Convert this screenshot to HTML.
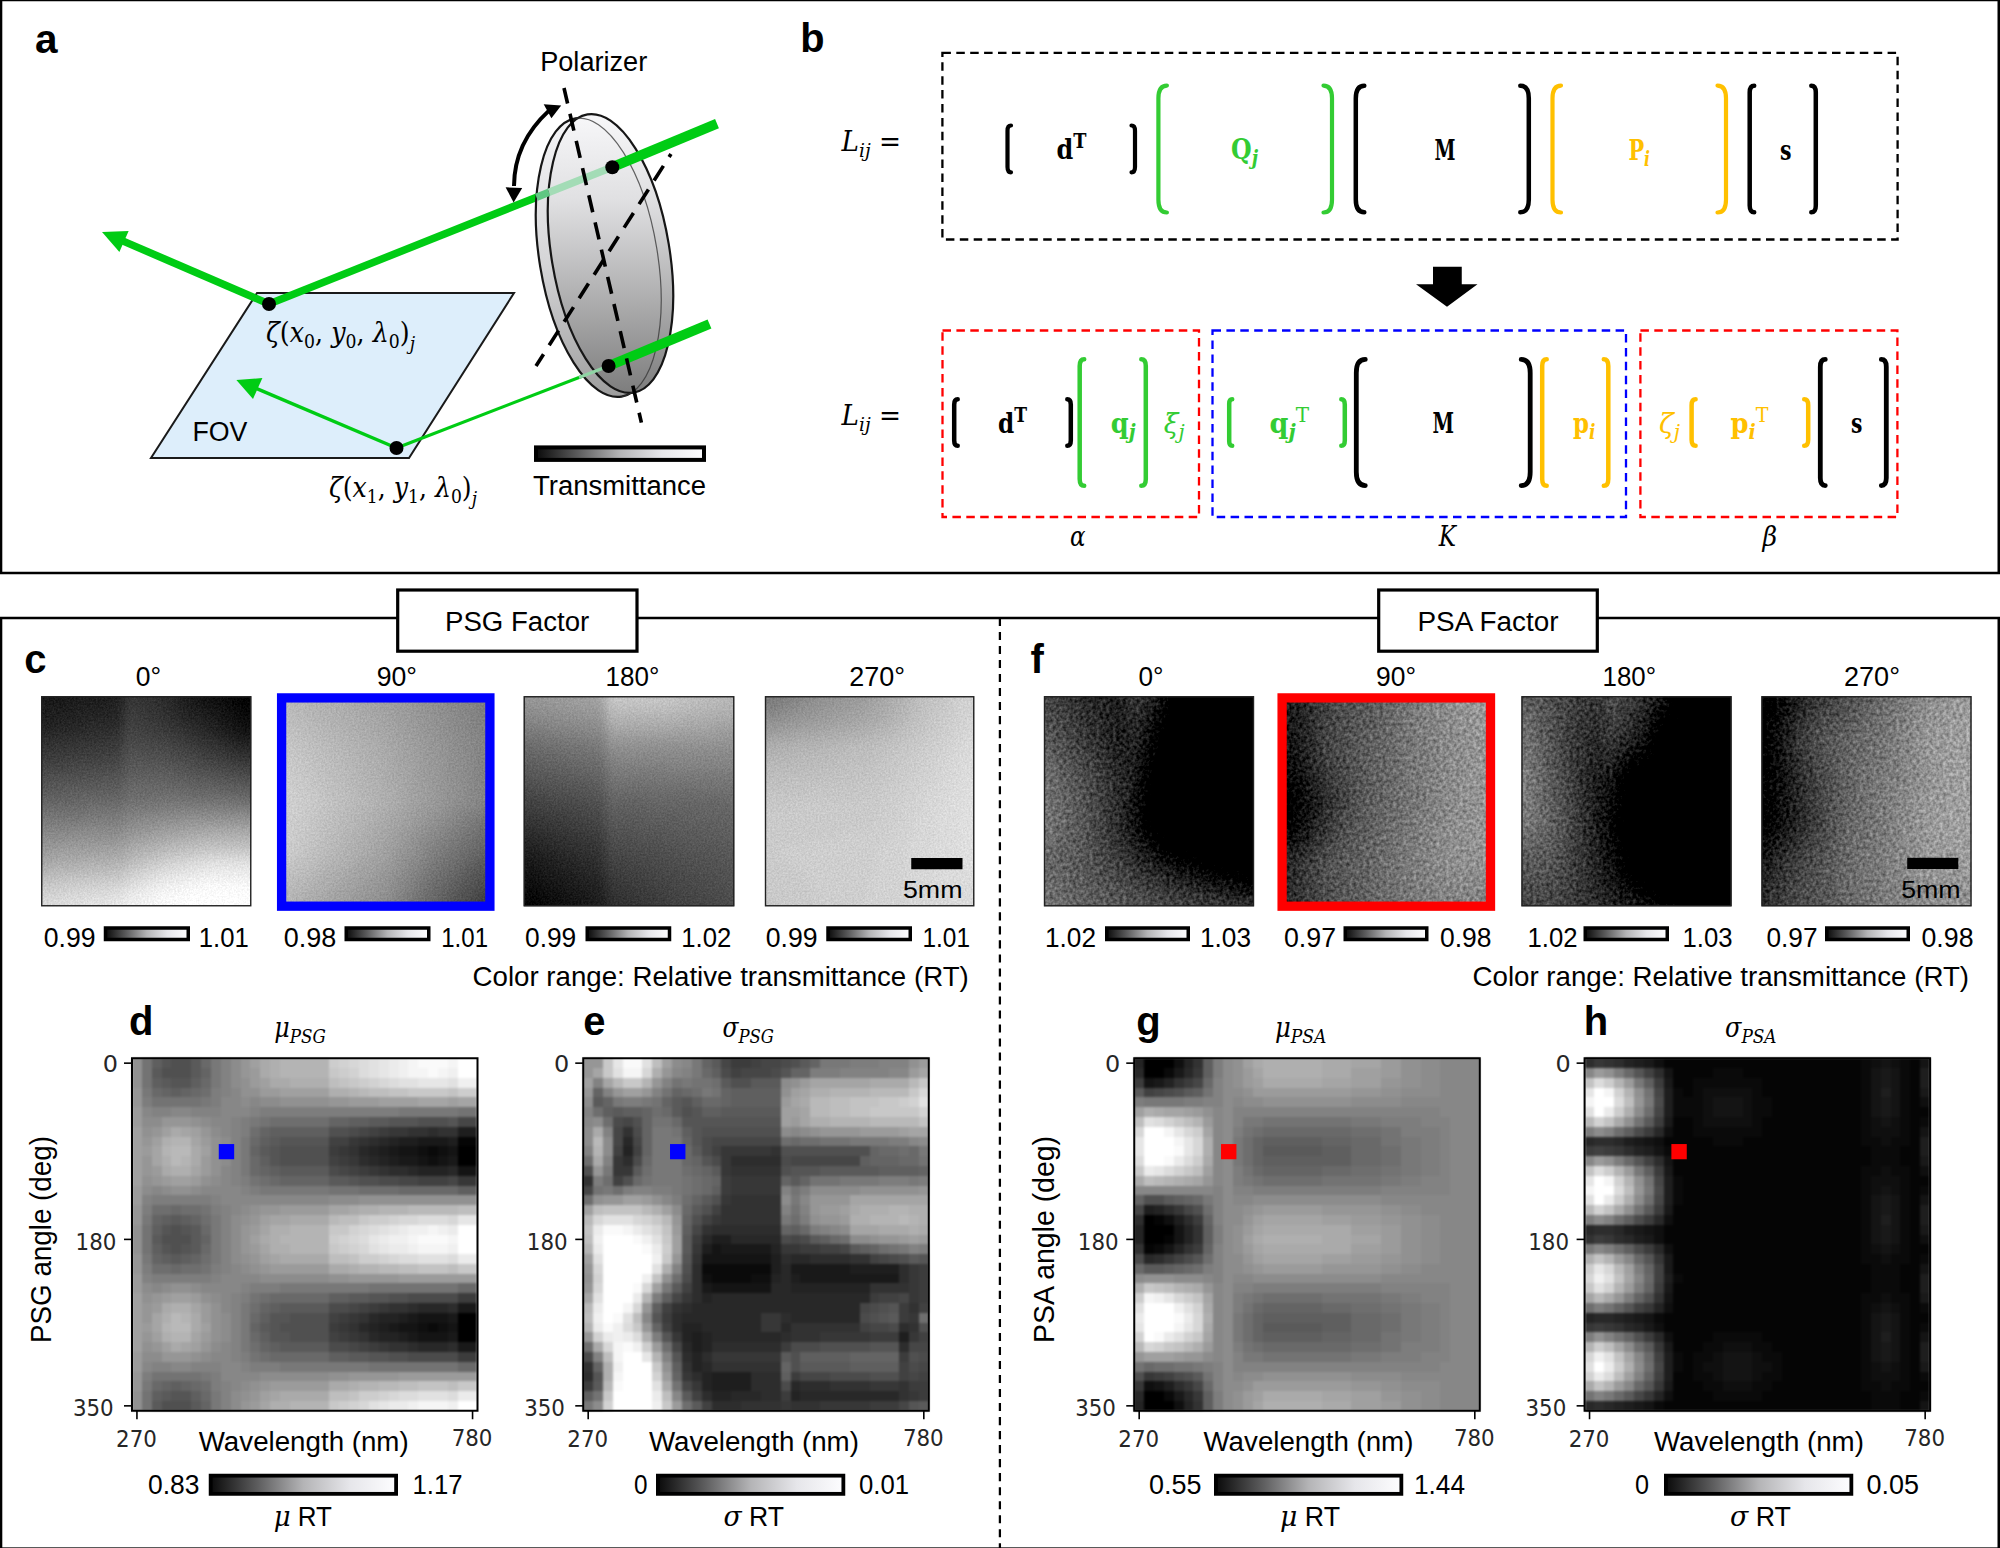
<!DOCTYPE html>
<html lang="en"><head><meta charset="utf-8"><title>Figure</title>
<style>html,body{margin:0;padding:0;background:#fff}svg{display:block}text{white-space:pre}</style>
</head><body>
<svg width="2000" height="1548" viewBox="0 0 2000 1548">
<defs>
<linearGradient id="gb" x1="0" x2="1" y1="0" y2="0"><stop offset="0" stop-color="#0a0a0a"/><stop offset="0.25" stop-color="#5c5c5d"/><stop offset="0.5" stop-color="#b4b4b6"/><stop offset="0.75" stop-color="#e6e6ea"/><stop offset="1" stop-color="#fdfdff"/></linearGradient>
<linearGradient id="disc" gradientUnits="userSpaceOnUse" x1="28" y1="-135" x2="-14" y2="142"><stop offset="0" stop-color="#f7f7f9"/><stop offset="0.3" stop-color="#e0e0e2"/><stop offset="0.6" stop-color="#b6b6b7"/><stop offset="1" stop-color="#7c7c7c"/></linearGradient>
<linearGradient id="discb" gradientUnits="userSpaceOnUse" x1="10" y1="-135" x2="-5" y2="142"><stop offset="0" stop-color="#f4f4f6"/><stop offset="0.5" stop-color="#d4d4d6"/><stop offset="1" stop-color="#9c9c9c"/></linearGradient>
<filter id="nzc" x="0" y="0" width="1" height="1" color-interpolation-filters="sRGB"><feGaussianBlur in="SourceGraphic" stdDeviation="5" result="b"/><feTurbulence type="fractalNoise" baseFrequency="0.55" numOctaves="2" seed="4" result="t"/><feColorMatrix in="t" type="matrix" values="1 0 0 0 0 1 0 0 0 0 1 0 0 0 0 0 0 0 0 1" result="g"/><feComposite in="b" in2="g" operator="arithmetic" k1="0" k2="1" k3="0.16" k4="-0.08"/></filter>
<filter id="nzf" x="0" y="0" width="1" height="1" color-interpolation-filters="sRGB"><feGaussianBlur in="SourceGraphic" stdDeviation="4.5" result="b"/><feTurbulence type="fractalNoise" baseFrequency="0.3" numOctaves="2" seed="9" result="t"/><feColorMatrix in="t" type="matrix" values="1 0 0 0 0 1 0 0 0 0 1 0 0 0 0 0 0 0 0 1" result="g"/><feComposite in="b" in2="g" operator="arithmetic" k1="0" k2="1.2" k3="0.46" k4="-0.43"/></filter>
<filter id="soft" x="-0.02" y="-0.02" width="1.04" height="1.04" color-interpolation-filters="sRGB"><feGaussianBlur stdDeviation="0.9"/></filter>
</defs>
<rect width="2000" height="1548" fill="#fff"/>
<rect x="1.05" y="0" width="1997.7" height="573" fill="none" stroke="#000" stroke-width="2.5"/>
<rect x="1.05" y="618" width="1997.7" height="930.6" fill="none" stroke="#000" stroke-width="2.5"/>
<line x1="999.9" y1="617.9" x2="999.9" y2="1548" stroke="#000" stroke-width="2.25" stroke-dasharray="8.1 5.92"/>
<text x="35" y="52.6" font-size="40.5" font-family="'Liberation Sans',sans-serif" font-weight="bold">a</text>
<polygon points="257,293 514,293 409,458 151,458" fill="#ddeefb" stroke="#1a1a1a" stroke-width="2" stroke-linejoin="miter"/>
<text x="192.4" y="441" font-size="27" font-family="'Liberation Sans',sans-serif" textLength="55" lengthAdjust="spacingAndGlyphs">FOV</text>
<line x1="269" y1="304" x2="560" y2="187.9" stroke="#00cc14" stroke-width="7.5"/>
<line x1="269" y1="304" x2="122" y2="240.6" stroke="#00cc14" stroke-width="7.5"/>
<polygon points="102,232 128.6,230.9 119.4,252.1" fill="#00cc14"/>
<line x1="396.5" y1="448" x2="590" y2="373.2" stroke="#00cc14" stroke-width="3.2"/>
<line x1="396.5" y1="448" x2="255" y2="387.9" stroke="#00cc14" stroke-width="3.4"/>
<polygon points="236.4,380 262.4,378 253,399" fill="#00cc14"/>
<g transform="translate(598.5 257.5) rotate(-9.4)"><ellipse rx="59" ry="141" fill="url(#discb)" stroke="#161616" stroke-width="2.2"/></g>
<g transform="translate(610.5 253.5) rotate(-9.4)"><ellipse rx="59" ry="141" fill="url(#disc)" stroke="#161616" stroke-width="2.2"/></g>
<line x1="536.5" y1="197.2" x2="549" y2="192.2" stroke="#5fc782" stroke-width="7.5"/>
<line x1="549" y1="192.2" x2="612" y2="167.2" stroke="#a3dcb6" stroke-width="7.5"/>
<line x1="579" y1="377.4" x2="608.6" y2="366" stroke="#8fd4a4" stroke-width="3.2"/>
<g transform="translate(598.5 257.5) rotate(-9.4)"><path d="M0,-141 A59,141 0 0 1 0,141" fill="none" stroke="#333" stroke-width="1.2" opacity="0.75"/></g>
<line x1="612.3" y1="167.2" x2="717" y2="123.6" stroke="#00cc14" stroke-width="10"/>
<line x1="608.6" y1="366" x2="709.5" y2="324" stroke="#00cc14" stroke-width="10"/>
<line x1="564" y1="88" x2="641.4" y2="422.6" stroke="#000" stroke-width="3.6" stroke-dasharray="17.4 10.5" stroke-dashoffset="1.5"/>
<line x1="671" y1="154" x2="536" y2="366" stroke="#000" stroke-width="3.6" stroke-dasharray="17.4 10.5" stroke-dashoffset="13.8"/>
<circle cx="269" cy="304" r="7"/>
<circle cx="396.5" cy="448" r="7"/>
<circle cx="612.3" cy="167.2" r="7"/>
<circle cx="608.6" cy="366" r="7"/>
<path d="M549,110.6 Q514.25,142.5 514,186" fill="none" stroke="#000" stroke-width="4"/>
<polygon points="561.2,105.6 543.7,104.2 551.4,118.2"/>
<polygon points="513.6,202.4 505.6,187.3 522.2,188"/>
<text x="540.2" y="71" font-size="27" font-family="'Liberation Sans',sans-serif" textLength="107.04" lengthAdjust="spacingAndGlyphs">Polarizer</text>
<rect x="536" y="447.4" width="168" height="12.5" fill="url(#gb)" stroke="#000" stroke-width="4"/>
<text x="533" y="494.8" font-size="27" font-family="'Liberation Sans',sans-serif" textLength="173.06" lengthAdjust="spacingAndGlyphs">Transmittance</text>
<text x="266" y="342" font-size="28" font-family="'DejaVu Serif','Liberation Serif',serif" textLength="149" lengthAdjust="spacingAndGlyphs"><tspan font-style="italic">ζ</tspan>(<tspan font-style="italic">x</tspan><tspan font-size="19" dy="6">0</tspan><tspan dy="-6">, </tspan><tspan font-style="italic">y</tspan><tspan font-size="19" dy="6">0</tspan><tspan dy="-6">, </tspan><tspan font-style="italic">λ</tspan><tspan font-size="19" dy="6">0</tspan><tspan dy="-6">)</tspan><tspan font-size="19" font-style="italic" dy="8">j</tspan></text>
<text x="329" y="497" font-size="28" font-family="'DejaVu Serif','Liberation Serif',serif" textLength="148" lengthAdjust="spacingAndGlyphs"><tspan font-style="italic">ζ</tspan>(<tspan font-style="italic">x</tspan><tspan font-size="19" dy="6">1</tspan><tspan dy="-6">, </tspan><tspan font-style="italic">y</tspan><tspan font-size="19" dy="6">1</tspan><tspan dy="-6">, </tspan><tspan font-style="italic">λ</tspan><tspan font-size="19" dy="6">0</tspan><tspan dy="-6">)</tspan><tspan font-size="19" font-style="italic" dy="8">j</tspan></text>
<text x="800.3" y="52.2" font-size="39.8" font-family="'Liberation Sans',sans-serif" font-weight="bold">b</text>
<rect x="942.4" y="52.9" width="955.2" height="186.6" fill="none" stroke="#000" stroke-width="2.3" stroke-dasharray="8.5 5.4"/>
<rect x="942.5" y="330.5" width="256.5" height="186.5" fill="none" stroke="#ff0000" stroke-width="2.3" stroke-dasharray="8.5 5.4"/>
<rect x="1212.5" y="330.5" width="413.5" height="186.5" fill="none" stroke="#0000ff" stroke-width="2.3" stroke-dasharray="8.5 5.4"/>
<rect x="1640.4" y="330.5" width="257" height="186.5" fill="none" stroke="#ff0000" stroke-width="2.3" stroke-dasharray="8.5 5.4"/>
<polygon points="1433,266.75 1461.75,266.75 1461.75,284.25 1477.5,284.25 1447,306.75 1416,284.25 1433,284.25"/>
<path d="M1011,125.5 Q1007.5,125.5 1007.5,130.75 L1007.5,167.05 Q1007.5,172.3 1011,172.3" fill="none" stroke="#000" stroke-width="4.2" stroke-linecap="round"/>
<path d="M1131.5,125.5 Q1135,125.5 1135,130.75 L1135,167.05 Q1135,172.3 1131.5,172.3" fill="none" stroke="#000" stroke-width="4.2" stroke-linecap="round"/>
<path d="M1166.9,85.6 Q1158.4,85.6 1158.4,98.35 L1158.4,199.75 Q1158.4,212.5 1166.9,212.5" fill="none" stroke="#33cc33" stroke-width="4.2" stroke-linecap="round"/>
<path d="M1323.5,85.6 Q1332,85.6 1332,98.35 L1332,199.75 Q1332,212.5 1323.5,212.5" fill="none" stroke="#33cc33" stroke-width="4.2" stroke-linecap="round"/>
<path d="M1364.3,85.75 Q1355.8,85.75 1355.8,98.5 L1355.8,199.6 Q1355.8,212.35 1364.3,212.35" fill="none" stroke="#000" stroke-width="4.5" stroke-linecap="round"/>
<path d="M1520.3,85.75 Q1528.8,85.75 1528.8,98.5 L1528.8,199.6 Q1528.8,212.35 1520.3,212.35" fill="none" stroke="#000" stroke-width="4.5" stroke-linecap="round"/>
<path d="M1561,85.6 Q1552.5,85.6 1552.5,98.35 L1552.5,199.75 Q1552.5,212.5 1561,212.5" fill="none" stroke="#ffc000" stroke-width="4.2" stroke-linecap="round"/>
<path d="M1717.5,85.6 Q1726,85.6 1726,98.35 L1726,199.75 Q1726,212.5 1717.5,212.5" fill="none" stroke="#ffc000" stroke-width="4.2" stroke-linecap="round"/>
<path d="M1754.2,85.75 Q1749.7,85.75 1749.7,92.5 L1749.7,205.6 Q1749.7,212.35 1754.2,212.35" fill="none" stroke="#000" stroke-width="4.5" stroke-linecap="round"/>
<path d="M1811.3,85.75 Q1815.8,85.75 1815.8,92.5 L1815.8,205.6 Q1815.8,212.35 1811.3,212.35" fill="none" stroke="#000" stroke-width="4.5" stroke-linecap="round"/>
<path d="M957.7,399.25 Q954.2,399.25 954.2,404.5 L954.2,440.5 Q954.2,445.75 957.7,445.75" fill="none" stroke="#000" stroke-width="4.5" stroke-linecap="round"/>
<path d="M1067.3,399.25 Q1070.8,399.25 1070.8,404.5 L1070.8,440.5 Q1070.8,445.75 1067.3,445.75" fill="none" stroke="#000" stroke-width="4.5" stroke-linecap="round"/>
<path d="M1084.2,359.25 Q1079.7,359.25 1079.7,366 L1079.7,479 Q1079.7,485.75 1084.2,485.75" fill="none" stroke="#33cc33" stroke-width="4.5" stroke-linecap="round"/>
<path d="M1141.3,359.25 Q1145.8,359.25 1145.8,366 L1145.8,479 Q1145.8,485.75 1141.3,485.75" fill="none" stroke="#33cc33" stroke-width="4.5" stroke-linecap="round"/>
<path d="M1232.2,399.25 Q1229.2,399.25 1229.2,403.75 L1229.2,441.25 Q1229.2,445.75 1232.2,445.75" fill="none" stroke="#33cc33" stroke-width="4.5" stroke-linecap="round"/>
<path d="M1341.3,399.25 Q1344.8,399.25 1344.8,404.5 L1344.8,440.5 Q1344.8,445.75 1341.3,445.75" fill="none" stroke="#33cc33" stroke-width="4.5" stroke-linecap="round"/>
<path d="M1365.3,359.4 Q1356.3,359.4 1356.3,372.9 L1356.3,472.1 Q1356.3,485.6 1365.3,485.6" fill="none" stroke="#000" stroke-width="4.8" stroke-linecap="round"/>
<path d="M1521.2,359.4 Q1530.2,359.4 1530.2,372.9 L1530.2,472.1 Q1530.2,485.6 1521.2,485.6" fill="none" stroke="#000" stroke-width="4.8" stroke-linecap="round"/>
<path d="M1546.7,359.25 Q1542.2,359.25 1542.2,366 L1542.2,479 Q1542.2,485.75 1546.7,485.75" fill="none" stroke="#ffc000" stroke-width="4.5" stroke-linecap="round"/>
<path d="M1603.8,359.25 Q1608.3,359.25 1608.3,366 L1608.3,479 Q1608.3,485.75 1603.8,485.75" fill="none" stroke="#ffc000" stroke-width="4.5" stroke-linecap="round"/>
<path d="M1695.6,399.25 Q1691.6,399.25 1691.6,405.25 L1691.6,439.75 Q1691.6,445.75 1695.6,445.75" fill="none" stroke="#ffc000" stroke-width="4.5" stroke-linecap="round"/>
<path d="M1804.2,399.25 Q1808.2,399.25 1808.2,405.25 L1808.2,439.75 Q1808.2,445.75 1804.2,445.75" fill="none" stroke="#ffc000" stroke-width="4.5" stroke-linecap="round"/>
<path d="M1825.3,359.4 Q1820.3,359.4 1820.3,366.9 L1820.3,478.1 Q1820.3,485.6 1825.3,485.6" fill="none" stroke="#000" stroke-width="4.8" stroke-linecap="round"/>
<path d="M1881.3,359.4 Q1886.3,359.4 1886.3,366.9 L1886.3,478.1 Q1886.3,485.6 1881.3,485.6" fill="none" stroke="#000" stroke-width="4.8" stroke-linecap="round"/>
<text x="841.6" y="151" font-size="27" font-family="'DejaVu Serif','Liberation Serif',serif" textLength="59.5" lengthAdjust="spacingAndGlyphs"><tspan font-style="italic">L</tspan><tspan font-style="italic" font-size="19" dy="6">ij</tspan><tspan dy="-6"> =</tspan></text>
<text x="841.6" y="425" font-size="27" font-family="'DejaVu Serif','Liberation Serif',serif" textLength="59.5" lengthAdjust="spacingAndGlyphs"><tspan font-style="italic">L</tspan><tspan font-style="italic" font-size="19" dy="6">ij</tspan><tspan dy="-6"> =</tspan></text>
<text x="1056.4" y="159.4" font-size="27" font-family="'DejaVu Serif','Liberation Serif',serif" textLength="30" lengthAdjust="spacingAndGlyphs"><tspan font-weight="bold">d</tspan><tspan font-size="20" font-weight="bold" dy="-11">T</tspan></text>
<text x="1231" y="159.4" font-size="27" font-family="'DejaVu Serif','Liberation Serif',serif" fill="#33cc33" textLength="27" lengthAdjust="spacingAndGlyphs"><tspan font-weight="bold">Q</tspan><tspan font-size="20" font-style="italic" font-weight="bold" dy="6">j</tspan></text>
<text x="1434.6" y="160" font-size="27" font-family="'DejaVu Serif','Liberation Serif',serif" textLength="21" lengthAdjust="spacingAndGlyphs"><tspan font-weight="bold">M</tspan></text>
<text x="1628.4" y="160" font-size="27" font-family="'DejaVu Serif','Liberation Serif',serif" fill="#ffc000" textLength="21.6" lengthAdjust="spacingAndGlyphs"><tspan font-weight="bold">P</tspan><tspan font-size="20" font-style="italic" font-weight="bold" dy="6">i</tspan></text>
<text x="1780" y="160" font-size="27" font-family="'DejaVu Serif','Liberation Serif',serif" textLength="11.5" lengthAdjust="spacingAndGlyphs"><tspan font-weight="bold">s</tspan></text>
<text x="998" y="432.5" font-size="27" font-family="'DejaVu Serif','Liberation Serif',serif" textLength="29" lengthAdjust="spacingAndGlyphs"><tspan font-weight="bold">d</tspan><tspan font-size="20" font-weight="bold" dy="-11">T</tspan></text>
<text x="1110.75" y="432.5" font-size="27" font-family="'DejaVu Serif','Liberation Serif',serif" fill="#33cc33" textLength="24.75" lengthAdjust="spacingAndGlyphs"><tspan font-weight="bold">q</tspan><tspan font-size="20" font-style="italic" font-weight="bold" dy="6">j</tspan></text>
<text x="1163.75" y="432.5" font-size="27" font-family="'DejaVu Serif','Liberation Serif',serif" fill="#33cc33" textLength="20.75" lengthAdjust="spacingAndGlyphs"><tspan font-weight="normal" font-style="italic">ξ</tspan><tspan font-size="20" font-style="italic" font-weight="normal" dy="6">j</tspan></text>
<text x="1269.5" y="432.5" font-size="27" font-family="'DejaVu Serif','Liberation Serif',serif" fill="#33cc33" textLength="39.5" lengthAdjust="spacingAndGlyphs"><tspan font-weight="bold">q</tspan><tspan font-size="20" font-style="italic" font-weight="bold" dy="6">j</tspan><tspan font-size="20" font-weight="normal" dy="-17">T</tspan></text>
<text x="1432.5" y="433" font-size="27" font-family="'DejaVu Serif','Liberation Serif',serif" textLength="21.5" lengthAdjust="spacingAndGlyphs"><tspan font-weight="bold">M</tspan></text>
<text x="1573" y="433" font-size="27" font-family="'DejaVu Serif','Liberation Serif',serif" fill="#ffc000" textLength="22.5" lengthAdjust="spacingAndGlyphs"><tspan font-weight="bold">p</tspan><tspan font-size="20" font-style="italic" font-weight="bold" dy="6">i</tspan></text>
<text x="1659" y="432.5" font-size="27" font-family="'DejaVu Serif','Liberation Serif',serif" fill="#ffc000" textLength="21" lengthAdjust="spacingAndGlyphs"><tspan font-weight="normal" font-style="italic">ζ</tspan><tspan font-size="20" font-style="italic" font-weight="normal" dy="6">j</tspan></text>
<text x="1730.4" y="432.5" font-size="27" font-family="'DejaVu Serif','Liberation Serif',serif" fill="#ffc000" textLength="38" lengthAdjust="spacingAndGlyphs"><tspan font-weight="bold">p</tspan><tspan font-size="20" font-style="italic" font-weight="bold" dy="6">i</tspan><tspan font-size="20" font-weight="normal" dy="-17">T</tspan></text>
<text x="1851" y="432.5" font-size="27" font-family="'DejaVu Serif','Liberation Serif',serif" textLength="11.4" lengthAdjust="spacingAndGlyphs"><tspan font-weight="bold">s</tspan></text>
<text x="1070" y="546" font-size="27" font-family="'DejaVu Serif','Liberation Serif',serif" font-style="italic" textLength="15.5" lengthAdjust="spacingAndGlyphs">α</text>
<text x="1438.75" y="546" font-size="27" font-family="'DejaVu Serif','Liberation Serif',serif" font-style="italic" textLength="17.25" lengthAdjust="spacingAndGlyphs">K</text>
<text x="1762.4" y="546" font-size="27" font-family="'DejaVu Serif','Liberation Serif',serif" font-style="italic" textLength="14.6" lengthAdjust="spacingAndGlyphs">β</text>
<rect x="397.7" y="590" width="239.3" height="61.2" fill="#fff" stroke="#000" stroke-width="3.2"/>
<rect x="1378.7" y="590" width="218.6" height="61.2" fill="#fff" stroke="#000" stroke-width="3.2"/>
<text x="445" y="630.8" font-size="27" font-family="'Liberation Sans',sans-serif" textLength="144.24" lengthAdjust="spacingAndGlyphs">PSG Factor</text>
<text x="1417.5" y="630.8" font-size="27" font-family="'Liberation Sans',sans-serif" textLength="141.06" lengthAdjust="spacingAndGlyphs">PSA Factor</text>
<text x="24.3" y="673.3" font-size="40" font-family="'Liberation Sans',sans-serif" font-weight="bold">c</text>
<text x="1030.6" y="673.1" font-size="40" font-family="'Liberation Sans',sans-serif" font-weight="bold">f</text>
<text x="129" y="1035.2" font-size="40" font-family="'Liberation Sans',sans-serif" font-weight="bold">d</text>
<text x="583.2" y="1035.2" font-size="40" font-family="'Liberation Sans',sans-serif" font-weight="bold">e</text>
<text x="1136.2" y="1035.2" font-size="40" font-family="'Liberation Sans',sans-serif" font-weight="bold">g</text>
<text x="1583.7" y="1035.2" font-size="40" font-family="'Liberation Sans',sans-serif" font-weight="bold">h</text>
<clipPath id="cp1"><rect x="41.25" y="696.25" width="210" height="210"/></clipPath>
<g clip-path="url(#cp1)">
<g filter="url(#nzc)"><g transform="translate(18.75 673.75) scale(7.5000 7.5000)" shape-rendering="crispEdges"><path fill="#040404" d="M29 0h5v1h-5zM29 1h5v1h-5zM29 2h5v1h-5zM29 3h5v1h-5zM30 4h4v1h-4z"/><path fill="#080808" d="M28 0h1v1h-1zM28 1h1v1h-1zM28 2h1v1h-1zM28 3h1v1h-1zM29 4h1v1h-1zM30 5h4v1h-4z"/><path fill="#0c0c0c" d="M27 0h1v1h-1zM27 1h1v1h-1zM27 2h1v1h-1zM27 3h1v1h-1zM28 4h1v1h-1zM29 5h1v1h-1zM30 6h4v1h-4z"/><path fill="#101010" d="M25 0h2v1h-2zM25 1h2v1h-2zM25 2h2v1h-2zM25 3h2v1h-2zM27 4h1v1h-1zM28 5h1v1h-1zM29 6h1v1h-1zM30 7h4v1h-4z"/><path fill="#141414" d="M24 0h1v1h-1zM24 1h1v1h-1zM24 2h1v1h-1zM24 3h1v1h-1zM25 4h2v1h-2zM27 5h1v1h-1zM28 6h1v1h-1zM29 7h1v1h-1z"/><path fill="#181818" d="M0 0h7v1h-7zM23 0h1v1h-1zM0 1h7v1h-7zM23 1h1v1h-1zM0 2h7v1h-7zM23 2h1v1h-1zM0 3h7v1h-7zM23 3h1v1h-1zM24 4h1v1h-1zM26 5h1v1h-1zM27 6h1v1h-1zM28 7h1v1h-1zM30 8h4v1h-4z"/><path fill="#1c1c1c" d="M7 0h5v1h-5zM22 0h1v1h-1zM7 1h5v1h-5zM22 1h1v1h-1zM7 2h5v1h-5zM22 2h1v1h-1zM7 3h5v1h-5zM22 3h1v1h-1zM0 4h7v1h-7zM23 4h1v1h-1zM0 5h4v1h-4zM25 5h1v1h-1zM26 6h1v1h-1zM27 7h1v1h-1zM29 8h1v1h-1z"/><path fill="#202020" d="M12 0h2v1h-2zM21 0h1v1h-1zM12 1h2v1h-2zM21 1h1v1h-1zM12 2h2v1h-2zM21 2h1v1h-1zM12 3h2v1h-2zM21 3h1v1h-1zM7 4h5v1h-5zM22 4h1v1h-1zM4 5h4v1h-4zM23 5h2v1h-2zM0 6h5v1h-5zM25 6h1v1h-1zM26 7h1v1h-1zM28 8h1v1h-1z"/><path fill="#242424" d="M12 4h2v1h-2zM21 4h1v1h-1zM8 5h5v1h-5zM22 5h1v1h-1zM5 6h4v1h-4zM24 6h1v1h-1zM0 7h5v1h-5zM25 7h1v1h-1zM27 8h1v1h-1zM29 9h5v1h-5z"/><path fill="#282828" d="M20 0h1v1h-1zM20 1h1v1h-1zM20 2h1v1h-1zM20 3h1v1h-1zM20 4h1v1h-1zM13 5h1v1h-1zM21 5h1v1h-1zM9 6h5v1h-5zM22 6h2v1h-2zM5 7h4v1h-4zM24 7h1v1h-1zM26 8h1v1h-1zM28 9h1v1h-1z"/><path fill="#2d2d2d" d="M18 0h2v1h-2zM18 1h2v1h-2zM18 2h2v1h-2zM18 3h2v1h-2zM19 4h1v1h-1zM20 5h1v1h-1zM21 6h1v1h-1zM9 7h4v1h-4zM23 7h1v1h-1zM0 8h7v1h-7zM25 8h1v1h-1zM27 9h1v1h-1zM29 10h5v1h-5z"/><path fill="#313131" d="M16 0h2v1h-2zM16 1h2v1h-2zM16 2h2v1h-2zM16 3h2v1h-2zM18 4h1v1h-1zM19 5h1v1h-1zM20 6h1v1h-1zM13 7h1v1h-1zM22 7h1v1h-1zM7 8h5v1h-5zM23 8h2v1h-2zM0 9h5v1h-5zM26 9h1v1h-1zM28 10h1v1h-1z"/><path fill="#353535" d="M15 0h1v1h-1zM15 1h1v1h-1zM15 2h1v1h-1zM15 3h1v1h-1zM16 4h2v1h-2zM17 5h2v1h-2zM19 6h1v1h-1zM20 7h2v1h-2zM12 8h2v1h-2zM22 8h1v1h-1zM5 9h5v1h-5zM24 9h2v1h-2zM27 10h1v1h-1zM30 11h4v1h-4z"/><path fill="#393939" d="M14 0h1v1h-1zM14 1h1v1h-1zM14 2h1v1h-1zM14 3h1v1h-1zM14 4h2v1h-2zM16 5h1v1h-1zM17 6h2v1h-2zM19 7h1v1h-1zM21 8h1v1h-1zM10 9h4v1h-4zM23 9h1v1h-1zM0 10h8v1h-8zM25 10h2v1h-2zM28 11h2v1h-2z"/><path fill="#3d3d3d" d="M14 5h2v1h-2zM15 6h2v1h-2zM17 7h2v1h-2zM20 8h1v1h-1zM22 9h1v1h-1zM8 10h5v1h-5zM24 10h1v1h-1zM0 11h6v1h-6zM27 11h1v1h-1z"/><path fill="#414141" d="M14 6h1v1h-1zM15 7h2v1h-2zM17 8h3v1h-3zM20 9h2v1h-2zM13 10h1v1h-1zM23 10h1v1h-1zM6 11h5v1h-5zM25 11h2v1h-2zM29 12h5v1h-5z"/><path fill="#454545" d="M14 7h1v1h-1zM15 8h2v1h-2zM18 9h2v1h-2zM21 10h2v1h-2zM11 11h3v1h-3zM24 11h1v1h-1zM0 12h7v1h-7zM27 12h2v1h-2z"/><path fill="#494949" d="M14 8h1v1h-1zM15 9h3v1h-3zM20 10h1v1h-1zM22 11h2v1h-2zM7 12h6v1h-6zM25 12h2v1h-2zM30 13h4v1h-4z"/><path fill="#4d4d4d" d="M14 9h1v1h-1zM16 10h4v1h-4zM20 11h2v1h-2zM13 12h1v1h-1zM23 12h2v1h-2zM0 13h9v1h-9zM28 13h2v1h-2z"/><path fill="#515151" d="M14 10h2v1h-2zM17 11h3v1h-3zM22 12h1v1h-1zM9 13h5v1h-5zM26 13h2v1h-2zM0 14h4v1h-4z"/><path fill="#555" d="M14 11h3v1h-3zM20 12h2v1h-2zM23 13h3v1h-3zM4 14h7v1h-7zM29 14h5v1h-5z"/><path fill="#595959" d="M14 12h6v1h-6zM21 13h2v1h-2zM11 14h3v1h-3zM26 14h3v1h-3zM0 15h6v1h-6z"/><path fill="#5d5d5d" d="M14 13h7v1h-7zM23 14h3v1h-3zM6 15h8v1h-8zM30 15h4v1h-4z"/><path fill="#616161" d="M20 14h3v1h-3zM27 15h3v1h-3zM0 16h8v1h-8z"/><path fill="#656565" d="M14 14h6v1h-6zM23 15h4v1h-4zM8 16h6v1h-6z"/><path fill="#696969" d="M14 15h9v1h-9zM29 16h5v1h-5zM0 17h9v1h-9z"/><path fill="#6d6d6d" d="M14 16h4v1h-4zM22 16h7v1h-7zM9 17h5v1h-5z"/><path fill="#717171" d="M18 16h4v1h-4zM0 18h9v1h-9z"/><path fill="#757575" d="M14 17h5v1h-5zM28 17h6v1h-6zM9 18h5v1h-5z"/><path fill="#797979" d="M19 17h9v1h-9zM0 19h9v1h-9z"/><path fill="#7d7d7d" d="M14 18h3v1h-3zM9 19h5v1h-5z"/><path fill="#828282" d="M17 18h4v1h-4zM0 20h8v1h-8z"/><path fill="#868686" d="M21 18h13v1h-13zM14 19h2v1h-2zM8 20h6v1h-6z"/><path fill="#8a8a8a" d="M16 19h3v1h-3zM0 21h7v1h-7z"/><path fill="#8e8e8e" d="M19 19h3v1h-3zM14 20h2v1h-2zM7 21h7v1h-7z"/><path fill="#929292" d="M22 19h12v1h-12zM16 20h2v1h-2zM0 22h6v1h-6z"/><path fill="#969696" d="M18 20h1v1h-1zM14 21h1v1h-1zM6 22h7v1h-7z"/><path fill="#9a9a9a" d="M19 20h3v1h-3zM15 21h2v1h-2zM13 22h1v1h-1zM0 23h5v1h-5z"/><path fill="#9e9e9e" d="M22 20h3v1h-3zM17 21h1v1h-1zM14 22h1v1h-1zM5 23h6v1h-6z"/><path fill="#a2a2a2" d="M25 20h9v1h-9zM18 21h2v1h-2zM15 22h1v1h-1zM11 23h3v1h-3zM0 24h5v1h-5z"/><path fill="#a6a6a6" d="M20 21h2v1h-2zM16 22h1v1h-1zM5 24h4v1h-4z"/><path fill="#aaa" d="M22 21h2v1h-2zM17 22h2v1h-2zM14 23h1v1h-1zM9 24h5v1h-5zM0 25h4v1h-4z"/><path fill="#aeaeae" d="M24 21h10v1h-10zM19 22h1v1h-1zM15 23h1v1h-1zM4 25h4v1h-4z"/><path fill="#b2b2b2" d="M20 22h2v1h-2zM16 23h2v1h-2zM14 24h1v1h-1zM8 25h4v1h-4z"/><path fill="#b6b6b6" d="M22 22h2v1h-2zM18 23h1v1h-1zM15 24h1v1h-1zM12 25h2v1h-2zM0 26h5v1h-5z"/><path fill="#bababa" d="M24 22h10v1h-10zM19 23h1v1h-1zM16 24h1v1h-1zM5 26h4v1h-4z"/><path fill="#bebebe" d="M20 23h2v1h-2zM17 24h1v1h-1zM14 25h1v1h-1zM9 26h4v1h-4z"/><path fill="#c2c2c2" d="M22 23h2v1h-2zM18 24h1v1h-1zM15 25h1v1h-1zM13 26h1v1h-1zM0 27h6v1h-6z"/><path fill="#c6c6c6" d="M24 23h10v1h-10zM19 24h1v1h-1zM16 25h1v1h-1zM6 27h4v1h-4z"/><path fill="#cacaca" d="M20 24h2v1h-2zM17 25h1v1h-1zM14 26h1v1h-1zM10 27h4v1h-4zM0 28h5v1h-5z"/><path fill="#cecece" d="M22 24h1v1h-1zM18 25h1v1h-1zM15 26h1v1h-1zM5 28h3v1h-3z"/><path fill="#d2d2d2" d="M23 24h2v1h-2zM19 25h1v1h-1zM16 26h1v1h-1zM14 27h1v1h-1zM8 28h4v1h-4zM0 29h6v1h-6z"/><path fill="#d7d7d7" d="M25 24h9v1h-9zM20 25h2v1h-2zM17 26h1v1h-1zM15 27h1v1h-1zM12 28h2v1h-2zM6 29h3v1h-3z"/><path fill="#dbdbdb" d="M22 25h1v1h-1zM18 26h1v1h-1zM16 27h1v1h-1zM9 29h3v1h-3zM0 30h6v1h-6zM0 31h6v1h-6zM0 32h6v1h-6zM0 33h6v1h-6z"/><path fill="#dfdfdf" d="M23 25h2v1h-2zM19 26h2v1h-2zM17 27h1v1h-1zM14 28h1v1h-1zM12 29h2v1h-2zM6 30h3v1h-3zM6 31h3v1h-3zM6 32h3v1h-3zM6 33h3v1h-3z"/><path fill="#e3e3e3" d="M25 25h9v1h-9zM21 26h2v1h-2zM18 27h1v1h-1zM15 28h1v1h-1zM9 30h3v1h-3zM9 31h3v1h-3zM9 32h3v1h-3zM9 33h3v1h-3z"/><path fill="#e7e7e7" d="M23 26h2v1h-2zM19 27h1v1h-1zM16 28h1v1h-1zM14 29h1v1h-1zM12 30h2v1h-2zM12 31h2v1h-2zM12 32h2v1h-2zM12 33h2v1h-2z"/><path fill="#ebebeb" d="M25 26h9v1h-9zM20 27h2v1h-2zM17 28h1v1h-1zM15 29h2v1h-2z"/><path fill="#efefef" d="M22 27h2v1h-2zM18 28h2v1h-2zM17 29h1v1h-1zM14 30h2v1h-2zM14 31h2v1h-2zM14 32h2v1h-2zM14 33h2v1h-2z"/><path fill="#f3f3f3" d="M24 27h10v1h-10zM20 28h2v1h-2zM18 29h1v1h-1zM16 30h1v1h-1zM16 31h1v1h-1zM16 32h1v1h-1zM16 33h1v1h-1z"/><path fill="#f7f7f7" d="M22 28h2v1h-2zM19 29h3v1h-3zM17 30h2v1h-2zM17 31h2v1h-2zM17 32h2v1h-2zM17 33h2v1h-2z"/><path fill="#fbfbfb" d="M24 28h10v1h-10zM22 29h12v1h-12zM19 30h3v1h-3zM19 31h3v1h-3zM19 32h3v1h-3zM19 33h3v1h-3z"/><path fill="#fff" d="M22 30h12v1h-12zM22 31h12v1h-12zM22 32h12v1h-12zM22 33h12v1h-12z"/></g></g>
</g>
<rect x="41.75" y="696.75" width="209" height="209" fill="none" stroke="#222" stroke-width="1.4"/>
<clipPath id="cp2"><rect x="285" y="701" width="202" height="202"/></clipPath>
<g clip-path="url(#cp2)">
<g filter="url(#nzc)"><g transform="translate(263.36 679.36) scale(7.2143 7.2143)" shape-rendering="crispEdges"><path fill="#414141" d="M30 30h4v1h-4zM30 31h4v1h-4zM30 32h4v1h-4zM30 33h4v1h-4z"/><path fill="#454545" d="M30 29h4v1h-4zM29 30h1v1h-1zM29 31h1v1h-1zM29 32h1v1h-1zM29 33h1v1h-1z"/><path fill="#4d4d4d" d="M30 28h4v1h-4zM29 29h1v1h-1zM28 30h1v1h-1zM28 31h1v1h-1zM28 32h1v1h-1zM28 33h1v1h-1z"/><path fill="#515151" d="M30 27h4v1h-4zM29 28h1v1h-1zM28 29h1v1h-1zM27 30h1v1h-1zM27 31h1v1h-1zM27 32h1v1h-1zM27 33h1v1h-1z"/><path fill="#555" d="M30 26h4v1h-4zM29 27h1v1h-1zM28 28h1v1h-1zM27 29h1v1h-1zM26 30h1v1h-1zM26 31h1v1h-1zM26 32h1v1h-1zM26 33h1v1h-1z"/><path fill="#595959" d="M30 25h4v1h-4zM29 26h1v1h-1zM28 27h1v1h-1zM27 28h1v1h-1zM26 29h1v1h-1z"/><path fill="#5d5d5d" d="M30 24h4v1h-4zM29 25h1v1h-1zM28 26h1v1h-1zM27 27h1v1h-1zM25 30h1v1h-1zM25 31h1v1h-1zM25 32h1v1h-1zM25 33h1v1h-1z"/><path fill="#616161" d="M28 25h1v1h-1zM26 28h1v1h-1zM25 29h1v1h-1zM24 30h1v1h-1zM24 31h1v1h-1zM24 32h1v1h-1zM24 33h1v1h-1z"/><path fill="#656565" d="M30 23h4v1h-4zM29 24h1v1h-1zM27 26h1v1h-1zM26 27h1v1h-1zM25 28h1v1h-1zM24 29h1v1h-1z"/><path fill="#696969" d="M30 22h4v1h-4zM29 23h1v1h-1zM28 24h1v1h-1zM27 25h1v1h-1zM26 26h1v1h-1zM25 27h1v1h-1zM24 28h1v1h-1zM23 29h1v1h-1zM23 30h1v1h-1zM23 31h1v1h-1zM23 32h1v1h-1zM23 33h1v1h-1z"/><path fill="#6d6d6d" d="M30 21h4v1h-4zM29 22h1v1h-1zM28 23h1v1h-1zM27 24h1v1h-1zM26 25h1v1h-1zM25 26h1v1h-1zM24 27h1v1h-1zM23 28h1v1h-1zM22 30h1v1h-1zM22 31h1v1h-1zM22 32h1v1h-1zM22 33h1v1h-1z"/><path fill="#717171" d="M30 20h4v1h-4zM29 21h1v1h-1zM28 22h1v1h-1zM27 23h1v1h-1zM26 24h1v1h-1zM25 25h1v1h-1zM24 26h1v1h-1zM23 27h1v1h-1zM22 29h1v1h-1zM21 30h1v1h-1zM21 31h1v1h-1zM21 32h1v1h-1zM21 33h1v1h-1z"/><path fill="#757575" d="M30 19h4v1h-4zM29 20h1v1h-1zM28 21h1v1h-1zM27 22h1v1h-1zM26 23h1v1h-1zM25 24h1v1h-1zM24 25h1v1h-1zM23 26h1v1h-1zM22 28h1v1h-1zM21 29h1v1h-1z"/><path fill="#797979" d="M29 19h1v1h-1zM28 20h1v1h-1zM27 21h1v1h-1zM26 22h1v1h-1zM25 23h1v1h-1zM24 24h1v1h-1zM23 25h1v1h-1zM22 27h1v1h-1zM21 28h1v1h-1zM20 30h1v1h-1zM20 31h1v1h-1zM20 32h1v1h-1zM20 33h1v1h-1z"/><path fill="#7d7d7d" d="M30 0h4v1h-4zM30 1h4v1h-4zM30 2h4v1h-4zM30 3h4v1h-4zM30 4h4v1h-4zM30 18h4v1h-4zM28 19h1v1h-1zM27 20h1v1h-1zM26 21h1v1h-1zM25 22h1v1h-1zM24 23h1v1h-1zM23 24h1v1h-1zM22 26h1v1h-1zM21 27h1v1h-1zM20 29h1v1h-1zM19 30h1v1h-1zM19 31h1v1h-1zM19 32h1v1h-1zM19 33h1v1h-1z"/><path fill="#828282" d="M29 0h1v1h-1zM29 1h1v1h-1zM29 2h1v1h-1zM29 3h1v1h-1zM29 4h1v1h-1zM29 5h5v1h-5zM29 6h5v1h-5zM30 7h4v1h-4zM30 8h4v1h-4zM30 9h4v1h-4zM30 10h4v1h-4zM30 11h4v1h-4zM30 12h4v1h-4zM30 13h4v1h-4zM30 14h4v1h-4zM30 17h4v1h-4zM28 18h2v1h-2zM27 19h1v1h-1zM26 20h1v1h-1zM25 21h1v1h-1zM24 22h1v1h-1zM23 23h1v1h-1zM22 25h1v1h-1zM21 26h1v1h-1zM20 27h1v1h-1zM20 28h1v1h-1zM19 29h1v1h-1z"/><path fill="#868686" d="M27 0h2v1h-2zM27 1h2v1h-2zM27 2h2v1h-2zM27 3h2v1h-2zM27 4h2v1h-2zM28 5h1v1h-1zM28 6h1v1h-1zM28 7h2v1h-2zM29 8h1v1h-1zM29 9h1v1h-1zM29 10h1v1h-1zM29 11h1v1h-1zM29 12h1v1h-1zM29 13h1v1h-1zM29 14h1v1h-1zM29 15h5v1h-5zM29 16h5v1h-5zM29 17h1v1h-1zM27 18h1v1h-1zM26 19h1v1h-1zM25 20h1v1h-1zM24 21h1v1h-1zM23 22h1v1h-1zM22 23h1v1h-1zM22 24h1v1h-1zM21 25h1v1h-1zM20 26h1v1h-1zM19 28h1v1h-1zM18 30h1v1h-1zM18 31h1v1h-1zM18 32h1v1h-1zM18 33h1v1h-1z"/><path fill="#8a8a8a" d="M25 0h2v1h-2zM25 1h2v1h-2zM25 2h2v1h-2zM25 3h2v1h-2zM26 4h1v1h-1zM26 5h2v1h-2zM26 6h2v1h-2zM27 7h1v1h-1zM27 8h2v1h-2zM27 9h2v1h-2zM28 10h1v1h-1zM28 11h1v1h-1zM28 12h1v1h-1zM28 13h1v1h-1zM28 14h1v1h-1zM28 15h1v1h-1zM28 16h1v1h-1zM27 17h2v1h-2zM26 18h1v1h-1zM25 19h1v1h-1zM24 20h1v1h-1zM23 21h1v1h-1zM22 22h1v1h-1zM21 24h1v1h-1zM20 25h1v1h-1zM19 27h1v1h-1zM18 28h1v1h-1zM18 29h1v1h-1zM17 30h1v1h-1zM17 31h1v1h-1zM17 32h1v1h-1zM17 33h1v1h-1z"/><path fill="#8e8e8e" d="M24 0h1v1h-1zM24 1h1v1h-1zM24 2h1v1h-1zM24 3h1v1h-1zM24 4h2v1h-2zM25 5h1v1h-1zM25 6h1v1h-1zM25 7h2v1h-2zM26 8h1v1h-1zM26 9h1v1h-1zM26 10h2v1h-2zM26 11h2v1h-2zM26 12h2v1h-2zM26 13h2v1h-2zM27 14h1v1h-1zM27 15h1v1h-1zM27 16h1v1h-1zM26 17h1v1h-1zM25 18h1v1h-1zM24 19h1v1h-1zM23 20h1v1h-1zM22 21h1v1h-1zM21 22h1v1h-1zM21 23h1v1h-1zM20 24h1v1h-1zM19 25h1v1h-1zM19 26h1v1h-1zM18 27h1v1h-1zM17 29h1v1h-1zM16 30h1v1h-1zM16 31h1v1h-1zM16 32h1v1h-1zM16 33h1v1h-1z"/><path fill="#929292" d="M22 0h2v1h-2zM22 1h2v1h-2zM22 2h2v1h-2zM22 3h2v1h-2zM23 4h1v1h-1zM23 5h2v1h-2zM23 6h2v1h-2zM24 7h1v1h-1zM24 8h2v1h-2zM25 9h1v1h-1zM25 10h1v1h-1zM25 11h1v1h-1zM25 12h1v1h-1zM25 13h1v1h-1zM25 14h2v1h-2zM25 15h2v1h-2zM25 16h2v1h-2zM25 17h1v1h-1zM24 18h1v1h-1zM23 19h1v1h-1zM22 20h1v1h-1zM21 21h1v1h-1zM20 22h1v1h-1zM20 23h1v1h-1zM19 24h1v1h-1zM18 26h1v1h-1zM17 27h1v1h-1zM17 28h1v1h-1zM16 29h1v1h-1zM15 30h1v1h-1zM15 31h1v1h-1zM15 32h1v1h-1zM15 33h1v1h-1z"/><path fill="#969696" d="M21 0h1v1h-1zM21 1h1v1h-1zM21 2h1v1h-1zM21 3h1v1h-1zM21 4h2v1h-2zM21 5h2v1h-2zM22 6h1v1h-1zM22 7h2v1h-2zM23 8h1v1h-1zM23 9h2v1h-2zM23 10h2v1h-2zM24 11h1v1h-1zM24 12h1v1h-1zM24 13h1v1h-1zM24 14h1v1h-1zM24 15h1v1h-1zM24 16h1v1h-1zM24 17h1v1h-1zM23 18h1v1h-1zM22 19h1v1h-1zM21 20h1v1h-1zM20 21h1v1h-1zM19 23h1v1h-1zM18 24h1v1h-1zM18 25h1v1h-1zM17 26h1v1h-1zM16 27h1v1h-1zM15 28h2v1h-2zM14 29h2v1h-2zM13 30h2v1h-2zM13 31h2v1h-2zM13 32h2v1h-2zM13 33h2v1h-2z"/><path fill="#9a9a9a" d="M19 0h2v1h-2zM19 1h2v1h-2zM19 2h2v1h-2zM19 3h2v1h-2zM19 4h2v1h-2zM20 5h1v1h-1zM20 6h2v1h-2zM21 7h1v1h-1zM21 8h2v1h-2zM22 9h1v1h-1zM22 10h1v1h-1zM22 11h2v1h-2zM22 12h2v1h-2zM22 13h2v1h-2zM23 14h1v1h-1zM23 15h1v1h-1zM23 16h1v1h-1zM22 17h2v1h-2zM21 18h2v1h-2zM21 19h1v1h-1zM20 20h1v1h-1zM19 21h1v1h-1zM19 22h1v1h-1zM18 23h1v1h-1zM17 25h1v1h-1zM16 26h1v1h-1zM15 27h1v1h-1zM14 28h1v1h-1zM13 29h1v1h-1zM12 30h1v1h-1zM12 31h1v1h-1zM12 32h1v1h-1zM12 33h1v1h-1z"/><path fill="#9e9e9e" d="M17 0h2v1h-2zM17 1h2v1h-2zM17 2h2v1h-2zM17 3h2v1h-2zM18 4h1v1h-1zM18 5h2v1h-2zM19 6h1v1h-1zM19 7h2v1h-2zM20 8h1v1h-1zM20 9h2v1h-2zM21 10h1v1h-1zM21 11h1v1h-1zM21 12h1v1h-1zM21 13h1v1h-1zM21 14h2v1h-2zM21 15h2v1h-2zM22 16h1v1h-1zM21 17h1v1h-1zM20 18h1v1h-1zM20 19h1v1h-1zM19 20h1v1h-1zM18 21h1v1h-1zM18 22h1v1h-1zM17 23h1v1h-1zM17 24h1v1h-1zM16 25h1v1h-1zM15 26h1v1h-1zM14 27h1v1h-1zM13 28h1v1h-1zM12 29h1v1h-1zM11 30h1v1h-1zM11 31h1v1h-1zM11 32h1v1h-1zM11 33h1v1h-1z"/><path fill="#a2a2a2" d="M15 0h2v1h-2zM15 1h2v1h-2zM15 2h2v1h-2zM15 3h2v1h-2zM16 4h2v1h-2zM17 5h1v1h-1zM17 6h2v1h-2zM18 7h1v1h-1zM18 8h2v1h-2zM19 9h1v1h-1zM19 10h2v1h-2zM19 11h2v1h-2zM20 12h1v1h-1zM20 13h1v1h-1zM20 14h1v1h-1zM20 15h1v1h-1zM20 16h2v1h-2zM20 17h1v1h-1zM19 18h1v1h-1zM19 19h1v1h-1zM18 20h1v1h-1zM17 21h1v1h-1zM17 22h1v1h-1zM16 23h1v1h-1zM15 24h2v1h-2zM14 25h2v1h-2zM13 26h2v1h-2zM12 27h2v1h-2zM11 28h2v1h-2zM10 29h2v1h-2zM9 30h2v1h-2zM9 31h2v1h-2zM9 32h2v1h-2zM9 33h2v1h-2z"/><path fill="#a6a6a6" d="M13 0h2v1h-2zM13 1h2v1h-2zM13 2h2v1h-2zM13 3h2v1h-2zM14 4h2v1h-2zM15 5h2v1h-2zM15 6h2v1h-2zM16 7h2v1h-2zM17 8h1v1h-1zM17 9h2v1h-2zM18 10h1v1h-1zM18 11h1v1h-1zM18 12h2v1h-2zM18 13h2v1h-2zM19 14h1v1h-1zM19 15h1v1h-1zM19 16h1v1h-1zM19 17h1v1h-1zM18 18h1v1h-1zM17 19h2v1h-2zM17 20h1v1h-1zM16 21h1v1h-1zM15 22h2v1h-2zM15 23h1v1h-1zM14 24h1v1h-1zM13 25h1v1h-1zM12 26h1v1h-1zM11 27h1v1h-1zM10 28h1v1h-1zM9 29h1v1h-1zM8 30h1v1h-1zM8 31h1v1h-1zM8 32h1v1h-1zM8 33h1v1h-1z"/><path fill="#aaa" d="M11 0h2v1h-2zM11 1h2v1h-2zM11 2h2v1h-2zM11 3h2v1h-2zM12 4h2v1h-2zM13 5h2v1h-2zM13 6h2v1h-2zM14 7h2v1h-2zM15 8h2v1h-2zM16 9h1v1h-1zM16 10h2v1h-2zM17 11h1v1h-1zM17 12h1v1h-1zM17 13h1v1h-1zM17 14h2v1h-2zM18 15h1v1h-1zM18 16h1v1h-1zM18 17h1v1h-1zM17 18h1v1h-1zM16 19h1v1h-1zM15 20h2v1h-2zM15 21h1v1h-1zM14 22h1v1h-1zM14 23h1v1h-1zM13 24h1v1h-1zM12 25h1v1h-1zM11 26h1v1h-1zM10 27h1v1h-1zM9 28h1v1h-1zM8 29h1v1h-1zM6 30h2v1h-2zM6 31h2v1h-2zM6 32h2v1h-2zM6 33h2v1h-2z"/><path fill="#aeaeae" d="M9 0h2v1h-2zM9 1h2v1h-2zM9 2h2v1h-2zM9 3h2v1h-2zM10 4h2v1h-2zM10 5h3v1h-3zM11 6h2v1h-2zM12 7h2v1h-2zM13 8h2v1h-2zM14 9h2v1h-2zM14 10h2v1h-2zM15 11h2v1h-2zM15 12h2v1h-2zM15 13h2v1h-2zM16 14h1v1h-1zM16 15h2v1h-2zM16 16h2v1h-2zM16 17h2v1h-2zM15 18h2v1h-2zM15 19h1v1h-1zM14 20h1v1h-1zM13 21h2v1h-2zM13 22h1v1h-1zM12 23h2v1h-2zM12 24h1v1h-1zM11 25h1v1h-1zM9 26h2v1h-2zM8 27h2v1h-2zM7 28h2v1h-2zM6 29h2v1h-2zM5 30h1v1h-1zM5 31h1v1h-1zM5 32h1v1h-1zM5 33h1v1h-1z"/><path fill="#b2b2b2" d="M6 0h3v1h-3zM6 1h3v1h-3zM6 2h3v1h-3zM6 3h3v1h-3zM7 4h3v1h-3zM8 5h2v1h-2zM9 6h2v1h-2zM10 7h2v1h-2zM11 8h2v1h-2zM12 9h2v1h-2zM12 10h2v1h-2zM13 11h2v1h-2zM13 12h2v1h-2zM14 13h1v1h-1zM14 14h2v1h-2zM14 15h2v1h-2zM15 16h1v1h-1zM15 17h1v1h-1zM14 18h1v1h-1zM13 19h2v1h-2zM13 20h1v1h-1zM12 21h1v1h-1zM11 22h2v1h-2zM11 23h1v1h-1zM10 24h2v1h-2zM9 25h2v1h-2zM8 26h1v1h-1zM7 27h1v1h-1zM6 28h1v1h-1zM5 29h1v1h-1zM4 30h1v1h-1zM4 31h1v1h-1zM4 32h1v1h-1zM4 33h1v1h-1z"/><path fill="#b6b6b6" d="M4 0h2v1h-2zM4 1h2v1h-2zM4 2h2v1h-2zM4 3h2v1h-2zM5 4h2v1h-2zM6 5h2v1h-2zM7 6h2v1h-2zM8 7h2v1h-2zM9 8h2v1h-2zM10 9h2v1h-2zM11 10h1v1h-1zM11 11h2v1h-2zM12 12h1v1h-1zM12 13h2v1h-2zM12 14h2v1h-2zM13 15h1v1h-1zM13 16h2v1h-2zM13 17h2v1h-2zM12 18h2v1h-2zM12 19h1v1h-1zM11 20h2v1h-2zM11 21h1v1h-1zM10 22h1v1h-1zM10 23h1v1h-1zM9 24h1v1h-1zM8 25h1v1h-1zM7 26h1v1h-1zM6 27h1v1h-1zM5 28h1v1h-1zM0 29h5v1h-5zM0 30h4v1h-4zM0 31h4v1h-4zM0 32h4v1h-4zM0 33h4v1h-4z"/><path fill="#bababa" d="M0 0h4v1h-4zM0 1h4v1h-4zM0 2h4v1h-4zM0 3h4v1h-4zM0 4h5v1h-5zM4 5h2v1h-2zM5 6h2v1h-2zM6 7h2v1h-2zM7 8h2v1h-2zM8 9h2v1h-2zM9 10h2v1h-2zM9 11h2v1h-2zM10 12h2v1h-2zM10 13h2v1h-2zM11 14h1v1h-1zM11 15h2v1h-2zM12 16h1v1h-1zM11 17h2v1h-2zM11 18h1v1h-1zM10 19h2v1h-2zM10 20h1v1h-1zM9 21h2v1h-2zM9 22h1v1h-1zM8 23h2v1h-2zM8 24h1v1h-1zM7 25h1v1h-1zM6 26h1v1h-1zM4 27h2v1h-2zM0 28h5v1h-5z"/><path fill="#bebebe" d="M0 5h4v1h-4zM0 6h5v1h-5zM4 7h2v1h-2zM5 8h2v1h-2zM6 9h2v1h-2zM7 10h2v1h-2zM7 11h2v1h-2zM8 12h2v1h-2zM8 13h2v1h-2zM9 14h2v1h-2zM9 15h2v1h-2zM10 16h2v1h-2zM10 17h1v1h-1zM9 18h2v1h-2zM9 19h1v1h-1zM8 20h2v1h-2zM8 21h1v1h-1zM8 22h1v1h-1zM7 23h1v1h-1zM6 24h2v1h-2zM5 25h2v1h-2zM4 26h2v1h-2zM0 27h4v1h-4z"/><path fill="#c2c2c2" d="M0 7h4v1h-4zM0 8h5v1h-5zM4 9h2v1h-2zM5 10h2v1h-2zM6 11h1v1h-1zM6 12h2v1h-2zM7 13h1v1h-1zM7 14h2v1h-2zM8 15h1v1h-1zM8 16h2v1h-2zM8 17h2v1h-2zM8 18h1v1h-1zM7 19h2v1h-2zM7 20h1v1h-1zM7 21h1v1h-1zM6 22h2v1h-2zM6 23h1v1h-1zM5 24h1v1h-1zM4 25h1v1h-1zM0 26h4v1h-4z"/><path fill="#c6c6c6" d="M0 9h4v1h-4zM0 10h5v1h-5zM4 11h2v1h-2zM4 12h2v1h-2zM5 13h2v1h-2zM6 14h1v1h-1zM6 15h2v1h-2zM7 16h1v1h-1zM7 17h1v1h-1zM6 18h2v1h-2zM6 19h1v1h-1zM6 20h1v1h-1zM5 21h2v1h-2zM5 22h1v1h-1zM5 23h1v1h-1zM4 24h1v1h-1zM0 25h4v1h-4z"/><path fill="#cacaca" d="M0 11h4v1h-4zM0 12h4v1h-4zM0 13h5v1h-5zM4 14h2v1h-2zM4 15h2v1h-2zM5 16h2v1h-2zM5 17h2v1h-2zM5 18h1v1h-1zM4 19h2v1h-2zM4 20h2v1h-2zM4 21h1v1h-1zM4 22h1v1h-1zM0 23h5v1h-5zM0 24h4v1h-4z"/><path fill="#cecece" d="M0 14h4v1h-4zM0 15h4v1h-4zM0 16h5v1h-5zM0 17h5v1h-5zM0 18h5v1h-5zM0 19h4v1h-4zM0 20h4v1h-4zM0 21h4v1h-4zM0 22h4v1h-4z"/></g></g>
</g>
<rect x="281.6" y="697.9" width="208.3" height="208.3" fill="none" stroke="#0000ff" stroke-width="9.3"/>
<clipPath id="cp3"><rect x="523.75" y="696.25" width="210.5" height="210"/></clipPath>
<g clip-path="url(#cp3)">
<g filter="url(#nzc)"><g transform="translate(501.2 673.75) scale(7.5179 7.5000)" shape-rendering="crispEdges"><path fill="#040404" d="M0 30h5v1h-5zM0 31h5v1h-5zM0 32h5v1h-5zM0 33h5v1h-5z"/><path fill="#080808" d="M0 29h5v1h-5zM5 30h1v1h-1zM5 31h1v1h-1zM5 32h1v1h-1zM5 33h1v1h-1z"/><path fill="#0c0c0c" d="M0 28h5v1h-5zM5 29h1v1h-1zM6 30h2v1h-2zM6 31h2v1h-2zM6 32h2v1h-2zM6 33h2v1h-2z"/><path fill="#101010" d="M0 27h5v1h-5zM5 28h1v1h-1zM6 29h2v1h-2zM8 30h1v1h-1zM8 31h1v1h-1zM8 32h1v1h-1zM8 33h1v1h-1z"/><path fill="#141414" d="M0 26h5v1h-5zM5 27h1v1h-1zM6 28h2v1h-2zM8 29h1v1h-1zM9 30h2v1h-2zM9 31h2v1h-2zM9 32h2v1h-2zM9 33h2v1h-2z"/><path fill="#181818" d="M0 25h5v1h-5zM5 26h1v1h-1zM6 27h2v1h-2zM8 28h1v1h-1zM9 29h2v1h-2zM11 30h1v1h-1zM11 31h1v1h-1zM11 32h1v1h-1zM11 33h1v1h-1z"/><path fill="#1c1c1c" d="M0 24h5v1h-5zM5 25h2v1h-2zM6 26h2v1h-2zM8 27h2v1h-2zM9 28h2v1h-2zM11 29h1v1h-1zM12 30h2v1h-2zM12 31h2v1h-2zM12 32h2v1h-2zM12 33h2v1h-2z"/><path fill="#202020" d="M0 23h5v1h-5zM5 24h2v1h-2zM7 25h1v1h-1zM8 26h2v1h-2zM10 27h1v1h-1zM11 28h2v1h-2zM12 29h2v1h-2z"/><path fill="#242424" d="M0 22h4v1h-4zM5 23h1v1h-1zM7 24h1v1h-1zM8 25h2v1h-2zM10 26h1v1h-1zM11 27h2v1h-2zM13 28h1v1h-1z"/><path fill="#282828" d="M0 21h4v1h-4zM4 22h2v1h-2zM6 23h2v1h-2zM8 24h2v1h-2zM10 25h2v1h-2zM11 26h2v1h-2zM13 27h1v1h-1z"/><path fill="#2d2d2d" d="M4 21h2v1h-2zM6 22h2v1h-2zM8 23h2v1h-2zM10 24h2v1h-2zM12 25h1v1h-1zM13 26h1v1h-1zM14 30h1v1h-1zM14 31h1v1h-1zM14 32h1v1h-1zM14 33h1v1h-1z"/><path fill="#313131" d="M0 20h5v1h-5zM6 21h2v1h-2zM8 22h2v1h-2zM10 23h2v1h-2zM12 24h2v1h-2zM13 25h1v1h-1zM14 29h1v1h-1zM15 30h2v1h-2zM15 31h2v1h-2zM15 32h2v1h-2zM15 33h2v1h-2z"/><path fill="#353535" d="M0 19h5v1h-5zM5 20h2v1h-2zM8 21h2v1h-2zM10 22h2v1h-2zM12 23h2v1h-2zM14 28h2v1h-2zM15 29h2v1h-2zM17 30h2v1h-2zM17 31h2v1h-2zM17 32h2v1h-2zM17 33h2v1h-2z"/><path fill="#393939" d="M0 18h4v1h-4zM5 19h2v1h-2zM7 20h2v1h-2zM10 21h2v1h-2zM12 22h2v1h-2zM14 27h2v1h-2zM16 28h2v1h-2zM17 29h2v1h-2zM19 30h2v1h-2zM19 31h2v1h-2zM19 32h2v1h-2zM19 33h2v1h-2z"/><path fill="#3d3d3d" d="M4 18h2v1h-2zM7 19h2v1h-2zM9 20h2v1h-2zM12 21h2v1h-2zM14 26h2v1h-2zM16 27h2v1h-2zM18 28h2v1h-2zM19 29h2v1h-2zM21 30h1v1h-1zM21 31h1v1h-1zM21 32h1v1h-1zM21 33h1v1h-1z"/><path fill="#414141" d="M0 17h6v1h-6zM6 18h3v1h-3zM9 19h2v1h-2zM11 20h2v1h-2zM14 25h3v1h-3zM16 26h3v1h-3zM18 27h2v1h-2zM20 28h2v1h-2zM21 29h2v1h-2zM22 30h3v1h-3zM22 31h3v1h-3zM22 32h3v1h-3zM22 33h3v1h-3z"/><path fill="#454545" d="M0 16h5v1h-5zM6 17h2v1h-2zM9 18h2v1h-2zM11 19h2v1h-2zM13 20h1v1h-1zM14 24h3v1h-3zM17 25h2v1h-2zM19 26h2v1h-2zM20 27h3v1h-3zM22 28h2v1h-2zM23 29h3v1h-3zM25 30h3v1h-3zM25 31h3v1h-3zM25 32h3v1h-3zM25 33h3v1h-3z"/><path fill="#494949" d="M0 15h4v1h-4zM5 16h2v1h-2zM8 17h3v1h-3zM11 18h2v1h-2zM13 19h1v1h-1zM14 23h3v1h-3zM17 24h3v1h-3zM19 25h3v1h-3zM21 26h3v1h-3zM23 27h3v1h-3zM24 28h3v1h-3zM26 29h3v1h-3zM28 30h2v1h-2zM28 31h2v1h-2zM28 32h2v1h-2zM28 33h2v1h-2z"/><path fill="#4d4d4d" d="M4 15h2v1h-2zM7 16h3v1h-3zM11 17h2v1h-2zM13 18h1v1h-1zM14 22h4v1h-4zM17 23h4v1h-4zM20 24h3v1h-3zM22 25h3v1h-3zM24 26h3v1h-3zM26 27h3v1h-3zM27 28h3v1h-3zM29 29h5v1h-5zM30 30h4v1h-4zM30 31h4v1h-4zM30 32h4v1h-4zM30 33h4v1h-4z"/><path fill="#515151" d="M0 14h5v1h-5zM6 15h3v1h-3zM10 16h2v1h-2zM13 17h1v1h-1zM14 21h4v1h-4zM18 22h3v1h-3zM21 23h3v1h-3zM23 24h4v1h-4zM25 25h4v1h-4zM27 26h7v1h-7zM29 27h5v1h-5zM30 28h4v1h-4z"/><path fill="#555" d="M0 13h4v1h-4zM5 14h3v1h-3zM9 15h3v1h-3zM12 16h2v1h-2zM14 20h4v1h-4zM18 21h4v1h-4zM21 22h4v1h-4zM24 23h5v1h-5zM27 24h7v1h-7zM29 25h5v1h-5z"/><path fill="#595959" d="M4 13h3v1h-3zM8 14h3v1h-3zM12 15h2v1h-2zM14 19h5v1h-5zM18 20h5v1h-5zM22 21h5v1h-5zM25 22h5v1h-5zM29 23h5v1h-5z"/><path fill="#5d5d5d" d="M0 12h6v1h-6zM7 13h3v1h-3zM11 14h2v1h-2zM14 18h5v1h-5zM19 19h5v1h-5zM23 20h6v1h-6zM27 21h7v1h-7zM30 22h4v1h-4z"/><path fill="#616161" d="M0 11h5v1h-5zM6 12h3v1h-3zM10 13h2v1h-2zM13 14h1v1h-1zM14 17h6v1h-6zM19 18h7v1h-7zM24 19h10v1h-10zM29 20h5v1h-5z"/><path fill="#656565" d="M0 10h4v1h-4zM5 11h3v1h-3zM9 12h2v1h-2zM12 13h2v1h-2zM14 16h5v1h-5zM20 17h10v1h-10zM26 18h8v1h-8z"/><path fill="#696969" d="M4 10h3v1h-3zM8 11h2v1h-2zM11 12h3v1h-3zM19 16h11v1h-11zM30 17h4v1h-4z"/><path fill="#6d6d6d" d="M0 9h5v1h-5zM7 10h2v1h-2zM10 11h3v1h-3zM14 15h12v1h-12zM30 16h4v1h-4z"/><path fill="#717171" d="M5 9h3v1h-3zM9 10h3v1h-3zM13 11h1v1h-1zM14 14h6v1h-6zM26 15h8v1h-8z"/><path fill="#757575" d="M0 8h6v1h-6zM8 9h3v1h-3zM12 10h2v1h-2zM14 13h1v1h-1zM20 14h14v1h-14z"/><path fill="#797979" d="M6 8h2v1h-2zM11 9h2v1h-2zM15 13h19v1h-19z"/><path fill="#7d7d7d" d="M0 7h6v1h-6zM8 8h3v1h-3zM13 9h1v1h-1zM14 12h8v1h-8z"/><path fill="#828282" d="M0 6h4v1h-4zM6 7h3v1h-3zM11 8h3v1h-3zM14 11h2v1h-2zM22 12h12v1h-12z"/><path fill="#868686" d="M4 6h3v1h-3zM9 7h3v1h-3zM16 11h18v1h-18z"/><path fill="#8a8a8a" d="M0 5h5v1h-5zM7 6h3v1h-3zM12 7h2v1h-2zM14 10h20v1h-20z"/><path fill="#8e8e8e" d="M0 4h4v1h-4zM5 5h3v1h-3zM10 6h3v1h-3z"/><path fill="#929292" d="M4 4h3v1h-3zM8 5h3v1h-3zM13 6h1v1h-1zM14 9h20v1h-20z"/><path fill="#969696" d="M0 0h6v1h-6zM0 1h6v1h-6zM0 2h6v1h-6zM0 3h6v1h-6zM7 4h3v1h-3zM11 5h3v1h-3zM29 8h5v1h-5z"/><path fill="#9a9a9a" d="M6 0h3v1h-3zM6 1h3v1h-3zM6 2h3v1h-3zM6 3h3v1h-3zM10 4h3v1h-3zM14 8h15v1h-15z"/><path fill="#9e9e9e" d="M9 0h3v1h-3zM9 1h3v1h-3zM9 2h3v1h-3zM9 3h3v1h-3zM13 4h1v1h-1zM28 7h6v1h-6z"/><path fill="#a2a2a2" d="M12 0h2v1h-2zM12 1h2v1h-2zM12 2h2v1h-2zM12 3h2v1h-2zM14 7h1v1h-1zM23 7h5v1h-5z"/><path fill="#a6a6a6" d="M28 6h6v1h-6zM15 7h8v1h-8z"/><path fill="#aaa" d="M24 6h4v1h-4z"/><path fill="#aeaeae" d="M27 5h7v1h-7zM14 6h10v1h-10z"/><path fill="#b2b2b2" d="M29 4h5v1h-5zM24 5h3v1h-3z"/><path fill="#b6b6b6" d="M30 0h4v1h-4zM30 1h4v1h-4zM30 2h4v1h-4zM30 3h4v1h-4zM26 4h3v1h-3zM14 5h10v1h-10z"/><path fill="#bababa" d="M27 0h3v1h-3zM27 1h3v1h-3zM27 2h3v1h-3zM27 3h3v1h-3zM23 4h3v1h-3z"/><path fill="#bebebe" d="M25 0h2v1h-2zM25 1h2v1h-2zM25 2h2v1h-2zM25 3h2v1h-2zM14 4h9v1h-9z"/><path fill="#c2c2c2" d="M23 0h2v1h-2zM23 1h2v1h-2zM23 2h2v1h-2zM23 3h2v1h-2z"/><path fill="#c6c6c6" d="M14 0h9v1h-9zM14 1h9v1h-9zM14 2h9v1h-9zM14 3h9v1h-9z"/></g></g>
</g>
<rect x="524.25" y="696.75" width="209.5" height="209" fill="none" stroke="#222" stroke-width="1.4"/>
<clipPath id="cp4"><rect x="765" y="696.25" width="209.25" height="210"/></clipPath>
<g clip-path="url(#cp4)">
<g filter="url(#nzc)"><g transform="translate(742.58 673.75) scale(7.4732 7.5000)" shape-rendering="crispEdges"><path fill="#797979" d="M0 0h4v1h-4zM0 1h4v1h-4zM0 2h4v1h-4zM0 3h4v1h-4z"/><path fill="#7d7d7d" d="M4 0h1v1h-1zM4 1h1v1h-1zM4 2h1v1h-1zM4 3h1v1h-1z"/><path fill="#828282" d="M5 0h2v1h-2zM5 1h2v1h-2zM5 2h2v1h-2zM5 3h2v1h-2zM0 4h5v1h-5z"/><path fill="#868686" d="M7 0h1v1h-1zM7 1h1v1h-1zM7 2h1v1h-1zM7 3h1v1h-1zM5 4h1v1h-1z"/><path fill="#8a8a8a" d="M8 0h1v1h-1zM8 1h1v1h-1zM8 2h1v1h-1zM8 3h1v1h-1zM6 4h1v1h-1zM0 5h5v1h-5z"/><path fill="#8e8e8e" d="M9 0h1v1h-1zM9 1h1v1h-1zM9 2h1v1h-1zM9 3h1v1h-1zM7 4h1v1h-1zM5 5h1v1h-1z"/><path fill="#929292" d="M10 0h2v1h-2zM10 1h2v1h-2zM10 2h2v1h-2zM10 3h2v1h-2zM8 4h2v1h-2zM6 5h2v1h-2zM0 6h5v1h-5z"/><path fill="#969696" d="M12 0h2v1h-2zM12 1h2v1h-2zM12 2h2v1h-2zM12 3h2v1h-2zM10 4h2v1h-2zM8 5h2v1h-2zM5 6h2v1h-2z"/><path fill="#9a9a9a" d="M14 0h2v1h-2zM14 1h2v1h-2zM14 2h2v1h-2zM14 3h2v1h-2zM12 4h2v1h-2zM10 5h2v1h-2zM7 6h2v1h-2zM0 7h5v1h-5z"/><path fill="#9e9e9e" d="M16 0h1v1h-1zM16 1h1v1h-1zM16 2h1v1h-1zM16 3h1v1h-1zM14 4h2v1h-2zM12 5h2v1h-2zM9 6h3v1h-3zM5 7h2v1h-2z"/><path fill="#a2a2a2" d="M17 0h1v1h-1zM17 1h1v1h-1zM17 2h1v1h-1zM17 3h1v1h-1zM16 4h1v1h-1zM14 5h2v1h-2zM12 6h2v1h-2zM7 7h3v1h-3zM0 8h4v1h-4z"/><path fill="#a6a6a6" d="M18 0h1v1h-1zM18 1h1v1h-1zM18 2h1v1h-1zM18 3h1v1h-1zM17 4h1v1h-1zM16 5h2v1h-2zM14 6h2v1h-2zM10 7h2v1h-2zM4 8h3v1h-3z"/><path fill="#aaa" d="M19 0h1v1h-1zM19 1h1v1h-1zM19 2h1v1h-1zM19 3h1v1h-1zM18 4h1v1h-1zM18 5h1v1h-1zM16 6h2v1h-2zM12 7h3v1h-3zM7 8h3v1h-3zM0 9h4v1h-4z"/><path fill="#aeaeae" d="M20 0h1v1h-1zM20 1h1v1h-1zM20 2h1v1h-1zM20 3h1v1h-1zM19 4h1v1h-1zM19 5h1v1h-1zM18 6h1v1h-1zM15 7h2v1h-2zM10 8h3v1h-3zM4 9h3v1h-3z"/><path fill="#b2b2b2" d="M21 0h1v1h-1zM21 1h1v1h-1zM21 2h1v1h-1zM21 3h1v1h-1zM20 4h1v1h-1zM20 5h1v1h-1zM19 6h1v1h-1zM17 7h1v1h-1zM13 8h3v1h-3zM7 9h4v1h-4zM0 10h6v1h-6z"/><path fill="#b6b6b6" d="M22 0h1v1h-1zM22 1h1v1h-1zM22 2h1v1h-1zM22 3h1v1h-1zM21 4h1v1h-1zM21 5h1v1h-1zM20 6h1v1h-1zM18 7h2v1h-2zM16 8h2v1h-2zM11 9h3v1h-3zM6 10h4v1h-4zM0 11h7v1h-7z"/><path fill="#bababa" d="M22 4h1v1h-1zM22 5h1v1h-1zM21 6h1v1h-1zM20 7h1v1h-1zM18 8h2v1h-2zM14 9h3v1h-3zM10 10h4v1h-4zM7 11h5v1h-5zM0 12h9v1h-9zM0 13h4v1h-4z"/><path fill="#bebebe" d="M23 0h1v1h-1zM23 1h1v1h-1zM23 2h1v1h-1zM23 3h1v1h-1zM23 4h1v1h-1zM23 5h1v1h-1zM22 6h1v1h-1zM21 7h1v1h-1zM20 8h1v1h-1zM17 9h2v1h-2zM14 10h4v1h-4zM12 11h5v1h-5zM9 12h5v1h-5zM4 13h7v1h-7zM0 14h6v1h-6z"/><path fill="#c2c2c2" d="M24 0h2v1h-2zM24 1h2v1h-2zM24 2h2v1h-2zM24 3h2v1h-2zM24 4h1v1h-1zM24 5h1v1h-1zM23 6h1v1h-1zM22 7h2v1h-2zM21 8h2v1h-2zM19 9h2v1h-2zM18 10h2v1h-2zM17 11h2v1h-2zM14 12h4v1h-4zM11 13h6v1h-6zM6 14h9v1h-9zM0 15h9v1h-9z"/><path fill="#c6c6c6" d="M26 0h1v1h-1zM26 1h1v1h-1zM26 2h1v1h-1zM26 3h1v1h-1zM25 4h2v1h-2zM25 5h1v1h-1zM24 6h2v1h-2zM24 7h1v1h-1zM23 8h1v1h-1zM21 9h2v1h-2zM20 10h2v1h-2zM19 11h2v1h-2zM18 12h2v1h-2zM17 13h3v1h-3zM15 14h4v1h-4zM9 15h9v1h-9zM0 16h16v1h-16zM0 17h7v1h-7zM0 30h4v1h-4zM0 31h4v1h-4zM0 32h4v1h-4zM0 33h4v1h-4z"/><path fill="#cacaca" d="M27 0h1v1h-1zM27 1h1v1h-1zM27 2h1v1h-1zM27 3h1v1h-1zM27 4h1v1h-1zM26 5h2v1h-2zM26 6h1v1h-1zM25 7h2v1h-2zM24 8h2v1h-2zM23 9h2v1h-2zM22 10h2v1h-2zM21 11h2v1h-2zM20 12h3v1h-3zM20 13h2v1h-2zM19 14h2v1h-2zM18 15h2v1h-2zM16 16h3v1h-3zM7 17h12v1h-12zM0 18h18v1h-18zM0 19h18v1h-18zM0 20h17v1h-17zM0 21h13v1h-13zM0 22h9v1h-9zM0 23h5v1h-5zM0 24h5v1h-5zM0 25h7v1h-7zM0 26h8v1h-8zM0 27h9v1h-9zM0 28h9v1h-9zM0 29h10v1h-10zM4 30h6v1h-6zM4 31h6v1h-6zM4 32h6v1h-6zM4 33h6v1h-6z"/><path fill="#cecece" d="M28 0h1v1h-1zM28 1h1v1h-1zM28 2h1v1h-1zM28 3h1v1h-1zM28 4h1v1h-1zM28 5h1v1h-1zM27 6h2v1h-2zM27 7h1v1h-1zM26 8h2v1h-2zM25 9h2v1h-2zM24 10h2v1h-2zM23 11h2v1h-2zM23 12h2v1h-2zM22 13h2v1h-2zM21 14h2v1h-2zM20 15h3v1h-3zM19 16h3v1h-3zM19 17h2v1h-2zM18 18h3v1h-3zM18 19h3v1h-3zM17 20h3v1h-3zM13 21h7v1h-7zM9 22h10v1h-10zM5 23h13v1h-13zM5 24h13v1h-13zM7 25h11v1h-11zM8 26h10v1h-10zM9 27h8v1h-8zM9 28h8v1h-8zM10 29h7v1h-7zM10 30h6v1h-6zM10 31h6v1h-6zM10 32h6v1h-6zM10 33h6v1h-6z"/><path fill="#d2d2d2" d="M29 0h5v1h-5zM29 1h5v1h-5zM29 2h5v1h-5zM29 3h5v1h-5zM29 4h5v1h-5zM29 5h5v1h-5zM29 6h1v1h-1zM28 7h2v1h-2zM28 8h1v1h-1zM27 9h1v1h-1zM26 10h2v1h-2zM25 11h2v1h-2zM25 12h2v1h-2zM24 13h2v1h-2zM23 14h3v1h-3zM23 15h2v1h-2zM22 16h2v1h-2zM21 17h3v1h-3zM21 18h3v1h-3zM21 19h2v1h-2zM20 20h3v1h-3zM20 21h3v1h-3zM19 22h3v1h-3zM18 23h4v1h-4zM18 24h4v1h-4zM18 25h4v1h-4zM18 26h4v1h-4zM17 27h5v1h-5zM17 28h5v1h-5zM17 29h5v1h-5zM16 30h6v1h-6zM16 31h6v1h-6zM16 32h6v1h-6zM16 33h6v1h-6z"/><path fill="#d7d7d7" d="M30 6h4v1h-4zM30 7h4v1h-4zM29 8h5v1h-5zM28 9h2v1h-2zM28 10h2v1h-2zM27 11h2v1h-2zM27 12h2v1h-2zM26 13h3v1h-3zM26 14h2v1h-2zM25 15h3v1h-3zM24 16h3v1h-3zM24 17h3v1h-3zM24 18h2v1h-2zM23 19h3v1h-3zM23 20h3v1h-3zM23 21h3v1h-3zM22 22h4v1h-4zM22 23h3v1h-3zM22 24h3v1h-3zM22 25h4v1h-4zM22 26h4v1h-4zM22 27h4v1h-4zM22 28h5v1h-5zM22 29h5v1h-5zM22 30h6v1h-6zM22 31h6v1h-6zM22 32h6v1h-6zM22 33h6v1h-6z"/><path fill="#dbdbdb" d="M30 9h4v1h-4zM30 10h4v1h-4zM29 11h5v1h-5zM29 12h5v1h-5zM29 13h5v1h-5zM28 14h2v1h-2zM28 15h2v1h-2zM27 16h3v1h-3zM27 17h2v1h-2zM26 18h3v1h-3zM26 19h3v1h-3zM26 20h3v1h-3zM26 21h3v1h-3zM26 22h3v1h-3zM25 23h4v1h-4zM25 24h4v1h-4zM26 25h3v1h-3zM26 26h4v1h-4zM26 27h8v1h-8zM27 28h7v1h-7zM27 29h7v1h-7zM28 30h6v1h-6zM28 31h6v1h-6zM28 32h6v1h-6zM28 33h6v1h-6z"/><path fill="#dfdfdf" d="M30 14h4v1h-4zM30 15h4v1h-4zM30 16h4v1h-4zM29 17h5v1h-5zM29 18h5v1h-5zM29 19h5v1h-5zM29 20h5v1h-5zM29 21h5v1h-5zM29 22h5v1h-5zM29 23h5v1h-5zM29 24h5v1h-5zM29 25h5v1h-5zM30 26h4v1h-4z"/></g></g>
</g>
<rect x="765.5" y="696.75" width="208.25" height="209" fill="none" stroke="#222" stroke-width="1.4"/>
<clipPath id="cp5"><rect x="1044" y="696.25" width="210" height="210"/></clipPath>
<g clip-path="url(#cp5)">
<g filter="url(#nzf)"><g transform="translate(1021.5 673.75) scale(7.5000 7.5000)" shape-rendering="crispEdges"><path fill="#000" d="M21 0h13v1h-13zM21 1h13v1h-13zM21 2h13v1h-13zM21 3h13v1h-13zM21 4h13v1h-13zM21 5h13v1h-13zM21 6h13v1h-13zM21 7h13v1h-13zM20 8h14v1h-14zM20 9h14v1h-14zM20 10h14v1h-14zM20 11h14v1h-14zM20 12h14v1h-14zM20 13h14v1h-14zM20 14h14v1h-14zM20 15h14v1h-14zM20 16h14v1h-14zM19 17h15v1h-15zM19 18h15v1h-15zM19 19h15v1h-15zM22 20h12v1h-12zM22 21h12v1h-12zM22 22h12v1h-12zM30 23h4v1h-4zM30 24h4v1h-4z"/><path fill="#040404" d="M20 7h1v1h-1zM19 9h1v1h-1zM19 10h1v1h-1zM19 11h1v1h-1zM19 12h1v1h-1zM19 13h1v1h-1zM19 14h1v1h-1zM19 15h1v1h-1zM19 16h1v1h-1zM18 17h1v1h-1zM18 18h1v1h-1zM18 19h1v1h-1zM19 20h3v1h-3zM21 21h1v1h-1zM26 23h4v1h-4zM28 24h2v1h-2zM30 25h4v1h-4z"/><path fill="#080808" d="M20 5h1v1h-1zM20 6h1v1h-1zM19 8h1v1h-1zM18 13h1v1h-1zM18 14h1v1h-1zM18 15h1v1h-1zM18 16h1v1h-1zM20 21h1v1h-1zM21 22h1v1h-1zM24 23h2v1h-2zM26 24h2v1h-2zM28 25h2v1h-2z"/><path fill="#0c0c0c" d="M20 4h1v1h-1zM19 7h1v1h-1zM18 12h1v1h-1zM17 16h1v1h-1zM17 17h1v1h-1zM17 18h1v1h-1zM17 19h1v1h-1zM18 20h1v1h-1zM19 21h1v1h-1zM20 22h1v1h-1zM22 23h2v1h-2zM25 24h1v1h-1zM27 25h1v1h-1z"/><path fill="#101010" d="M20 0h1v1h-1zM20 1h1v1h-1zM20 2h1v1h-1zM20 3h1v1h-1zM18 10h1v1h-1zM18 11h1v1h-1zM17 14h1v1h-1zM17 15h1v1h-1zM19 22h1v1h-1zM24 24h1v1h-1zM26 25h1v1h-1zM30 26h4v1h-4z"/><path fill="#141414" d="M19 6h1v1h-1zM18 9h1v1h-1zM17 13h1v1h-1zM17 20h1v1h-1zM18 21h1v1h-1zM21 23h1v1h-1zM23 24h1v1h-1zM25 25h1v1h-1zM29 26h1v1h-1z"/><path fill="#181818" d="M19 5h1v1h-1zM18 8h1v1h-1zM17 12h1v1h-1zM20 23h1v1h-1zM22 24h1v1h-1zM24 25h1v1h-1zM28 26h1v1h-1z"/><path fill="#1c1c1c" d="M17 11h1v1h-1zM16 19h1v1h-1zM18 22h1v1h-1zM19 23h1v1h-1zM27 26h1v1h-1zM30 27h4v1h-4z"/><path fill="#202020" d="M19 4h1v1h-1zM18 7h1v1h-1zM16 17h1v1h-1zM16 18h1v1h-1zM17 21h1v1h-1zM21 24h1v1h-1zM23 25h1v1h-1zM26 26h1v1h-1z"/><path fill="#242424" d="M19 0h1v1h-1zM19 1h1v1h-1zM19 2h1v1h-1zM19 3h1v1h-1zM18 6h1v1h-1zM17 10h1v1h-1zM16 15h1v1h-1zM16 16h1v1h-1zM16 20h1v1h-1zM25 26h1v1h-1zM29 27h1v1h-1z"/><path fill="#282828" d="M17 9h1v1h-1zM16 13h1v1h-1zM16 14h1v1h-1zM17 22h1v1h-1zM18 23h1v1h-1zM20 24h1v1h-1zM22 25h1v1h-1zM28 27h1v1h-1z"/><path fill="#2d2d2d" d="M18 5h1v1h-1zM17 8h1v1h-1zM16 12h1v1h-1zM16 21h1v1h-1zM19 24h1v1h-1zM21 25h1v1h-1zM24 26h1v1h-1zM27 27h1v1h-1zM30 28h4v1h-4z"/><path fill="#313131" d="M18 4h1v1h-1zM17 7h1v1h-1zM16 11h1v1h-1zM15 17h1v1h-1zM15 18h1v1h-1zM15 19h1v1h-1zM23 26h1v1h-1zM26 27h1v1h-1zM29 28h1v1h-1z"/><path fill="#353535" d="M18 0h1v1h-1zM18 1h1v1h-1zM18 2h1v1h-1zM18 3h1v1h-1zM17 6h1v1h-1zM16 9h1v1h-1zM16 10h1v1h-1zM15 15h1v1h-1zM15 16h1v1h-1zM15 20h1v1h-1zM16 22h1v1h-1zM17 23h1v1h-1zM18 24h1v1h-1zM20 25h1v1h-1zM22 26h1v1h-1zM25 27h1v1h-1zM28 28h1v1h-1z"/><path fill="#393939" d="M16 8h1v1h-1zM15 13h1v1h-1zM15 14h1v1h-1zM15 21h1v1h-1zM19 25h1v1h-1zM21 26h1v1h-1zM24 27h1v1h-1zM27 28h1v1h-1z"/><path fill="#3d3d3d" d="M17 5h1v1h-1zM13 7h1v1h-1zM16 7h1v1h-1zM13 8h1v1h-1zM15 10h1v1h-1zM15 11h1v1h-1zM15 12h1v1h-1zM14 18h1v1h-1zM14 19h1v1h-1zM15 22h1v1h-1zM16 23h1v1h-1zM17 24h1v1h-1zM18 25h1v1h-1zM20 26h1v1h-1zM23 27h1v1h-1zM26 28h1v1h-1zM30 29h4v1h-4z"/><path fill="#414141" d="M13 0h1v1h-1zM13 1h1v1h-1zM13 2h1v1h-1zM13 3h1v1h-1zM13 4h1v1h-1zM17 4h1v1h-1zM13 5h1v1h-1zM13 6h1v1h-1zM16 6h1v1h-1zM13 9h1v1h-1zM15 9h1v1h-1zM13 10h1v1h-1zM14 16h1v1h-1zM14 17h1v1h-1zM14 20h1v1h-1zM14 21h1v1h-1zM16 24h1v1h-1zM19 26h1v1h-1zM22 27h1v1h-1zM25 28h1v1h-1zM29 29h1v1h-1z"/><path fill="#454545" d="M11 0h2v1h-2zM17 0h1v1h-1zM11 1h2v1h-2zM17 1h1v1h-1zM11 2h2v1h-2zM17 2h1v1h-1zM11 3h2v1h-2zM17 3h1v1h-1zM11 4h2v1h-2zM12 5h1v1h-1zM16 5h1v1h-1zM12 6h1v1h-1zM12 7h1v1h-1zM15 7h1v1h-1zM12 8h1v1h-1zM15 8h1v1h-1zM12 9h1v1h-1zM13 11h1v1h-1zM13 12h1v1h-1zM14 13h1v1h-1zM14 14h1v1h-1zM14 15h1v1h-1zM14 22h1v1h-1zM15 23h1v1h-1zM17 25h1v1h-1zM21 27h1v1h-1zM24 28h1v1h-1zM28 29h1v1h-1z"/><path fill="#494949" d="M9 0h2v1h-2zM9 1h2v1h-2zM9 2h2v1h-2zM9 3h2v1h-2zM10 4h1v1h-1zM16 4h1v1h-1zM10 5h2v1h-2zM11 6h1v1h-1zM15 6h1v1h-1zM11 7h1v1h-1zM11 8h1v1h-1zM12 10h1v1h-1zM14 10h1v1h-1zM12 11h1v1h-1zM14 11h1v1h-1zM14 12h1v1h-1zM13 13h1v1h-1zM13 14h1v1h-1zM13 15h1v1h-1zM13 16h1v1h-1zM13 17h1v1h-1zM13 18h1v1h-1zM13 19h1v1h-1zM13 20h1v1h-1zM15 24h1v1h-1zM16 25h1v1h-1zM18 26h1v1h-1zM20 27h1v1h-1zM23 28h1v1h-1zM26 29h2v1h-2z"/><path fill="#4d4d4d" d="M8 0h1v1h-1zM16 0h1v1h-1zM8 1h1v1h-1zM16 1h1v1h-1zM8 2h1v1h-1zM16 2h1v1h-1zM8 3h1v1h-1zM16 3h1v1h-1zM9 4h1v1h-1zM9 5h1v1h-1zM15 5h1v1h-1zM10 6h1v1h-1zM10 7h1v1h-1zM14 7h1v1h-1zM10 8h1v1h-1zM14 8h1v1h-1zM11 9h1v1h-1zM14 9h1v1h-1zM11 10h1v1h-1zM12 12h1v1h-1zM12 13h1v1h-1zM13 21h1v1h-1zM14 23h1v1h-1zM17 26h1v1h-1zM19 27h1v1h-1zM21 28h2v1h-2zM25 29h1v1h-1zM30 30h4v1h-4zM30 31h4v1h-4zM30 32h4v1h-4zM30 33h4v1h-4z"/><path fill="#515151" d="M7 0h1v1h-1zM15 0h1v1h-1zM7 1h1v1h-1zM15 1h1v1h-1zM7 2h1v1h-1zM15 2h1v1h-1zM7 3h1v1h-1zM15 3h1v1h-1zM8 4h1v1h-1zM15 4h1v1h-1zM8 5h1v1h-1zM14 5h1v1h-1zM9 6h1v1h-1zM14 6h1v1h-1zM9 7h1v1h-1zM10 9h1v1h-1zM11 11h1v1h-1zM11 12h1v1h-1zM12 14h1v1h-1zM12 15h1v1h-1zM12 16h1v1h-1zM12 17h1v1h-1zM12 18h1v1h-1zM12 19h1v1h-1zM12 20h1v1h-1zM13 22h1v1h-1zM14 24h1v1h-1zM15 25h1v1h-1zM16 26h1v1h-1zM18 27h1v1h-1zM20 28h1v1h-1zM23 29h2v1h-2zM28 30h2v1h-2zM28 31h2v1h-2zM28 32h2v1h-2zM28 33h2v1h-2z"/><path fill="#555" d="M6 0h1v1h-1zM6 1h1v1h-1zM6 2h1v1h-1zM6 3h1v1h-1zM7 4h1v1h-1zM14 4h1v1h-1zM7 5h1v1h-1zM8 6h1v1h-1zM8 7h1v1h-1zM9 8h1v1h-1zM9 9h1v1h-1zM10 10h1v1h-1zM10 11h1v1h-1zM11 13h1v1h-1zM12 21h1v1h-1zM12 22h1v1h-1zM13 23h1v1h-1zM14 25h1v1h-1zM15 26h1v1h-1zM17 27h1v1h-1zM19 28h1v1h-1zM21 29h2v1h-2zM26 30h2v1h-2zM26 31h2v1h-2zM26 32h2v1h-2zM26 33h2v1h-2z"/><path fill="#595959" d="M5 0h1v1h-1zM14 0h1v1h-1zM5 1h1v1h-1zM14 1h1v1h-1zM5 2h1v1h-1zM14 2h1v1h-1zM5 3h1v1h-1zM14 3h1v1h-1zM6 4h1v1h-1zM7 6h1v1h-1zM8 8h1v1h-1zM9 10h1v1h-1zM10 12h1v1h-1zM11 14h1v1h-1zM11 15h1v1h-1zM11 16h1v1h-1zM11 17h1v1h-1zM11 18h1v1h-1zM11 19h1v1h-1zM11 20h1v1h-1zM12 23h1v1h-1zM13 24h1v1h-1zM16 27h1v1h-1zM18 28h1v1h-1zM20 29h1v1h-1zM24 30h2v1h-2zM24 31h2v1h-2zM24 32h2v1h-2zM24 33h2v1h-2z"/><path fill="#5d5d5d" d="M5 4h1v1h-1zM6 5h1v1h-1zM6 6h1v1h-1zM7 7h1v1h-1zM7 8h1v1h-1zM8 9h1v1h-1zM9 11h1v1h-1zM10 13h1v1h-1zM10 14h1v1h-1zM10 15h1v1h-1zM10 16h1v1h-1zM11 21h1v1h-1zM11 22h1v1h-1zM12 24h1v1h-1zM13 25h1v1h-1zM14 26h1v1h-1zM15 27h1v1h-1zM17 28h1v1h-1zM18 29h2v1h-2zM22 30h2v1h-2zM22 31h2v1h-2zM22 32h2v1h-2zM22 33h2v1h-2z"/><path fill="#616161" d="M4 0h1v1h-1zM4 1h1v1h-1zM4 2h1v1h-1zM4 3h1v1h-1zM4 4h1v1h-1zM5 5h1v1h-1zM5 6h1v1h-1zM6 7h1v1h-1zM7 9h1v1h-1zM8 10h1v1h-1zM8 11h1v1h-1zM9 12h1v1h-1zM9 13h1v1h-1zM10 17h1v1h-1zM10 18h1v1h-1zM10 19h1v1h-1zM10 20h1v1h-1zM10 21h1v1h-1zM11 23h1v1h-1zM11 24h1v1h-1zM12 25h1v1h-1zM13 26h1v1h-1zM14 27h1v1h-1zM15 28h2v1h-2zM17 29h1v1h-1zM20 30h2v1h-2zM20 31h2v1h-2zM20 32h2v1h-2zM20 33h2v1h-2z"/><path fill="#656565" d="M0 0h4v1h-4zM0 1h4v1h-4zM0 2h4v1h-4zM0 3h4v1h-4zM0 4h4v1h-4zM4 5h1v1h-1zM5 7h1v1h-1zM6 8h1v1h-1zM6 9h1v1h-1zM7 10h1v1h-1zM8 12h1v1h-1zM9 14h1v1h-1zM9 15h1v1h-1zM9 16h1v1h-1zM10 22h1v1h-1zM10 23h1v1h-1zM11 25h1v1h-1zM12 26h1v1h-1zM13 27h1v1h-1zM14 28h1v1h-1zM16 29h1v1h-1zM18 30h2v1h-2zM18 31h2v1h-2zM18 32h2v1h-2zM18 33h2v1h-2z"/><path fill="#696969" d="M0 5h4v1h-4zM4 6h1v1h-1zM4 7h1v1h-1zM5 8h1v1h-1zM6 10h1v1h-1zM7 11h1v1h-1zM7 12h1v1h-1zM8 13h1v1h-1zM8 14h1v1h-1zM9 17h1v1h-1zM9 18h1v1h-1zM9 19h1v1h-1zM9 20h1v1h-1zM9 21h1v1h-1zM9 22h1v1h-1zM10 24h1v1h-1zM10 25h1v1h-1zM11 26h1v1h-1zM12 27h1v1h-1zM13 28h1v1h-1zM14 29h2v1h-2zM16 30h2v1h-2zM16 31h2v1h-2zM16 32h2v1h-2zM16 33h2v1h-2z"/><path fill="#6d6d6d" d="M0 6h4v1h-4zM4 8h1v1h-1zM5 9h1v1h-1zM5 10h1v1h-1zM6 11h1v1h-1zM7 13h1v1h-1zM8 15h1v1h-1zM8 16h1v1h-1zM8 17h1v1h-1zM9 23h1v1h-1zM9 24h1v1h-1zM9 25h1v1h-1zM10 26h1v1h-1zM10 27h2v1h-2zM11 28h2v1h-2zM13 29h1v1h-1zM14 30h2v1h-2zM14 31h2v1h-2zM14 32h2v1h-2zM14 33h2v1h-2z"/><path fill="#717171" d="M0 7h4v1h-4zM0 8h4v1h-4zM4 9h1v1h-1zM5 11h1v1h-1zM6 12h1v1h-1zM7 14h1v1h-1zM7 15h1v1h-1zM7 16h1v1h-1zM8 18h1v1h-1zM8 19h1v1h-1zM8 20h1v1h-1zM8 21h1v1h-1zM8 22h1v1h-1zM8 23h1v1h-1zM8 24h1v1h-1zM8 25h1v1h-1zM9 26h1v1h-1zM9 27h1v1h-1zM10 28h1v1h-1zM11 29h2v1h-2zM12 30h2v1h-2zM12 31h2v1h-2zM12 32h2v1h-2zM12 33h2v1h-2z"/><path fill="#757575" d="M0 9h4v1h-4zM4 10h1v1h-1zM5 12h1v1h-1zM6 13h1v1h-1zM6 14h1v1h-1zM6 15h1v1h-1zM7 17h1v1h-1zM7 18h1v1h-1zM7 19h1v1h-1zM7 20h1v1h-1zM7 21h1v1h-1zM7 22h1v1h-1zM7 23h1v1h-1zM7 24h1v1h-1zM7 25h1v1h-1zM7 26h2v1h-2zM8 27h1v1h-1zM8 28h2v1h-2zM9 29h2v1h-2zM10 30h2v1h-2zM10 31h2v1h-2zM10 32h2v1h-2zM10 33h2v1h-2z"/><path fill="#797979" d="M0 10h4v1h-4zM4 11h1v1h-1zM4 12h1v1h-1zM5 13h1v1h-1zM5 14h1v1h-1zM6 16h1v1h-1zM6 17h1v1h-1zM6 18h1v1h-1zM6 19h1v1h-1zM6 20h1v1h-1zM6 21h1v1h-1zM6 22h1v1h-1zM6 23h1v1h-1zM5 24h2v1h-2zM5 25h2v1h-2zM6 26h1v1h-1zM6 27h2v1h-2zM7 28h1v1h-1zM7 29h2v1h-2zM8 30h2v1h-2zM8 31h2v1h-2zM8 32h2v1h-2zM8 33h2v1h-2z"/><path fill="#7d7d7d" d="M0 11h4v1h-4zM4 13h1v1h-1zM5 15h1v1h-1zM5 16h1v1h-1zM5 17h1v1h-1zM5 18h1v1h-1zM5 20h1v1h-1zM5 21h1v1h-1zM5 22h1v1h-1zM4 23h2v1h-2zM4 24h1v1h-1zM4 25h1v1h-1zM4 26h2v1h-2zM5 27h1v1h-1zM5 28h2v1h-2zM6 29h1v1h-1zM7 30h1v1h-1zM7 31h1v1h-1zM7 32h1v1h-1zM7 33h1v1h-1z"/><path fill="#828282" d="M0 12h4v1h-4zM4 14h1v1h-1zM4 15h1v1h-1zM4 16h1v1h-1zM4 17h1v1h-1zM5 19h1v1h-1zM4 20h1v1h-1zM4 21h1v1h-1zM4 22h1v1h-1zM0 23h4v1h-4zM0 24h4v1h-4zM0 25h4v1h-4zM0 26h4v1h-4zM0 27h5v1h-5zM4 28h1v1h-1zM4 29h2v1h-2zM5 30h2v1h-2zM5 31h2v1h-2zM5 32h2v1h-2zM5 33h2v1h-2z"/><path fill="#868686" d="M0 13h4v1h-4zM0 14h4v1h-4zM0 15h4v1h-4zM0 16h4v1h-4zM4 18h1v1h-1zM4 19h1v1h-1zM0 21h4v1h-4zM0 22h4v1h-4zM0 28h4v1h-4zM0 29h4v1h-4zM4 30h1v1h-1zM4 31h1v1h-1zM4 32h1v1h-1zM4 33h1v1h-1z"/><path fill="#8a8a8a" d="M0 17h4v1h-4zM0 18h4v1h-4zM0 19h4v1h-4zM0 20h4v1h-4zM0 30h4v1h-4zM0 31h4v1h-4zM0 32h4v1h-4zM0 33h4v1h-4z"/></g></g>
</g>
<rect x="1044.5" y="696.75" width="209" height="209" fill="none" stroke="#222" stroke-width="1.4"/>
<clipPath id="cp6"><rect x="1286" y="701" width="201" height="202"/></clipPath>
<g clip-path="url(#cp6)">
<g filter="url(#nzf)"><g transform="translate(1264.46 679.36) scale(7.1786 7.2143)" shape-rendering="crispEdges"><path fill="#1c1c1c" d="M0 16h4v1h-4zM0 17h4v1h-4z"/><path fill="#202020" d="M0 18h4v1h-4z"/><path fill="#242424" d="M0 15h4v1h-4zM0 19h4v1h-4z"/><path fill="#282828" d="M0 14h4v1h-4zM4 16h1v1h-1zM4 17h1v1h-1zM0 20h4v1h-4z"/><path fill="#2d2d2d" d="M0 13h4v1h-4zM4 15h1v1h-1zM4 18h1v1h-1zM0 21h4v1h-4z"/><path fill="#313131" d="M0 11h4v1h-4zM0 12h4v1h-4zM4 14h1v1h-1zM4 19h1v1h-1zM4 20h1v1h-1z"/><path fill="#353535" d="M0 10h4v1h-4zM4 13h1v1h-1zM5 15h1v1h-1zM5 16h1v1h-1zM5 17h1v1h-1zM5 18h1v1h-1zM4 21h1v1h-1zM0 22h4v1h-4z"/><path fill="#393939" d="M0 8h4v1h-4zM0 9h4v1h-4zM4 11h1v1h-1zM4 12h1v1h-1zM5 14h1v1h-1zM5 19h1v1h-1zM5 20h1v1h-1z"/><path fill="#3d3d3d" d="M0 4h4v1h-4zM0 5h4v1h-4zM0 6h4v1h-4zM0 7h4v1h-4zM4 10h1v1h-1zM5 12h1v1h-1zM5 13h1v1h-1zM6 16h1v1h-1zM6 17h1v1h-1zM6 18h1v1h-1zM5 21h1v1h-1zM4 22h1v1h-1zM0 23h4v1h-4z"/><path fill="#414141" d="M0 0h4v1h-4zM0 1h4v1h-4zM0 2h4v1h-4zM0 3h4v1h-4zM4 5h1v1h-1zM4 6h1v1h-1zM4 7h1v1h-1zM4 8h1v1h-1zM4 9h1v1h-1zM5 11h1v1h-1zM6 14h1v1h-1zM6 15h1v1h-1zM6 19h1v1h-1z"/><path fill="#454545" d="M4 0h1v1h-1zM4 1h1v1h-1zM4 2h1v1h-1zM4 3h1v1h-1zM4 4h1v1h-1zM5 8h1v1h-1zM5 9h1v1h-1zM5 10h1v1h-1zM6 13h1v1h-1zM7 16h1v1h-1zM7 17h1v1h-1zM6 20h1v1h-1zM6 21h1v1h-1zM5 22h1v1h-1zM4 23h1v1h-1zM0 24h4v1h-4z"/><path fill="#494949" d="M5 0h1v1h-1zM5 1h1v1h-1zM5 2h1v1h-1zM5 3h1v1h-1zM5 4h1v1h-1zM5 5h1v1h-1zM5 6h1v1h-1zM5 7h1v1h-1zM6 11h1v1h-1zM6 12h1v1h-1zM7 15h1v1h-1zM7 18h1v1h-1zM7 19h1v1h-1z"/><path fill="#4d4d4d" d="M6 8h1v1h-1zM6 9h1v1h-1zM6 10h1v1h-1zM7 13h1v1h-1zM7 14h1v1h-1zM8 16h1v1h-1zM8 17h1v1h-1zM7 20h1v1h-1zM6 22h1v1h-1zM5 23h1v1h-1zM4 24h1v1h-1zM0 25h4v1h-4zM0 26h4v1h-4zM0 27h4v1h-4zM0 28h4v1h-4zM0 29h4v1h-4zM0 30h4v1h-4zM0 31h4v1h-4zM0 32h4v1h-4zM0 33h4v1h-4z"/><path fill="#515151" d="M6 0h1v1h-1zM6 1h1v1h-1zM6 2h1v1h-1zM6 3h1v1h-1zM6 4h1v1h-1zM6 5h1v1h-1zM6 6h1v1h-1zM6 7h1v1h-1zM7 12h1v1h-1zM8 15h1v1h-1zM8 18h1v1h-1zM7 21h1v1h-1zM5 24h1v1h-1zM4 25h1v1h-1zM4 26h1v1h-1zM4 27h1v1h-1zM4 28h1v1h-1zM4 29h1v1h-1zM4 30h1v1h-1zM4 31h1v1h-1zM4 32h1v1h-1zM4 33h1v1h-1z"/><path fill="#555" d="M7 10h1v1h-1zM7 11h1v1h-1zM8 14h1v1h-1zM9 16h1v1h-1zM9 17h1v1h-1zM8 19h1v1h-1zM8 20h1v1h-1zM7 22h1v1h-1zM6 23h1v1h-1z"/><path fill="#595959" d="M7 0h1v1h-1zM7 1h1v1h-1zM7 2h1v1h-1zM7 3h1v1h-1zM7 4h1v1h-1zM7 5h1v1h-1zM7 6h1v1h-1zM7 7h1v1h-1zM7 8h1v1h-1zM7 9h1v1h-1zM8 12h1v1h-1zM8 13h1v1h-1zM9 15h1v1h-1zM9 18h1v1h-1zM8 21h1v1h-1zM6 24h1v1h-1zM5 25h1v1h-1zM5 26h1v1h-1zM5 27h1v1h-1zM5 28h1v1h-1zM5 29h1v1h-1zM5 30h1v1h-1zM5 31h1v1h-1zM5 32h1v1h-1zM5 33h1v1h-1z"/><path fill="#5d5d5d" d="M8 11h1v1h-1zM9 13h1v1h-1zM9 14h1v1h-1zM10 16h1v1h-1zM10 17h1v1h-1zM9 19h1v1h-1zM9 20h1v1h-1zM8 22h1v1h-1zM7 23h1v1h-1zM6 30h1v1h-1zM6 31h1v1h-1zM6 32h1v1h-1zM6 33h1v1h-1z"/><path fill="#616161" d="M8 0h1v1h-1zM8 1h1v1h-1zM8 2h1v1h-1zM8 3h1v1h-1zM8 4h1v1h-1zM8 5h1v1h-1zM8 6h1v1h-1zM8 7h1v1h-1zM8 8h1v1h-1zM8 9h1v1h-1zM8 10h1v1h-1zM9 11h1v1h-1zM9 12h1v1h-1zM10 14h1v1h-1zM10 15h1v1h-1zM10 18h1v1h-1zM9 21h1v1h-1zM7 24h1v1h-1zM6 25h1v1h-1zM6 26h1v1h-1zM6 27h1v1h-1zM6 28h1v1h-1zM6 29h1v1h-1z"/><path fill="#656565" d="M9 0h1v1h-1zM9 1h1v1h-1zM9 2h1v1h-1zM9 3h1v1h-1zM9 4h1v1h-1zM9 5h1v1h-1zM9 6h1v1h-1zM9 7h1v1h-1zM9 8h1v1h-1zM9 9h1v1h-1zM9 10h1v1h-1zM10 11h1v1h-1zM10 12h1v1h-1zM10 13h1v1h-1zM11 15h1v1h-1zM11 16h1v1h-1zM11 17h1v1h-1zM10 19h1v1h-1zM10 20h1v1h-1zM9 22h1v1h-1zM8 23h1v1h-1zM7 25h1v1h-1zM7 26h1v1h-1zM7 27h1v1h-1zM7 28h1v1h-1zM7 29h1v1h-1zM7 30h1v1h-1zM7 31h1v1h-1zM7 32h1v1h-1zM7 33h1v1h-1z"/><path fill="#696969" d="M10 0h1v1h-1zM10 1h1v1h-1zM10 2h1v1h-1zM10 3h1v1h-1zM10 4h1v1h-1zM10 5h1v1h-1zM10 6h1v1h-1zM10 7h1v1h-1zM10 8h1v1h-1zM10 9h1v1h-1zM10 10h1v1h-1zM11 12h1v1h-1zM11 13h1v1h-1zM11 14h1v1h-1zM11 18h1v1h-1zM10 21h1v1h-1zM9 23h1v1h-1zM8 24h1v1h-1zM8 29h1v1h-1zM8 30h1v1h-1zM8 31h1v1h-1zM8 32h1v1h-1zM8 33h1v1h-1z"/><path fill="#6d6d6d" d="M11 0h1v1h-1zM11 1h1v1h-1zM11 2h1v1h-1zM11 3h1v1h-1zM11 4h1v1h-1zM11 5h1v1h-1zM11 6h1v1h-1zM11 7h1v1h-1zM11 8h1v1h-1zM11 9h1v1h-1zM11 10h1v1h-1zM11 11h1v1h-1zM12 12h1v1h-1zM12 13h1v1h-1zM12 14h1v1h-1zM12 15h1v1h-1zM12 16h1v1h-1zM12 17h1v1h-1zM12 18h1v1h-1zM11 19h1v1h-1zM11 20h1v1h-1zM10 22h1v1h-1zM10 23h1v1h-1zM9 24h1v1h-1zM8 25h1v1h-1zM8 26h1v1h-1zM8 27h1v1h-1zM8 28h2v1h-2zM9 29h1v1h-1zM9 30h1v1h-1zM9 31h1v1h-1zM9 32h1v1h-1zM9 33h1v1h-1z"/><path fill="#717171" d="M12 0h2v1h-2zM12 1h2v1h-2zM12 2h2v1h-2zM12 3h2v1h-2zM12 4h2v1h-2zM12 5h1v1h-1zM12 6h1v1h-1zM12 7h1v1h-1zM12 8h1v1h-1zM12 9h1v1h-1zM12 10h1v1h-1zM12 11h1v1h-1zM13 14h1v1h-1zM13 15h1v1h-1zM13 16h1v1h-1zM13 17h1v1h-1zM12 19h1v1h-1zM12 20h1v1h-1zM11 21h1v1h-1zM11 22h1v1h-1zM11 23h1v1h-1zM10 24h1v1h-1zM9 25h1v1h-1zM9 26h2v1h-2zM9 27h2v1h-2zM10 28h1v1h-1zM10 29h1v1h-1zM10 30h1v1h-1zM10 31h1v1h-1zM10 32h1v1h-1zM10 33h1v1h-1z"/><path fill="#757575" d="M14 0h1v1h-1zM14 1h1v1h-1zM14 2h1v1h-1zM14 3h1v1h-1zM14 4h1v1h-1zM13 5h2v1h-2zM13 6h2v1h-2zM13 7h1v1h-1zM13 8h1v1h-1zM13 9h1v1h-1zM13 10h1v1h-1zM13 11h1v1h-1zM13 12h1v1h-1zM13 13h1v1h-1zM13 18h1v1h-1zM13 19h1v1h-1zM13 20h1v1h-1zM12 21h2v1h-2zM12 22h1v1h-1zM12 23h1v1h-1zM11 24h1v1h-1zM10 25h2v1h-2zM11 26h1v1h-1zM11 27h1v1h-1zM11 28h1v1h-1zM11 29h2v1h-2zM11 30h2v1h-2zM11 31h2v1h-2zM11 32h2v1h-2zM11 33h2v1h-2z"/><path fill="#797979" d="M15 0h1v1h-1zM15 1h1v1h-1zM15 2h1v1h-1zM15 3h1v1h-1zM15 4h1v1h-1zM15 5h1v1h-1zM15 6h1v1h-1zM14 7h2v1h-2zM14 8h1v1h-1zM14 9h1v1h-1zM14 10h1v1h-1zM14 11h1v1h-1zM14 12h1v1h-1zM14 13h1v1h-1zM14 14h2v1h-2zM14 15h2v1h-2zM14 16h2v1h-2zM14 17h1v1h-1zM14 18h1v1h-1zM14 19h1v1h-1zM14 20h1v1h-1zM14 21h1v1h-1zM13 22h1v1h-1zM13 23h1v1h-1zM12 24h2v1h-2zM12 25h1v1h-1zM12 26h2v1h-2zM12 27h2v1h-2zM12 28h2v1h-2zM13 29h1v1h-1zM13 30h1v1h-1zM13 31h1v1h-1zM13 32h1v1h-1zM13 33h1v1h-1z"/><path fill="#7d7d7d" d="M16 0h1v1h-1zM16 1h1v1h-1zM16 2h1v1h-1zM16 3h1v1h-1zM16 4h1v1h-1zM16 5h1v1h-1zM16 6h1v1h-1zM16 7h1v1h-1zM15 8h2v1h-2zM15 9h2v1h-2zM15 10h2v1h-2zM15 11h2v1h-2zM15 12h2v1h-2zM15 13h2v1h-2zM16 14h1v1h-1zM16 15h1v1h-1zM16 16h1v1h-1zM15 17h2v1h-2zM15 18h2v1h-2zM15 19h1v1h-1zM15 20h1v1h-1zM15 21h1v1h-1zM14 22h2v1h-2zM14 23h1v1h-1zM14 24h1v1h-1zM13 25h2v1h-2zM14 26h1v1h-1zM14 27h1v1h-1zM14 28h1v1h-1zM14 29h1v1h-1zM14 30h1v1h-1zM14 31h1v1h-1zM14 32h1v1h-1zM14 33h1v1h-1z"/><path fill="#828282" d="M17 0h1v1h-1zM17 1h1v1h-1zM17 2h1v1h-1zM17 3h1v1h-1zM17 4h1v1h-1zM17 5h1v1h-1zM17 6h1v1h-1zM17 7h1v1h-1zM17 8h1v1h-1zM17 9h1v1h-1zM17 10h1v1h-1zM17 11h1v1h-1zM17 12h1v1h-1zM17 13h1v1h-1zM17 14h1v1h-1zM17 15h1v1h-1zM17 16h1v1h-1zM17 17h1v1h-1zM17 18h1v1h-1zM16 19h2v1h-2zM16 20h1v1h-1zM16 21h1v1h-1zM16 22h1v1h-1zM15 23h2v1h-2zM15 24h1v1h-1zM15 25h1v1h-1zM15 26h1v1h-1zM15 27h1v1h-1zM15 28h2v1h-2zM15 29h2v1h-2zM15 30h2v1h-2zM15 31h2v1h-2zM15 32h2v1h-2zM15 33h2v1h-2z"/><path fill="#868686" d="M18 0h1v1h-1zM18 1h1v1h-1zM18 2h1v1h-1zM18 3h1v1h-1zM18 4h1v1h-1zM18 5h1v1h-1zM18 6h1v1h-1zM18 7h1v1h-1zM18 8h1v1h-1zM18 9h1v1h-1zM18 10h1v1h-1zM18 11h1v1h-1zM18 12h1v1h-1zM18 13h1v1h-1zM18 14h1v1h-1zM18 15h1v1h-1zM18 16h1v1h-1zM18 17h1v1h-1zM18 18h1v1h-1zM18 19h1v1h-1zM17 20h2v1h-2zM17 21h1v1h-1zM17 22h1v1h-1zM17 23h1v1h-1zM16 24h2v1h-2zM16 25h1v1h-1zM16 26h2v1h-2zM16 27h2v1h-2zM17 28h1v1h-1zM17 29h1v1h-1zM17 30h1v1h-1zM17 31h1v1h-1zM17 32h1v1h-1zM17 33h1v1h-1z"/><path fill="#8a8a8a" d="M19 0h1v1h-1zM19 1h1v1h-1zM19 2h1v1h-1zM19 3h1v1h-1zM19 4h1v1h-1zM19 5h1v1h-1zM19 6h1v1h-1zM19 7h1v1h-1zM19 8h1v1h-1zM19 9h1v1h-1zM19 10h1v1h-1zM19 11h1v1h-1zM19 12h1v1h-1zM19 13h1v1h-1zM19 14h1v1h-1zM19 15h2v1h-2zM19 16h2v1h-2zM19 17h2v1h-2zM19 18h1v1h-1zM19 19h1v1h-1zM19 20h1v1h-1zM18 21h2v1h-2zM18 22h1v1h-1zM18 23h1v1h-1zM18 24h1v1h-1zM17 25h2v1h-2zM18 26h1v1h-1zM18 27h1v1h-1zM18 28h1v1h-1zM18 29h1v1h-1zM18 30h2v1h-2zM18 31h2v1h-2zM18 32h2v1h-2zM18 33h2v1h-2z"/><path fill="#8e8e8e" d="M20 0h1v1h-1zM20 1h1v1h-1zM20 2h1v1h-1zM20 3h1v1h-1zM20 4h1v1h-1zM20 5h1v1h-1zM20 6h1v1h-1zM20 7h1v1h-1zM20 8h1v1h-1zM20 9h1v1h-1zM20 10h1v1h-1zM20 11h1v1h-1zM20 12h2v1h-2zM20 13h2v1h-2zM20 14h2v1h-2zM21 15h1v1h-1zM21 16h1v1h-1zM21 17h1v1h-1zM20 18h1v1h-1zM20 19h1v1h-1zM20 20h1v1h-1zM20 21h1v1h-1zM19 22h2v1h-2zM19 23h1v1h-1zM19 24h1v1h-1zM19 25h1v1h-1zM19 26h1v1h-1zM19 27h1v1h-1zM19 28h2v1h-2zM19 29h2v1h-2zM20 30h1v1h-1zM20 31h1v1h-1zM20 32h1v1h-1zM20 33h1v1h-1z"/><path fill="#929292" d="M21 0h1v1h-1zM21 1h1v1h-1zM21 2h1v1h-1zM21 3h1v1h-1zM21 4h1v1h-1zM21 5h1v1h-1zM21 6h1v1h-1zM21 7h1v1h-1zM21 8h2v1h-2zM21 9h2v1h-2zM21 10h2v1h-2zM21 11h2v1h-2zM22 12h1v1h-1zM22 13h1v1h-1zM22 14h1v1h-1zM22 15h1v1h-1zM22 16h1v1h-1zM22 17h1v1h-1zM21 18h2v1h-2zM21 19h1v1h-1zM21 20h1v1h-1zM21 21h1v1h-1zM21 22h1v1h-1zM20 23h2v1h-2zM20 24h2v1h-2zM20 25h1v1h-1zM20 26h2v1h-2zM20 27h2v1h-2zM21 28h1v1h-1zM21 29h2v1h-2zM21 30h2v1h-2zM21 31h2v1h-2zM21 32h2v1h-2zM21 33h2v1h-2z"/><path fill="#969696" d="M22 0h1v1h-1zM22 1h1v1h-1zM22 2h1v1h-1zM22 3h1v1h-1zM22 4h1v1h-1zM22 5h1v1h-1zM22 6h2v1h-2zM22 7h2v1h-2zM23 8h1v1h-1zM23 9h1v1h-1zM23 10h1v1h-1zM23 11h1v1h-1zM23 12h1v1h-1zM23 13h1v1h-1zM23 14h1v1h-1zM23 15h1v1h-1zM23 16h1v1h-1zM23 17h1v1h-1zM23 18h1v1h-1zM22 19h2v1h-2zM22 20h1v1h-1zM22 21h1v1h-1zM22 22h1v1h-1zM22 23h1v1h-1zM22 24h1v1h-1zM21 25h2v1h-2zM22 26h1v1h-1zM22 27h2v1h-2zM22 28h2v1h-2zM23 29h2v1h-2zM23 30h2v1h-2zM26 30h8v1h-8zM23 31h2v1h-2zM26 31h8v1h-8zM23 32h2v1h-2zM26 32h8v1h-8zM23 33h2v1h-2zM26 33h8v1h-8z"/><path fill="#9a9a9a" d="M23 0h1v1h-1zM23 1h1v1h-1zM23 2h1v1h-1zM23 3h1v1h-1zM23 4h2v1h-2zM23 5h2v1h-2zM24 6h1v1h-1zM24 7h1v1h-1zM24 8h1v1h-1zM24 9h1v1h-1zM24 10h1v1h-1zM24 11h1v1h-1zM24 12h1v1h-1zM24 13h1v1h-1zM24 14h1v1h-1zM24 15h1v1h-1zM24 16h1v1h-1zM24 17h1v1h-1zM24 18h1v1h-1zM24 19h1v1h-1zM23 20h2v1h-2zM23 21h1v1h-1zM23 22h1v1h-1zM23 23h1v1h-1zM23 24h1v1h-1zM23 25h1v1h-1zM23 26h2v1h-2zM24 27h1v1h-1zM24 28h10v1h-10zM25 29h9v1h-9zM25 30h1v1h-1zM25 31h1v1h-1zM25 32h1v1h-1zM25 33h1v1h-1z"/><path fill="#9e9e9e" d="M24 0h2v1h-2zM24 1h2v1h-2zM24 2h2v1h-2zM24 3h2v1h-2zM25 4h1v1h-1zM25 5h1v1h-1zM25 6h1v1h-1zM25 7h2v1h-2zM25 8h2v1h-2zM25 9h2v1h-2zM25 10h2v1h-2zM25 11h2v1h-2zM25 12h2v1h-2zM25 13h2v1h-2zM25 14h2v1h-2zM25 15h2v1h-2zM25 16h2v1h-2zM25 17h2v1h-2zM25 18h2v1h-2zM25 19h1v1h-1zM25 20h1v1h-1zM24 21h2v1h-2zM24 22h2v1h-2zM24 23h2v1h-2zM24 24h2v1h-2zM24 25h2v1h-2zM25 26h2v1h-2zM25 27h9v1h-9z"/><path fill="#a2a2a2" d="M26 0h1v1h-1zM26 1h1v1h-1zM26 2h1v1h-1zM26 3h1v1h-1zM26 4h2v1h-2zM26 5h2v1h-2zM26 6h2v1h-2zM27 7h2v1h-2zM27 8h2v1h-2zM27 9h2v1h-2zM27 10h2v1h-2zM27 11h2v1h-2zM27 12h2v1h-2zM27 13h2v1h-2zM27 14h2v1h-2zM27 15h2v1h-2zM27 16h2v1h-2zM27 17h2v1h-2zM27 18h2v1h-2zM26 19h3v1h-3zM26 20h3v1h-3zM26 21h3v1h-3zM26 22h3v1h-3zM26 23h3v1h-3zM26 24h3v1h-3zM26 25h3v1h-3zM27 26h7v1h-7z"/><path fill="#a6a6a6" d="M27 0h2v1h-2zM27 1h2v1h-2zM27 2h2v1h-2zM27 3h2v1h-2zM28 4h1v1h-1zM28 5h2v1h-2zM28 6h2v1h-2zM29 7h1v1h-1zM29 8h5v1h-5zM29 9h5v1h-5zM29 10h5v1h-5zM29 11h5v1h-5zM29 12h5v1h-5zM29 13h5v1h-5zM29 14h5v1h-5zM29 15h5v1h-5zM29 16h5v1h-5zM29 17h5v1h-5zM29 18h5v1h-5zM29 19h5v1h-5zM29 20h5v1h-5zM29 21h5v1h-5zM29 22h5v1h-5zM29 23h5v1h-5zM29 24h5v1h-5zM29 25h5v1h-5z"/><path fill="#aaa" d="M29 0h5v1h-5zM29 1h5v1h-5zM29 2h5v1h-5zM29 3h5v1h-5zM29 4h5v1h-5zM30 5h4v1h-4zM30 6h4v1h-4zM30 7h4v1h-4z"/></g></g>
</g>
<rect x="1282.1" y="697.9" width="208.4" height="208.3" fill="none" stroke="#ff0000" stroke-width="9.3"/>
<clipPath id="cp7"><rect x="1521.5" y="696.25" width="210" height="210"/></clipPath>
<g clip-path="url(#cp7)">
<g filter="url(#nzf)"><g transform="translate(1499 673.75) scale(7.5000 7.5000)" shape-rendering="crispEdges"><path fill="#000" d="M25 0h9v1h-9zM25 1h9v1h-9zM25 2h9v1h-9zM25 3h9v1h-9zM25 4h9v1h-9zM25 5h9v1h-9zM25 6h9v1h-9zM25 7h9v1h-9zM22 8h12v1h-12zM22 9h12v1h-12zM22 10h12v1h-12zM22 11h12v1h-12zM22 12h12v1h-12zM21 13h13v1h-13zM18 14h16v1h-16zM18 15h16v1h-16zM17 16h17v1h-17zM17 17h17v1h-17zM17 18h17v1h-17zM17 19h17v1h-17zM18 20h16v1h-16zM18 21h16v1h-16zM18 22h16v1h-16zM18 23h16v1h-16zM18 24h16v1h-16zM18 25h16v1h-16zM22 26h12v1h-12zM22 27h12v1h-12zM22 28h12v1h-12zM29 29h5v1h-5zM30 30h4v1h-4zM30 31h4v1h-4zM30 32h4v1h-4zM30 33h4v1h-4z"/><path fill="#040404" d="M24 5h1v1h-1zM24 6h1v1h-1zM24 7h1v1h-1zM21 10h1v1h-1zM21 11h1v1h-1zM21 12h1v1h-1zM20 13h1v1h-1zM17 14h1v1h-1zM17 15h1v1h-1zM17 20h1v1h-1zM17 21h1v1h-1zM21 26h1v1h-1zM25 29h4v1h-4zM29 30h1v1h-1zM29 31h1v1h-1zM29 32h1v1h-1zM29 33h1v1h-1z"/><path fill="#080808" d="M24 0h1v1h-1zM24 1h1v1h-1zM24 2h1v1h-1zM24 3h1v1h-1zM24 4h1v1h-1zM23 7h1v1h-1zM21 8h1v1h-1zM21 9h1v1h-1zM18 13h2v1h-2zM17 22h1v1h-1zM17 23h1v1h-1zM19 26h2v1h-2zM21 27h1v1h-1zM21 28h1v1h-1zM23 29h2v1h-2zM27 30h2v1h-2zM27 31h2v1h-2zM27 32h2v1h-2zM27 33h2v1h-2z"/><path fill="#0c0c0c" d="M23 6h1v1h-1zM22 7h1v1h-1zM20 12h1v1h-1zM17 13h1v1h-1zM16 19h1v1h-1zM17 24h1v1h-1zM18 26h1v1h-1zM20 27h1v1h-1zM22 29h1v1h-1zM25 30h2v1h-2zM25 31h2v1h-2zM25 32h2v1h-2zM25 33h2v1h-2z"/><path fill="#101010" d="M23 5h1v1h-1zM20 11h1v1h-1zM16 18h1v1h-1zM16 20h1v1h-1zM17 25h1v1h-1zM19 27h1v1h-1zM20 28h1v1h-1z"/><path fill="#141414" d="M22 6h1v1h-1zM21 7h1v1h-1zM18 12h2v1h-2zM16 17h1v1h-1zM16 21h1v1h-1zM21 29h1v1h-1zM24 30h1v1h-1zM24 31h1v1h-1zM24 32h1v1h-1zM24 33h1v1h-1z"/><path fill="#181818" d="M23 4h1v1h-1zM20 10h1v1h-1zM16 15h1v1h-1zM16 16h1v1h-1zM16 22h1v1h-1zM17 26h1v1h-1zM18 27h1v1h-1zM19 28h1v1h-1z"/><path fill="#1c1c1c" d="M23 0h1v1h-1zM23 1h1v1h-1zM23 2h1v1h-1zM23 3h1v1h-1zM22 5h1v1h-1zM21 6h1v1h-1zM20 9h1v1h-1zM19 11h1v1h-1zM17 12h1v1h-1zM16 14h1v1h-1zM16 23h1v1h-1zM20 29h1v1h-1zM23 30h1v1h-1zM23 31h1v1h-1zM23 32h1v1h-1zM23 33h1v1h-1z"/><path fill="#202020" d="M16 24h1v1h-1zM18 28h1v1h-1z"/><path fill="#242424" d="M22 4h1v1h-1zM20 8h1v1h-1zM18 11h1v1h-1zM16 13h1v1h-1zM16 25h1v1h-1zM17 27h1v1h-1zM19 29h1v1h-1zM22 30h1v1h-1zM22 31h1v1h-1zM22 32h1v1h-1zM22 33h1v1h-1z"/><path fill="#282828" d="M21 5h1v1h-1zM19 10h1v1h-1zM17 11h1v1h-1zM15 18h1v1h-1zM15 19h1v1h-1zM15 20h1v1h-1zM15 21h1v1h-1zM16 26h1v1h-1zM21 30h1v1h-1zM21 31h1v1h-1zM21 32h1v1h-1zM21 33h1v1h-1z"/><path fill="#2d2d2d" d="M22 0h1v1h-1zM22 1h1v1h-1zM22 2h1v1h-1zM22 3h1v1h-1zM20 7h1v1h-1zM18 10h1v1h-1zM15 16h1v1h-1zM15 17h1v1h-1zM15 22h1v1h-1zM15 23h1v1h-1zM17 28h1v1h-1zM18 29h1v1h-1zM20 30h1v1h-1zM20 31h1v1h-1zM20 32h1v1h-1zM20 33h1v1h-1z"/><path fill="#313131" d="M21 4h1v1h-1zM20 6h1v1h-1zM19 9h1v1h-1zM16 12h1v1h-1zM15 14h1v1h-1zM15 15h1v1h-1zM14 19h1v1h-1zM14 20h1v1h-1zM15 24h1v1h-1zM15 25h1v1h-1zM16 27h1v1h-1zM19 30h1v1h-1zM19 31h1v1h-1zM19 32h1v1h-1zM19 33h1v1h-1z"/><path fill="#353535" d="M17 10h1v1h-1zM15 13h1v1h-1zM14 17h1v1h-1zM14 18h1v1h-1zM14 21h1v1h-1zM14 22h1v1h-1zM14 23h1v1h-1zM15 26h1v1h-1zM16 28h1v1h-1zM17 29h1v1h-1z"/><path fill="#393939" d="M21 0h1v1h-1zM21 1h1v1h-1zM21 2h1v1h-1zM21 3h1v1h-1zM20 5h1v1h-1zM19 8h1v1h-1zM18 9h1v1h-1zM16 11h1v1h-1zM14 15h1v1h-1zM14 16h1v1h-1zM13 19h1v1h-1zM14 24h1v1h-1zM14 25h1v1h-1zM15 27h1v1h-1zM16 29h1v1h-1zM18 30h1v1h-1zM18 31h1v1h-1zM18 32h1v1h-1zM18 33h1v1h-1z"/><path fill="#3d3d3d" d="M20 4h1v1h-1zM19 7h1v1h-1zM15 12h1v1h-1zM13 14h2v1h-2zM13 15h1v1h-1zM13 16h1v1h-1zM13 17h1v1h-1zM13 18h1v1h-1zM13 20h1v1h-1zM13 21h1v1h-1zM13 22h1v1h-1zM13 23h1v1h-1zM14 26h1v1h-1zM14 27h1v1h-1zM15 28h1v1h-1zM17 30h1v1h-1zM17 31h1v1h-1zM17 32h1v1h-1zM17 33h1v1h-1z"/><path fill="#414141" d="M19 6h1v1h-1zM18 8h1v1h-1zM17 9h1v1h-1zM16 10h1v1h-1zM13 12h1v1h-1zM13 13h2v1h-2zM13 24h1v1h-1zM13 25h1v1h-1zM14 28h1v1h-1zM15 29h1v1h-1zM16 30h1v1h-1zM16 31h1v1h-1zM16 32h1v1h-1zM16 33h1v1h-1z"/><path fill="#454545" d="M20 0h1v1h-1zM20 1h1v1h-1zM20 2h1v1h-1zM20 3h1v1h-1zM19 5h1v1h-1zM18 7h1v1h-1zM13 10h1v1h-1zM13 11h1v1h-1zM15 11h1v1h-1zM14 12h1v1h-1zM12 13h1v1h-1zM12 14h1v1h-1zM12 15h1v1h-1zM12 16h1v1h-1zM12 17h1v1h-1zM12 18h1v1h-1zM12 19h1v1h-1zM12 20h1v1h-1zM13 26h1v1h-1zM13 27h1v1h-1zM14 29h1v1h-1zM15 30h1v1h-1zM15 31h1v1h-1zM15 32h1v1h-1zM15 33h1v1h-1z"/><path fill="#494949" d="M19 4h1v1h-1zM18 6h1v1h-1zM17 8h1v1h-1zM13 9h1v1h-1zM16 9h1v1h-1zM15 10h1v1h-1zM12 11h1v1h-1zM12 12h1v1h-1zM12 21h1v1h-1zM12 22h1v1h-1zM12 23h1v1h-1zM12 24h1v1h-1zM12 25h1v1h-1zM13 28h1v1h-1zM13 29h1v1h-1zM14 30h1v1h-1zM14 31h1v1h-1zM14 32h1v1h-1zM14 33h1v1h-1z"/><path fill="#4d4d4d" d="M19 0h1v1h-1zM19 1h1v1h-1zM19 2h1v1h-1zM19 3h1v1h-1zM18 5h1v1h-1zM13 6h1v1h-1zM13 7h1v1h-1zM17 7h1v1h-1zM12 8h2v1h-2zM12 9h1v1h-1zM12 10h1v1h-1zM14 11h1v1h-1zM11 12h1v1h-1zM11 13h1v1h-1zM11 14h1v1h-1zM11 15h1v1h-1zM11 16h1v1h-1zM12 26h1v1h-1zM12 27h1v1h-1zM12 28h1v1h-1zM13 30h1v1h-1zM13 31h1v1h-1zM13 32h1v1h-1zM13 33h1v1h-1z"/><path fill="#515151" d="M13 4h1v1h-1zM18 4h1v1h-1zM13 5h1v1h-1zM12 6h1v1h-1zM17 6h1v1h-1zM12 7h1v1h-1zM11 8h1v1h-1zM16 8h1v1h-1zM11 9h1v1h-1zM15 9h1v1h-1zM11 10h1v1h-1zM14 10h1v1h-1zM11 11h1v1h-1zM11 17h1v1h-1zM11 18h1v1h-1zM11 19h1v1h-1zM11 20h1v1h-1zM11 21h1v1h-1zM11 22h1v1h-1zM11 23h1v1h-1zM12 29h1v1h-1zM12 30h1v1h-1zM12 31h1v1h-1zM12 32h1v1h-1zM12 33h1v1h-1z"/><path fill="#555" d="M12 0h2v1h-2zM18 0h1v1h-1zM12 1h2v1h-2zM18 1h1v1h-1zM12 2h2v1h-2zM18 2h1v1h-1zM12 3h2v1h-2zM18 3h1v1h-1zM12 4h1v1h-1zM11 5h2v1h-2zM17 5h1v1h-1zM11 6h1v1h-1zM11 7h1v1h-1zM16 7h1v1h-1zM10 8h1v1h-1zM15 8h1v1h-1zM10 9h1v1h-1zM14 9h1v1h-1zM10 10h1v1h-1zM10 11h1v1h-1zM10 12h1v1h-1zM10 13h1v1h-1zM10 14h1v1h-1zM11 24h1v1h-1zM11 25h1v1h-1zM11 26h1v1h-1zM11 27h1v1h-1zM11 28h1v1h-1zM11 29h1v1h-1zM11 30h1v1h-1zM11 31h1v1h-1zM11 32h1v1h-1zM11 33h1v1h-1z"/><path fill="#595959" d="M11 0h1v1h-1zM11 1h1v1h-1zM11 2h1v1h-1zM11 3h1v1h-1zM11 4h1v1h-1zM17 4h1v1h-1zM10 5h1v1h-1zM16 5h1v1h-1zM10 6h1v1h-1zM16 6h1v1h-1zM10 7h1v1h-1zM15 7h1v1h-1zM10 15h1v1h-1zM10 16h1v1h-1zM10 17h1v1h-1zM10 18h1v1h-1zM10 19h1v1h-1zM10 20h1v1h-1zM10 21h1v1h-1zM10 22h1v1h-1zM10 23h1v1h-1zM10 24h1v1h-1zM10 25h1v1h-1zM10 26h1v1h-1zM10 27h1v1h-1zM10 28h1v1h-1zM10 29h1v1h-1zM10 30h1v1h-1zM10 31h1v1h-1zM10 32h1v1h-1zM10 33h1v1h-1z"/><path fill="#5d5d5d" d="M10 0h1v1h-1zM17 0h1v1h-1zM10 1h1v1h-1zM17 1h1v1h-1zM10 2h1v1h-1zM17 2h1v1h-1zM10 3h1v1h-1zM17 3h1v1h-1zM10 4h1v1h-1zM16 4h1v1h-1zM15 5h1v1h-1zM9 6h1v1h-1zM15 6h1v1h-1zM9 7h1v1h-1zM14 7h1v1h-1zM9 8h1v1h-1zM14 8h1v1h-1zM9 9h1v1h-1zM9 10h1v1h-1zM9 11h1v1h-1zM9 12h1v1h-1zM9 28h1v1h-1zM9 29h1v1h-1zM9 30h1v1h-1zM9 31h1v1h-1zM9 32h1v1h-1zM9 33h1v1h-1z"/><path fill="#616161" d="M9 0h1v1h-1zM16 0h1v1h-1zM9 1h1v1h-1zM16 1h1v1h-1zM9 2h1v1h-1zM16 2h1v1h-1zM9 3h1v1h-1zM16 3h1v1h-1zM9 4h1v1h-1zM15 4h1v1h-1zM9 5h1v1h-1zM14 5h1v1h-1zM14 6h1v1h-1zM8 7h1v1h-1zM8 8h1v1h-1zM9 13h1v1h-1zM9 14h1v1h-1zM9 15h1v1h-1zM9 16h1v1h-1zM9 17h1v1h-1zM9 23h1v1h-1zM9 24h1v1h-1zM9 25h1v1h-1zM9 26h1v1h-1zM9 27h1v1h-1zM8 28h1v1h-1zM8 29h1v1h-1zM8 30h1v1h-1zM8 31h1v1h-1zM8 32h1v1h-1zM8 33h1v1h-1z"/><path fill="#656565" d="M8 0h1v1h-1zM15 0h1v1h-1zM8 1h1v1h-1zM15 1h1v1h-1zM8 2h1v1h-1zM15 2h1v1h-1zM8 3h1v1h-1zM15 3h1v1h-1zM8 4h1v1h-1zM14 4h1v1h-1zM8 5h1v1h-1zM8 6h1v1h-1zM8 9h1v1h-1zM8 10h1v1h-1zM8 11h1v1h-1zM8 12h1v1h-1zM9 18h1v1h-1zM9 19h1v1h-1zM9 20h1v1h-1zM9 21h1v1h-1zM9 22h1v1h-1zM8 26h1v1h-1zM8 27h1v1h-1zM7 28h1v1h-1zM6 29h2v1h-2zM0 30h8v1h-8zM0 31h8v1h-8zM0 32h8v1h-8zM0 33h8v1h-8z"/><path fill="#696969" d="M7 0h1v1h-1zM14 0h1v1h-1zM7 1h1v1h-1zM14 1h1v1h-1zM7 2h1v1h-1zM14 2h1v1h-1zM7 3h1v1h-1zM14 3h1v1h-1zM7 4h1v1h-1zM7 5h1v1h-1zM7 6h1v1h-1zM7 7h1v1h-1zM7 8h1v1h-1zM8 13h1v1h-1zM8 14h1v1h-1zM8 15h1v1h-1zM8 23h1v1h-1zM8 24h1v1h-1zM8 25h1v1h-1zM7 26h1v1h-1zM7 27h1v1h-1zM0 28h7v1h-7zM0 29h6v1h-6z"/><path fill="#6d6d6d" d="M6 0h1v1h-1zM6 1h1v1h-1zM6 2h1v1h-1zM6 3h1v1h-1zM7 9h1v1h-1zM7 10h1v1h-1zM7 11h1v1h-1zM7 12h1v1h-1zM8 16h1v1h-1zM8 17h1v1h-1zM8 18h1v1h-1zM8 19h1v1h-1zM8 20h1v1h-1zM8 21h1v1h-1zM8 22h1v1h-1zM7 24h1v1h-1zM7 25h1v1h-1zM6 26h1v1h-1zM0 27h7v1h-7z"/><path fill="#717171" d="M5 0h1v1h-1zM5 1h1v1h-1zM5 2h1v1h-1zM5 3h1v1h-1zM6 4h1v1h-1zM6 5h1v1h-1zM6 6h1v1h-1zM6 7h1v1h-1zM6 8h1v1h-1zM7 13h1v1h-1zM7 14h1v1h-1zM7 15h1v1h-1zM7 16h1v1h-1zM7 22h1v1h-1zM7 23h1v1h-1zM0 25h4v1h-4zM6 25h1v1h-1zM0 26h6v1h-6z"/><path fill="#757575" d="M0 0h5v1h-5zM0 1h5v1h-5zM0 2h5v1h-5zM0 3h5v1h-5zM4 4h2v1h-2zM5 5h1v1h-1zM5 6h1v1h-1zM6 9h1v1h-1zM6 10h1v1h-1zM6 11h1v1h-1zM6 12h1v1h-1zM7 17h1v1h-1zM7 18h1v1h-1zM7 19h1v1h-1zM7 20h1v1h-1zM7 21h1v1h-1zM6 23h1v1h-1zM0 24h7v1h-7zM4 25h2v1h-2z"/><path fill="#797979" d="M0 4h4v1h-4zM4 5h1v1h-1zM5 7h1v1h-1zM5 8h1v1h-1zM6 13h1v1h-1zM6 14h1v1h-1zM6 15h1v1h-1zM6 16h1v1h-1zM6 21h1v1h-1zM6 22h1v1h-1zM4 23h2v1h-2z"/><path fill="#7d7d7d" d="M0 5h4v1h-4zM4 6h1v1h-1zM4 7h1v1h-1zM5 9h1v1h-1zM5 10h1v1h-1zM5 11h1v1h-1zM5 12h1v1h-1zM6 17h1v1h-1zM6 18h1v1h-1zM6 19h1v1h-1zM6 20h1v1h-1zM5 21h1v1h-1zM4 22h2v1h-2zM0 23h4v1h-4z"/><path fill="#828282" d="M0 6h4v1h-4zM4 8h1v1h-1zM4 9h1v1h-1zM5 13h1v1h-1zM5 14h1v1h-1zM5 15h1v1h-1zM5 16h1v1h-1zM5 17h1v1h-1zM5 18h1v1h-1zM5 20h1v1h-1zM4 21h1v1h-1zM0 22h4v1h-4z"/><path fill="#868686" d="M0 7h4v1h-4zM4 10h1v1h-1zM4 11h1v1h-1zM4 12h1v1h-1zM5 19h1v1h-1zM4 20h1v1h-1zM0 21h4v1h-4z"/><path fill="#8a8a8a" d="M0 8h4v1h-4zM0 9h4v1h-4zM0 10h4v1h-4zM4 13h1v1h-1zM4 14h1v1h-1zM4 15h1v1h-1zM4 16h1v1h-1zM4 17h1v1h-1zM4 18h1v1h-1zM4 19h1v1h-1z"/><path fill="#8e8e8e" d="M0 11h4v1h-4zM0 12h4v1h-4zM0 20h4v1h-4z"/><path fill="#929292" d="M0 13h4v1h-4zM0 14h4v1h-4zM0 15h4v1h-4zM0 16h4v1h-4zM0 17h4v1h-4zM0 18h4v1h-4zM0 19h4v1h-4z"/></g></g>
</g>
<rect x="1522.0" y="696.75" width="209" height="209" fill="none" stroke="#222" stroke-width="1.4"/>
<clipPath id="cp8"><rect x="1761.5" y="696.25" width="210" height="210"/></clipPath>
<g clip-path="url(#cp8)">
<g filter="url(#nzf)"><g transform="translate(1739 673.75) scale(7.5000 7.5000)" shape-rendering="crispEdges"><path fill="#181818" d="M0 0h4v1h-4zM0 1h4v1h-4zM0 2h4v1h-4zM0 3h4v1h-4zM0 4h4v1h-4z"/><path fill="#1c1c1c" d="M0 5h4v1h-4zM0 6h4v1h-4z"/><path fill="#202020" d="M0 7h4v1h-4zM0 8h4v1h-4zM0 9h4v1h-4zM0 10h4v1h-4zM0 11h4v1h-4zM0 12h4v1h-4zM0 13h4v1h-4zM0 14h4v1h-4zM0 15h4v1h-4zM0 16h4v1h-4zM0 17h4v1h-4zM0 18h4v1h-4zM0 19h4v1h-4z"/><path fill="#242424" d="M4 0h1v1h-1zM4 1h1v1h-1zM4 2h1v1h-1zM4 3h1v1h-1zM4 4h1v1h-1zM0 20h4v1h-4z"/><path fill="#282828" d="M4 5h1v1h-1z"/><path fill="#2d2d2d" d="M5 0h1v1h-1zM5 1h1v1h-1zM5 2h1v1h-1zM5 3h1v1h-1zM4 6h1v1h-1zM4 7h1v1h-1zM4 9h1v1h-1zM4 10h1v1h-1zM4 11h1v1h-1zM4 12h1v1h-1zM4 13h1v1h-1zM4 14h1v1h-1zM4 15h1v1h-1zM4 16h1v1h-1zM4 17h1v1h-1zM4 18h1v1h-1zM4 19h1v1h-1zM4 20h1v1h-1zM0 21h4v1h-4z"/><path fill="#313131" d="M5 4h1v1h-1zM5 5h1v1h-1zM4 8h1v1h-1zM0 22h4v1h-4z"/><path fill="#353535" d="M6 0h1v1h-1zM6 1h1v1h-1zM6 2h1v1h-1zM6 3h1v1h-1zM5 6h1v1h-1zM5 12h1v1h-1zM5 13h1v1h-1zM5 14h1v1h-1zM5 15h1v1h-1zM5 16h1v1h-1zM5 17h1v1h-1zM5 18h1v1h-1zM5 19h1v1h-1zM4 21h1v1h-1zM0 23h4v1h-4z"/><path fill="#393939" d="M6 4h1v1h-1zM5 7h1v1h-1zM5 8h1v1h-1zM5 9h1v1h-1zM5 10h1v1h-1zM5 11h1v1h-1zM5 20h1v1h-1zM4 22h1v1h-1zM0 24h4v1h-4z"/><path fill="#3d3d3d" d="M6 5h1v1h-1zM6 14h1v1h-1zM6 15h1v1h-1zM6 16h1v1h-1zM6 17h1v1h-1zM6 18h1v1h-1zM6 19h1v1h-1zM5 21h1v1h-1zM4 23h1v1h-1z"/><path fill="#414141" d="M7 0h1v1h-1zM7 1h1v1h-1zM7 2h1v1h-1zM7 3h1v1h-1zM6 6h1v1h-1zM6 11h1v1h-1zM6 12h1v1h-1zM6 13h1v1h-1zM6 20h1v1h-1zM5 22h1v1h-1zM0 25h4v1h-4z"/><path fill="#454545" d="M7 4h1v1h-1zM6 7h1v1h-1zM6 8h1v1h-1zM6 9h1v1h-1zM6 10h1v1h-1zM7 17h1v1h-1zM7 18h1v1h-1zM7 19h1v1h-1zM6 21h1v1h-1zM4 24h1v1h-1zM0 26h4v1h-4zM0 27h4v1h-4z"/><path fill="#494949" d="M8 0h1v1h-1zM8 1h1v1h-1zM8 2h1v1h-1zM8 3h1v1h-1zM7 5h1v1h-1zM7 6h1v1h-1zM7 13h1v1h-1zM7 14h1v1h-1zM7 15h1v1h-1zM7 16h1v1h-1zM7 20h1v1h-1zM6 22h1v1h-1zM5 23h1v1h-1zM4 25h1v1h-1zM0 28h4v1h-4z"/><path fill="#4d4d4d" d="M8 4h1v1h-1zM7 7h1v1h-1zM7 11h1v1h-1zM7 12h1v1h-1zM8 18h1v1h-1zM8 19h1v1h-1zM7 21h1v1h-1zM5 24h1v1h-1zM4 26h1v1h-1zM4 27h1v1h-1zM0 29h4v1h-4z"/><path fill="#515151" d="M9 0h1v1h-1zM9 1h1v1h-1zM9 2h1v1h-1zM9 3h1v1h-1zM8 5h1v1h-1zM7 8h1v1h-1zM7 9h1v1h-1zM7 10h1v1h-1zM8 14h1v1h-1zM8 15h1v1h-1zM8 16h1v1h-1zM8 17h1v1h-1zM8 20h1v1h-1zM7 22h1v1h-1zM6 23h1v1h-1zM5 25h1v1h-1zM4 28h1v1h-1zM0 30h4v1h-4zM0 31h4v1h-4zM0 32h4v1h-4zM0 33h4v1h-4z"/><path fill="#555" d="M9 4h1v1h-1zM8 6h1v1h-1zM8 12h1v1h-1zM8 13h1v1h-1zM9 19h1v1h-1zM8 21h1v1h-1zM7 23h1v1h-1zM6 24h1v1h-1zM5 26h1v1h-1zM5 27h1v1h-1zM4 29h1v1h-1zM4 30h1v1h-1zM4 31h1v1h-1zM4 32h1v1h-1zM4 33h1v1h-1z"/><path fill="#595959" d="M10 0h1v1h-1zM10 1h1v1h-1zM10 2h1v1h-1zM10 3h1v1h-1zM9 5h1v1h-1zM8 7h1v1h-1zM8 10h1v1h-1zM8 11h1v1h-1zM9 14h1v1h-1zM9 15h1v1h-1zM9 16h1v1h-1zM9 17h1v1h-1zM9 18h1v1h-1zM9 20h1v1h-1zM8 22h1v1h-1zM7 24h1v1h-1zM6 25h1v1h-1zM6 26h1v1h-1zM5 28h1v1h-1zM5 29h1v1h-1z"/><path fill="#5d5d5d" d="M11 0h1v1h-1zM11 1h1v1h-1zM11 2h1v1h-1zM11 3h1v1h-1zM10 4h1v1h-1zM9 6h1v1h-1zM8 8h1v1h-1zM8 9h1v1h-1zM9 12h1v1h-1zM9 13h1v1h-1zM10 19h1v1h-1zM9 21h1v1h-1zM8 23h1v1h-1zM6 27h1v1h-1zM6 28h1v1h-1zM5 30h1v1h-1zM5 31h1v1h-1zM5 32h1v1h-1zM5 33h1v1h-1z"/><path fill="#616161" d="M12 0h1v1h-1zM12 1h1v1h-1zM12 2h1v1h-1zM12 3h1v1h-1zM11 4h1v1h-1zM10 5h1v1h-1zM9 7h1v1h-1zM9 10h1v1h-1zM9 11h1v1h-1zM10 14h1v1h-1zM10 15h1v1h-1zM10 16h1v1h-1zM10 17h1v1h-1zM10 18h1v1h-1zM10 20h1v1h-1zM9 22h1v1h-1zM8 24h1v1h-1zM7 25h1v1h-1zM7 26h1v1h-1zM7 27h1v1h-1zM6 29h1v1h-1zM6 30h1v1h-1zM6 31h1v1h-1zM6 32h1v1h-1zM6 33h1v1h-1z"/><path fill="#656565" d="M12 4h1v1h-1zM11 5h1v1h-1zM10 6h1v1h-1zM9 8h1v1h-1zM9 9h1v1h-1zM10 11h1v1h-1zM10 12h1v1h-1zM10 13h1v1h-1zM10 21h1v1h-1zM10 22h1v1h-1zM9 23h1v1h-1zM9 24h1v1h-1zM8 25h1v1h-1zM8 26h1v1h-1zM7 28h1v1h-1zM7 29h1v1h-1zM7 30h1v1h-1zM7 31h1v1h-1zM7 32h1v1h-1zM7 33h1v1h-1z"/><path fill="#696969" d="M13 0h1v1h-1zM13 1h1v1h-1zM13 2h1v1h-1zM13 3h1v1h-1zM12 5h1v1h-1zM11 6h1v1h-1zM10 7h1v1h-1zM10 9h1v1h-1zM10 10h1v1h-1zM11 13h1v1h-1zM11 14h1v1h-1zM11 15h1v1h-1zM11 16h1v1h-1zM11 17h1v1h-1zM11 18h1v1h-1zM11 19h1v1h-1zM11 20h1v1h-1zM11 21h1v1h-1zM10 23h1v1h-1zM9 25h1v1h-1zM9 26h1v1h-1zM8 27h1v1h-1zM8 28h1v1h-1zM8 29h1v1h-1zM8 30h1v1h-1zM8 31h1v1h-1zM8 32h1v1h-1zM8 33h1v1h-1z"/><path fill="#6d6d6d" d="M14 0h1v1h-1zM14 1h1v1h-1zM14 2h1v1h-1zM14 3h1v1h-1zM13 4h1v1h-1zM13 5h1v1h-1zM12 6h1v1h-1zM11 7h1v1h-1zM10 8h1v1h-1zM11 11h1v1h-1zM11 12h1v1h-1zM11 22h1v1h-1zM11 23h1v1h-1zM10 24h1v1h-1zM10 25h1v1h-1zM10 26h1v1h-1zM9 27h2v1h-2zM9 28h2v1h-2zM9 29h1v1h-1zM9 30h1v1h-1zM9 31h1v1h-1zM9 32h1v1h-1zM9 33h1v1h-1z"/><path fill="#717171" d="M15 0h1v1h-1zM15 1h1v1h-1zM15 2h1v1h-1zM15 3h1v1h-1zM14 4h1v1h-1zM14 5h1v1h-1zM13 6h1v1h-1zM12 7h1v1h-1zM11 8h1v1h-1zM11 9h1v1h-1zM11 10h1v1h-1zM12 11h1v1h-1zM12 12h1v1h-1zM12 13h1v1h-1zM12 14h1v1h-1zM12 15h1v1h-1zM12 16h1v1h-1zM12 17h1v1h-1zM12 18h1v1h-1zM12 19h1v1h-1zM12 20h1v1h-1zM12 21h1v1h-1zM11 24h1v1h-1zM11 25h1v1h-1zM11 26h1v1h-1zM11 27h1v1h-1zM11 28h1v1h-1zM10 29h2v1h-2zM10 30h2v1h-2zM10 31h2v1h-2zM10 32h2v1h-2zM10 33h2v1h-2z"/><path fill="#757575" d="M16 0h1v1h-1zM16 1h1v1h-1zM16 2h1v1h-1zM16 3h1v1h-1zM15 4h1v1h-1zM15 5h1v1h-1zM14 6h1v1h-1zM13 7h1v1h-1zM12 8h1v1h-1zM12 9h1v1h-1zM12 10h1v1h-1zM13 13h1v1h-1zM13 14h1v1h-1zM13 15h1v1h-1zM13 16h1v1h-1zM12 22h1v1h-1zM12 23h1v1h-1zM12 24h1v1h-1zM12 29h1v1h-1zM12 30h1v1h-1zM12 31h1v1h-1zM12 32h1v1h-1zM12 33h1v1h-1z"/><path fill="#797979" d="M17 0h1v1h-1zM17 1h1v1h-1zM17 2h1v1h-1zM17 3h1v1h-1zM16 4h1v1h-1zM15 6h1v1h-1zM14 7h1v1h-1zM13 8h1v1h-1zM13 9h1v1h-1zM13 10h1v1h-1zM13 11h1v1h-1zM13 12h1v1h-1zM13 17h1v1h-1zM13 18h1v1h-1zM13 19h1v1h-1zM13 20h1v1h-1zM13 21h1v1h-1zM13 22h1v1h-1zM13 23h1v1h-1zM12 25h1v1h-1zM12 26h1v1h-1zM12 27h1v1h-1zM12 28h1v1h-1z"/><path fill="#7d7d7d" d="M17 4h1v1h-1zM16 5h1v1h-1zM16 6h1v1h-1zM15 7h1v1h-1zM14 8h1v1h-1zM14 9h1v1h-1zM14 10h1v1h-1zM14 11h1v1h-1zM14 12h1v1h-1zM14 13h1v1h-1zM14 14h1v1h-1zM14 15h1v1h-1zM14 16h1v1h-1zM14 17h1v1h-1zM14 18h1v1h-1zM14 19h1v1h-1zM14 20h1v1h-1zM13 24h1v1h-1zM13 25h1v1h-1zM13 26h1v1h-1zM13 27h1v1h-1zM13 28h1v1h-1zM13 29h1v1h-1zM13 30h1v1h-1zM13 31h1v1h-1zM13 32h1v1h-1zM13 33h1v1h-1z"/><path fill="#828282" d="M18 0h1v1h-1zM18 1h1v1h-1zM18 2h1v1h-1zM18 3h1v1h-1zM18 4h1v1h-1zM17 5h1v1h-1zM17 6h1v1h-1zM16 7h1v1h-1zM15 8h2v1h-2zM15 9h2v1h-2zM15 10h2v1h-2zM15 11h1v1h-1zM15 12h1v1h-1zM15 13h1v1h-1zM15 14h1v1h-1zM15 15h1v1h-1zM15 16h1v1h-1zM15 17h1v1h-1zM15 18h1v1h-1zM15 19h1v1h-1zM15 20h1v1h-1zM14 21h1v1h-1zM14 22h1v1h-1zM14 23h1v1h-1zM14 24h1v1h-1zM14 25h1v1h-1zM14 26h1v1h-1zM14 27h1v1h-1zM14 28h1v1h-1zM14 29h1v1h-1zM14 30h2v1h-2zM14 31h2v1h-2zM14 32h2v1h-2zM14 33h2v1h-2z"/><path fill="#868686" d="M19 0h1v1h-1zM19 1h1v1h-1zM19 2h1v1h-1zM19 3h1v1h-1zM19 4h1v1h-1zM18 5h1v1h-1zM18 6h1v1h-1zM17 7h2v1h-2zM17 8h1v1h-1zM17 9h1v1h-1zM17 10h1v1h-1zM16 11h2v1h-2zM16 12h1v1h-1zM16 13h1v1h-1zM16 14h1v1h-1zM16 15h1v1h-1zM16 16h1v1h-1zM16 17h1v1h-1zM16 18h1v1h-1zM16 19h1v1h-1zM16 20h1v1h-1zM15 21h2v1h-2zM15 22h1v1h-1zM15 23h1v1h-1zM15 24h1v1h-1zM15 25h1v1h-1zM15 26h1v1h-1zM15 27h1v1h-1zM15 28h2v1h-2zM15 29h2v1h-2zM16 30h1v1h-1zM16 31h1v1h-1zM16 32h1v1h-1zM16 33h1v1h-1z"/><path fill="#8a8a8a" d="M20 0h1v1h-1zM20 1h1v1h-1zM20 2h1v1h-1zM20 3h1v1h-1zM20 4h1v1h-1zM19 5h1v1h-1zM19 6h1v1h-1zM19 7h1v1h-1zM18 8h1v1h-1zM18 9h1v1h-1zM18 10h1v1h-1zM18 11h1v1h-1zM17 12h2v1h-2zM17 13h1v1h-1zM17 14h1v1h-1zM17 15h1v1h-1zM17 16h1v1h-1zM17 17h1v1h-1zM17 18h1v1h-1zM17 19h1v1h-1zM17 20h1v1h-1zM17 21h1v1h-1zM16 22h2v1h-2zM16 23h2v1h-2zM16 24h1v1h-1zM16 25h1v1h-1zM16 26h2v1h-2zM16 27h2v1h-2zM17 28h1v1h-1zM17 29h1v1h-1zM17 30h1v1h-1zM17 31h1v1h-1zM17 32h1v1h-1zM17 33h1v1h-1z"/><path fill="#8e8e8e" d="M21 0h1v1h-1zM21 1h1v1h-1zM21 2h1v1h-1zM21 3h1v1h-1zM21 4h1v1h-1zM20 5h1v1h-1zM20 6h1v1h-1zM20 7h1v1h-1zM19 8h1v1h-1zM19 9h1v1h-1zM19 10h1v1h-1zM19 11h1v1h-1zM19 12h1v1h-1zM18 13h2v1h-2zM18 14h1v1h-1zM18 15h1v1h-1zM18 16h1v1h-1zM18 17h1v1h-1zM18 18h1v1h-1zM18 19h1v1h-1zM18 20h1v1h-1zM18 21h1v1h-1zM18 22h1v1h-1zM18 23h1v1h-1zM17 24h2v1h-2zM17 25h2v1h-2zM18 26h1v1h-1zM18 27h1v1h-1zM18 28h1v1h-1zM18 29h1v1h-1zM18 30h1v1h-1zM18 31h1v1h-1zM18 32h1v1h-1zM18 33h1v1h-1z"/><path fill="#929292" d="M22 0h1v1h-1zM22 1h1v1h-1zM22 2h1v1h-1zM22 3h1v1h-1zM21 5h1v1h-1zM21 6h1v1h-1zM20 8h1v1h-1zM20 9h1v1h-1zM20 10h1v1h-1zM20 11h1v1h-1zM20 12h1v1h-1zM20 13h1v1h-1zM19 14h1v1h-1zM19 15h1v1h-1zM19 16h1v1h-1zM19 17h1v1h-1zM19 18h1v1h-1zM19 19h1v1h-1zM19 20h1v1h-1zM19 21h1v1h-1zM19 22h1v1h-1zM19 23h1v1h-1zM19 24h1v1h-1zM19 25h1v1h-1zM19 26h1v1h-1zM19 27h1v1h-1zM19 28h1v1h-1zM19 29h1v1h-1zM19 30h2v1h-2zM19 31h2v1h-2zM19 32h2v1h-2zM19 33h2v1h-2z"/><path fill="#969696" d="M23 0h1v1h-1zM23 1h1v1h-1zM23 2h1v1h-1zM23 3h1v1h-1zM22 4h1v1h-1zM22 5h1v1h-1zM22 6h1v1h-1zM21 7h1v1h-1zM21 8h1v1h-1zM21 9h1v1h-1zM21 10h1v1h-1zM21 11h1v1h-1zM21 12h1v1h-1zM21 13h1v1h-1zM20 14h2v1h-2zM20 15h1v1h-1zM20 16h1v1h-1zM20 17h1v1h-1zM20 18h1v1h-1zM20 19h1v1h-1zM20 20h1v1h-1zM20 21h1v1h-1zM20 22h1v1h-1zM20 23h1v1h-1zM20 24h1v1h-1zM20 25h1v1h-1zM20 26h1v1h-1zM20 27h1v1h-1zM20 28h2v1h-2zM20 29h2v1h-2zM21 30h1v1h-1zM21 31h1v1h-1zM21 32h1v1h-1zM21 33h1v1h-1z"/><path fill="#9a9a9a" d="M23 4h1v1h-1zM23 5h1v1h-1zM22 7h1v1h-1zM22 8h1v1h-1zM22 9h1v1h-1zM22 10h1v1h-1zM22 11h1v1h-1zM22 12h1v1h-1zM22 13h1v1h-1zM22 14h1v1h-1zM21 15h1v1h-1zM21 16h1v1h-1zM21 17h1v1h-1zM21 18h1v1h-1zM21 19h1v1h-1zM21 20h1v1h-1zM21 21h1v1h-1zM21 22h1v1h-1zM21 23h1v1h-1zM21 24h1v1h-1zM21 25h1v1h-1zM21 26h1v1h-1zM21 27h1v1h-1zM22 28h1v1h-1zM22 29h1v1h-1zM22 30h2v1h-2zM22 31h2v1h-2zM22 32h2v1h-2zM22 33h2v1h-2z"/><path fill="#9e9e9e" d="M24 0h1v1h-1zM24 1h1v1h-1zM24 2h1v1h-1zM24 3h1v1h-1zM24 4h1v1h-1zM24 5h1v1h-1zM23 6h1v1h-1zM23 7h1v1h-1zM23 8h1v1h-1zM23 9h1v1h-1zM23 10h1v1h-1zM23 11h1v1h-1zM23 12h1v1h-1zM23 13h1v1h-1zM23 14h1v1h-1zM22 15h1v1h-1zM22 16h1v1h-1zM22 17h1v1h-1zM22 18h1v1h-1zM22 19h1v1h-1zM22 20h1v1h-1zM22 21h1v1h-1zM22 22h1v1h-1zM22 23h1v1h-1zM22 24h1v1h-1zM22 25h1v1h-1zM22 26h1v1h-1zM22 27h2v1h-2zM23 28h1v1h-1zM23 29h2v1h-2zM24 30h1v1h-1zM24 31h1v1h-1zM24 32h1v1h-1zM24 33h1v1h-1z"/><path fill="#a2a2a2" d="M25 0h2v1h-2zM25 1h2v1h-2zM25 2h2v1h-2zM25 3h2v1h-2zM25 4h1v1h-1zM24 6h1v1h-1zM24 7h1v1h-1zM24 11h1v1h-1zM24 12h1v1h-1zM24 13h1v1h-1zM24 14h1v1h-1zM23 15h2v1h-2zM23 16h1v1h-1zM23 17h1v1h-1zM23 18h1v1h-1zM23 19h1v1h-1zM23 20h1v1h-1zM23 21h1v1h-1zM23 22h1v1h-1zM23 23h1v1h-1zM23 24h1v1h-1zM23 25h1v1h-1zM23 26h1v1h-1zM24 27h1v1h-1zM24 28h2v1h-2zM25 29h9v1h-9zM25 30h9v1h-9zM25 31h9v1h-9zM25 32h9v1h-9zM25 33h9v1h-9z"/><path fill="#a6a6a6" d="M27 0h2v1h-2zM27 1h2v1h-2zM27 2h2v1h-2zM27 3h2v1h-2zM26 4h2v1h-2zM25 5h3v1h-3zM25 6h2v1h-2zM25 7h1v1h-1zM24 8h1v1h-1zM24 9h1v1h-1zM24 10h1v1h-1zM25 11h1v1h-1zM25 12h1v1h-1zM25 13h1v1h-1zM25 14h1v1h-1zM25 15h1v1h-1zM24 16h1v1h-1zM24 17h1v1h-1zM24 18h1v1h-1zM24 19h1v1h-1zM24 20h1v1h-1zM24 21h1v1h-1zM24 22h1v1h-1zM24 23h1v1h-1zM24 24h1v1h-1zM24 25h1v1h-1zM24 26h3v1h-3zM25 27h9v1h-9zM26 28h8v1h-8z"/><path fill="#aaa" d="M29 0h5v1h-5zM29 1h5v1h-5zM29 2h5v1h-5zM29 3h5v1h-5zM28 4h2v1h-2zM28 5h2v1h-2zM27 6h2v1h-2zM26 7h3v1h-3zM25 8h3v1h-3zM25 9h3v1h-3zM25 10h3v1h-3zM26 11h2v1h-2zM26 12h2v1h-2zM26 13h2v1h-2zM26 14h2v1h-2zM26 15h2v1h-2zM25 16h3v1h-3zM25 17h2v1h-2zM25 18h2v1h-2zM25 19h1v1h-1zM25 20h1v1h-1zM25 21h2v1h-2zM25 22h2v1h-2zM25 23h3v1h-3zM25 24h4v1h-4zM25 25h9v1h-9zM27 26h7v1h-7z"/><path fill="#aeaeae" d="M30 4h4v1h-4zM30 5h4v1h-4zM29 6h5v1h-5zM29 7h5v1h-5zM28 8h6v1h-6zM28 9h6v1h-6zM28 10h6v1h-6zM28 11h6v1h-6zM28 12h2v1h-2zM28 13h2v1h-2zM28 14h2v1h-2zM28 15h2v1h-2zM28 16h2v1h-2zM27 17h3v1h-3zM27 18h3v1h-3zM26 19h4v1h-4zM26 20h4v1h-4zM27 21h7v1h-7zM27 22h7v1h-7zM28 23h6v1h-6zM29 24h5v1h-5z"/><path fill="#b2b2b2" d="M30 12h4v1h-4zM30 13h4v1h-4zM30 14h4v1h-4zM30 15h4v1h-4zM30 16h4v1h-4zM30 17h4v1h-4zM30 18h4v1h-4zM30 19h4v1h-4zM30 20h4v1h-4z"/></g></g>
</g>
<rect x="1762.0" y="696.75" width="209" height="209" fill="none" stroke="#222" stroke-width="1.4"/>
<text x="135.75" y="685.9" font-size="27.3" font-family="'Liberation Sans',sans-serif" textLength="25.35" lengthAdjust="spacingAndGlyphs">0°</text>
<text x="376.75" y="685.9" font-size="27.3" font-family="'Liberation Sans',sans-serif" textLength="40.26" lengthAdjust="spacingAndGlyphs">90°</text>
<text x="605.6" y="685.9" font-size="27.3" font-family="'Liberation Sans',sans-serif" textLength="53.79" lengthAdjust="spacingAndGlyphs">180°</text>
<text x="849.2" y="685.9" font-size="27.3" font-family="'Liberation Sans',sans-serif" textLength="55.78" lengthAdjust="spacingAndGlyphs">270°</text>
<text x="1138.5" y="685.9" font-size="27.3" font-family="'Liberation Sans',sans-serif" textLength="25.05" lengthAdjust="spacingAndGlyphs">0°</text>
<text x="1376" y="685.9" font-size="27.3" font-family="'Liberation Sans',sans-serif" textLength="39.96" lengthAdjust="spacingAndGlyphs">90°</text>
<text x="1602.5" y="685.9" font-size="27.3" font-family="'Liberation Sans',sans-serif" textLength="53.49" lengthAdjust="spacingAndGlyphs">180°</text>
<text x="1844" y="685.9" font-size="27.3" font-family="'Liberation Sans',sans-serif" textLength="55.98" lengthAdjust="spacingAndGlyphs">270°</text>
<rect x="911.25" y="858" width="51.25" height="11.25"/>
<text x="903" y="898" font-size="24.5" font-family="'Liberation Sans',sans-serif" textLength="59.44" lengthAdjust="spacingAndGlyphs">5mm</text>
<rect x="1907.2" y="857.8" width="51.1" height="11.2"/>
<text x="1901.2" y="898" font-size="24.5" font-family="'Liberation Sans',sans-serif" textLength="59.44" lengthAdjust="spacingAndGlyphs">5mm</text>
<rect x="105.5" y="928" width="82.75" height="11.5" fill="url(#gb)" stroke="#000" stroke-width="3.5"/>
<rect x="346.25" y="928" width="82.5" height="11.5" fill="url(#gb)" stroke="#000" stroke-width="3.5"/>
<rect x="587.25" y="928" width="82.25" height="11.5" fill="url(#gb)" stroke="#000" stroke-width="3.5"/>
<rect x="828.0" y="928" width="82.25" height="11.5" fill="url(#gb)" stroke="#000" stroke-width="3.5"/>
<rect x="1106.75" y="928" width="81.5" height="11.5" fill="url(#gb)" stroke="#000" stroke-width="3.5"/>
<rect x="1345.25" y="928" width="81.5" height="11.5" fill="url(#gb)" stroke="#000" stroke-width="3.5"/>
<rect x="1585.25" y="928" width="82" height="11.5" fill="url(#gb)" stroke="#000" stroke-width="3.5"/>
<rect x="1826.75" y="928" width="81.5" height="11.5" fill="url(#gb)" stroke="#000" stroke-width="3.5"/>
<text x="43.75" y="946.5" font-size="27.3" font-family="'Liberation Sans',sans-serif" textLength="51.78" lengthAdjust="spacingAndGlyphs">0.99</text>
<text x="198.75" y="946.5" font-size="27.3" font-family="'Liberation Sans',sans-serif" textLength="50.03" lengthAdjust="spacingAndGlyphs">1.01</text>
<text x="283.75" y="946.5" font-size="27.3" font-family="'Liberation Sans',sans-serif" textLength="52.53" lengthAdjust="spacingAndGlyphs">0.98</text>
<text x="441.25" y="946.5" font-size="27.3" font-family="'Liberation Sans',sans-serif" textLength="46.78" lengthAdjust="spacingAndGlyphs">1.01</text>
<text x="525" y="946.5" font-size="27.3" font-family="'Liberation Sans',sans-serif" textLength="51.28" lengthAdjust="spacingAndGlyphs">0.99</text>
<text x="681.25" y="946.5" font-size="27.3" font-family="'Liberation Sans',sans-serif" textLength="50.03" lengthAdjust="spacingAndGlyphs">1.02</text>
<text x="765.75" y="946.5" font-size="27.3" font-family="'Liberation Sans',sans-serif" textLength="51.78" lengthAdjust="spacingAndGlyphs">0.99</text>
<text x="922.5" y="946.5" font-size="27.3" font-family="'Liberation Sans',sans-serif" textLength="47.53" lengthAdjust="spacingAndGlyphs">1.01</text>
<text x="1045" y="946.5" font-size="27.3" font-family="'Liberation Sans',sans-serif" textLength="51.03" lengthAdjust="spacingAndGlyphs">1.02</text>
<text x="1200" y="946.5" font-size="27.3" font-family="'Liberation Sans',sans-serif" textLength="51.03" lengthAdjust="spacingAndGlyphs">1.03</text>
<text x="1284" y="946.5" font-size="27.3" font-family="'Liberation Sans',sans-serif" textLength="52.03" lengthAdjust="spacingAndGlyphs">0.97</text>
<text x="1440" y="946.5" font-size="27.3" font-family="'Liberation Sans',sans-serif" textLength="51.53" lengthAdjust="spacingAndGlyphs">0.98</text>
<text x="1527.5" y="946.5" font-size="27.3" font-family="'Liberation Sans',sans-serif" textLength="50.03" lengthAdjust="spacingAndGlyphs">1.02</text>
<text x="1682.5" y="946.5" font-size="27.3" font-family="'Liberation Sans',sans-serif" textLength="50.03" lengthAdjust="spacingAndGlyphs">1.03</text>
<text x="1766.5" y="946.5" font-size="27.3" font-family="'Liberation Sans',sans-serif" textLength="51.03" lengthAdjust="spacingAndGlyphs">0.97</text>
<text x="1921.5" y="946.5" font-size="27.3" font-family="'Liberation Sans',sans-serif" textLength="52.03" lengthAdjust="spacingAndGlyphs">0.98</text>
<text x="472.5" y="986.3" font-size="27.3" font-family="'Liberation Sans',sans-serif" textLength="496.27" lengthAdjust="spacingAndGlyphs">Color range: Relative transmittance (RT)</text>
<text x="1472.5" y="986.3" font-size="27.3" font-family="'Liberation Sans',sans-serif" textLength="496.52" lengthAdjust="spacingAndGlyphs">Color range: Relative transmittance (RT)</text>
<g filter="url(#soft)"><g transform="translate(132 1058.25) scale(9.8714 9.7917)" shape-rendering="crispEdges"><path fill="#000" d="M33 9h2v1h-2zM33 10h2v1h-2zM33 26h2v1h-2zM33 27h2v1h-2zM33 28h2v1h-2z"/><path fill="#050505" d="M33 8h2v1h-2z"/><path fill="#0a0a0a" d="M30 9h1v1h-1zM30 27h1v1h-1z"/><path fill="#0f0f0f" d="M29 9h1v1h-1zM31 9h1v1h-1zM30 10h1v1h-1zM29 27h1v1h-1zM31 27h1v1h-1z"/><path fill="#141414" d="M27 9h2v1h-2zM32 9h1v1h-1zM29 10h1v1h-1zM31 10h1v1h-1zM33 11h2v1h-2zM29 26h3v1h-3zM27 27h2v1h-2zM32 27h1v1h-1zM29 28h3v1h-3z"/><path fill="#191919" d="M29 8h3v1h-3zM26 9h1v1h-1zM27 10h2v1h-2zM32 10h1v1h-1zM33 25h2v1h-2zM28 26h1v1h-1zM32 26h1v1h-1zM26 27h1v1h-1zM28 28h1v1h-1zM32 28h1v1h-1zM33 29h2v1h-2z"/><path fill="#1e1e1e" d="M33 7h2v1h-2zM27 8h2v1h-2zM32 8h1v1h-1zM25 9h1v1h-1zM26 10h1v1h-1zM27 26h1v1h-1zM25 27h1v1h-1zM27 28h1v1h-1z"/><path fill="#232323" d="M26 8h1v1h-1zM24 9h1v1h-1zM25 10h1v1h-1zM29 11h3v1h-3zM25 26h2v1h-2zM24 27h1v1h-1zM25 28h2v1h-2z"/><path fill="#282828" d="M25 8h1v1h-1zM23 9h1v1h-1zM24 10h1v1h-1zM28 11h1v1h-1zM32 11h1v1h-1zM29 25h3v1h-3zM24 26h1v1h-1zM23 27h1v1h-1zM24 28h1v1h-1zM29 29h3v1h-3z"/><path fill="#2d2d2d" d="M30 7h1v1h-1zM24 8h1v1h-1zM23 10h1v1h-1zM26 11h2v1h-2zM28 25h1v1h-1zM32 25h1v1h-1zM28 29h1v1h-1zM32 29h1v1h-1z"/><path fill="#323232" d="M28 7h2v1h-2zM31 7h2v1h-2zM23 8h1v1h-1zM22 9h1v1h-1zM25 11h1v1h-1zM26 25h2v1h-2zM23 26h1v1h-1zM22 27h1v1h-1zM23 28h1v1h-1zM26 29h2v1h-2z"/><path fill="#373737" d="M26 7h2v1h-2zM22 8h1v1h-1zM21 9h1v1h-1zM22 10h1v1h-1zM24 11h1v1h-1zM33 12h2v1h-2zM25 25h1v1h-1zM22 26h1v1h-1zM21 27h1v1h-1zM22 28h1v1h-1zM25 29h1v1h-1z"/><path fill="#3c3c3c" d="M25 7h1v1h-1zM20 9h1v1h-1zM21 10h1v1h-1zM23 11h1v1h-1zM33 24h2v1h-2zM24 25h1v1h-1zM21 26h1v1h-1zM20 27h1v1h-1zM21 28h1v1h-1zM24 29h1v1h-1zM33 30h2v1h-2z"/><path fill="#414141" d="M24 7h1v1h-1zM20 8h2v1h-2zM20 10h1v1h-1zM22 11h1v1h-1zM29 12h3v1h-3zM23 25h1v1h-1zM20 26h1v1h-1zM20 28h1v1h-1zM23 29h1v1h-1z"/><path fill="#464646" d="M33 6h2v1h-2zM23 7h1v1h-1zM21 11h1v1h-1zM27 12h2v1h-2zM32 12h1v1h-1zM22 25h1v1h-1zM22 29h1v1h-1z"/><path fill="#4b4b4b" d="M22 7h1v1h-1zM20 11h1v1h-1zM25 12h2v1h-2zM28 24h5v1h-5zM20 25h2v1h-2zM20 29h2v1h-2zM28 30h5v1h-5z"/><path fill="#505050" d="M4 0h2v1h-2zM3 1h3v1h-3zM29 6h3v1h-3zM20 7h2v1h-2zM15 9h5v1h-5zM15 10h5v1h-5zM23 12h2v1h-2zM4 17h1v1h-1zM3 18h3v1h-3zM4 19h1v1h-1zM26 24h2v1h-2zM16 26h4v1h-4zM15 27h5v1h-5zM16 28h4v1h-4zM26 30h2v1h-2zM3 35h3v1h-3z"/><path fill="#555" d="M3 0h1v1h-1zM4 2h2v1h-2zM26 6h3v1h-3zM32 6h1v1h-1zM15 8h5v1h-5zM14 9h1v1h-1zM14 10h1v1h-1zM22 12h1v1h-1zM3 17h1v1h-1zM5 17h1v1h-1zM3 19h1v1h-1zM5 19h1v1h-1zM24 24h2v1h-2zM14 26h2v1h-2zM14 27h1v1h-1zM14 28h2v1h-2zM24 30h2v1h-2zM4 34h2v1h-2z"/><path fill="#5a5a5a" d="M6 0h1v1h-1zM2 1h1v1h-1zM6 1h1v1h-1zM3 2h1v1h-1zM24 6h2v1h-2zM14 8h1v1h-1zM13 9h1v1h-1zM15 11h5v1h-5zM20 12h2v1h-2zM4 16h1v1h-1zM6 17h1v1h-1zM2 18h1v1h-1zM6 18h1v1h-1zM6 19h1v1h-1zM4 20h1v1h-1zM22 24h2v1h-2zM15 25h5v1h-5zM13 27h1v1h-1zM15 29h5v1h-5zM22 30h2v1h-2zM3 34h1v1h-1zM2 35h1v1h-1zM6 35h1v1h-1z"/><path fill="#5f5f5f" d="M2 0h1v1h-1zM2 2h1v1h-1zM6 2h1v1h-1zM4 3h1v1h-1zM22 6h2v1h-2zM14 7h6v1h-6zM13 8h1v1h-1zM13 10h1v1h-1zM14 11h1v1h-1zM33 13h2v1h-2zM3 16h1v1h-1zM5 16h1v1h-1zM2 17h1v1h-1zM2 19h1v1h-1zM3 20h1v1h-1zM5 20h1v1h-1zM20 24h2v1h-2zM14 25h1v1h-1zM13 26h1v1h-1zM13 28h1v1h-1zM14 29h1v1h-1zM20 30h2v1h-2zM4 33h1v1h-1zM2 34h1v1h-1zM6 34h1v1h-1z"/><path fill="#646464" d="M7 1h1v1h-1zM3 3h1v1h-1zM5 3h1v1h-1zM20 6h2v1h-2zM13 7h1v1h-1zM12 9h1v1h-1zM13 11h1v1h-1zM15 12h5v1h-5zM2 16h1v1h-1zM6 16h1v1h-1zM7 18h1v1h-1zM2 20h1v1h-1zM6 20h1v1h-1zM13 25h1v1h-1zM12 27h1v1h-1zM13 29h1v1h-1zM3 33h1v1h-1zM5 33h1v1h-1zM7 35h1v1h-1z"/><path fill="#696969" d="M7 0h1v1h-1zM7 2h1v1h-1zM2 3h1v1h-1zM6 3h1v1h-1zM12 8h1v1h-1zM12 10h1v1h-1zM12 11h1v1h-1zM14 12h1v1h-1zM27 13h6v1h-6zM4 15h1v1h-1zM7 17h1v1h-1zM7 19h1v1h-1zM4 21h1v1h-1zM33 23h2v1h-2zM14 24h6v1h-6zM12 26h1v1h-1zM12 28h1v1h-1zM14 30h6v1h-6zM33 31h2v1h-2zM2 33h1v1h-1zM6 33h1v1h-1zM7 34h1v1h-1z"/><path fill="#6e6e6e" d="M7 3h1v1h-1zM14 6h6v1h-6zM12 7h1v1h-1zM13 12h1v1h-1zM23 13h4v1h-4zM2 15h2v1h-2zM5 15h2v1h-2zM7 16h1v1h-1zM7 20h1v1h-1zM2 21h2v1h-2zM5 21h2v1h-2zM13 24h1v1h-1zM12 25h1v1h-1zM12 29h1v1h-1zM13 30h1v1h-1zM7 33h1v1h-1z"/><path fill="#737373" d="M1 0h1v1h-1zM1 1h1v1h-1zM1 2h1v1h-1zM2 4h5v1h-5zM33 5h2v1h-2zM13 6h1v1h-1zM12 12h1v1h-1zM20 13h3v1h-3zM7 15h1v1h-1zM1 17h1v1h-1zM1 18h1v1h-1zM1 19h1v1h-1zM7 21h1v1h-1zM24 23h9v1h-9zM12 24h1v1h-1zM12 30h1v1h-1zM24 31h9v1h-9zM2 32h5v1h-5zM1 34h1v1h-1zM1 35h1v1h-1z"/><path fill="#787878" d="M8 0h1v1h-1zM8 1h1v1h-1zM8 2h1v1h-1zM1 3h1v1h-1zM7 4h1v1h-1zM27 5h6v1h-6zM12 6h1v1h-1zM11 8h1v1h-1zM11 9h1v1h-1zM11 10h1v1h-1zM11 11h1v1h-1zM13 13h7v1h-7zM1 16h1v1h-1zM8 16h1v1h-1zM8 17h1v1h-1zM8 18h1v1h-1zM8 19h1v1h-1zM1 20h1v1h-1zM8 20h1v1h-1zM15 23h9v1h-9zM11 25h1v1h-1zM11 26h1v1h-1zM11 27h1v1h-1zM11 28h1v1h-1zM11 29h1v1h-1zM15 31h9v1h-9zM7 32h1v1h-1zM1 33h1v1h-1zM8 34h1v1h-1zM8 35h1v1h-1z"/><path fill="#7d7d7d" d="M8 3h1v1h-1zM1 4h1v1h-1zM8 4h1v1h-1zM13 5h14v1h-14zM11 6h1v1h-1zM11 7h1v1h-1zM11 12h1v1h-1zM12 13h1v1h-1zM2 14h6v1h-6zM1 15h1v1h-1zM8 15h1v1h-1zM1 21h1v1h-1zM8 21h1v1h-1zM2 22h6v1h-6zM12 23h3v1h-3zM11 24h1v1h-1zM11 30h1v1h-1zM12 31h3v1h-3zM1 32h1v1h-1zM8 32h1v1h-1zM8 33h1v1h-1z"/><path fill="#828282" d="M9 0h1v1h-1zM9 1h1v1h-1zM9 2h1v1h-1zM9 3h1v1h-1zM2 5h2v1h-2zM6 5h3v1h-3zM12 5h1v1h-1zM10 6h1v1h-1zM10 7h1v1h-1zM10 8h1v1h-1zM10 9h1v1h-1zM10 10h1v1h-1zM10 11h1v1h-1zM10 12h1v1h-1zM11 13h1v1h-1zM1 14h1v1h-1zM8 14h1v1h-1zM9 15h1v1h-1zM9 16h1v1h-1zM9 17h1v1h-1zM9 18h1v1h-1zM9 19h1v1h-1zM9 20h1v1h-1zM9 21h1v1h-1zM1 22h1v1h-1zM8 22h1v1h-1zM11 23h1v1h-1zM10 24h1v1h-1zM10 25h1v1h-1zM10 26h1v1h-1zM10 27h1v1h-1zM10 28h1v1h-1zM10 29h1v1h-1zM10 30h1v1h-1zM2 31h2v1h-2zM6 31h3v1h-3zM11 31h1v1h-1zM9 33h1v1h-1zM9 34h1v1h-1zM9 35h1v1h-1z"/><path fill="#878787" d="M10 3h1v1h-1zM9 4h2v1h-2zM12 4h1v1h-1zM1 5h1v1h-1zM4 5h2v1h-2zM9 5h3v1h-3zM8 6h2v1h-2zM9 7h1v1h-1zM9 11h1v1h-1zM9 12h1v1h-1zM2 13h1v1h-1zM7 13h4v1h-4zM9 14h11v1h-11zM10 15h1v1h-1zM10 21h1v1h-1zM9 22h4v1h-4zM2 23h1v1h-1zM7 23h4v1h-4zM9 24h1v1h-1zM9 25h1v1h-1zM9 29h1v1h-1zM8 30h2v1h-2zM1 31h1v1h-1zM4 31h2v1h-2zM9 31h2v1h-2zM9 32h4v1h-4zM10 33h1v1h-1z"/><path fill="#8c8c8c" d="M10 0h1v1h-1zM10 1h1v1h-1zM10 2h1v1h-1zM11 4h1v1h-1zM13 4h2v1h-2zM1 6h2v1h-2zM7 6h1v1h-1zM8 7h1v1h-1zM9 8h1v1h-1zM9 9h1v1h-1zM9 10h1v1h-1zM8 12h1v1h-1zM1 13h1v1h-1zM3 13h1v1h-1zM6 13h1v1h-1zM20 14h3v1h-3zM11 15h1v1h-1zM10 16h1v1h-1zM10 17h1v1h-1zM10 18h1v1h-1zM10 19h1v1h-1zM10 20h1v1h-1zM11 21h1v1h-1zM13 22h7v1h-7zM1 23h1v1h-1zM3 23h1v1h-1zM6 23h1v1h-1zM8 24h1v1h-1zM9 26h1v1h-1zM9 27h1v1h-1zM9 28h1v1h-1zM8 29h1v1h-1zM1 30h2v1h-2zM7 30h1v1h-1zM13 32h7v1h-7zM11 33h1v1h-1zM10 34h1v1h-1zM10 35h1v1h-1z"/><path fill="#919191" d="M0 0h1v1h-1zM0 1h1v1h-1zM0 2h1v1h-1zM11 2h1v1h-1zM11 3h2v1h-2zM15 4h5v1h-5zM6 6h1v1h-1zM1 7h1v1h-1zM8 8h1v1h-1zM8 9h1v1h-1zM8 10h1v1h-1zM8 11h1v1h-1zM1 12h1v1h-1zM7 12h1v1h-1zM4 13h2v1h-2zM23 14h12v1h-12zM12 15h1v1h-1zM11 16h1v1h-1zM0 17h1v1h-1zM0 18h1v1h-1zM0 19h1v1h-1zM11 20h1v1h-1zM12 21h1v1h-1zM20 22h2v1h-2zM4 23h2v1h-2zM1 24h1v1h-1zM7 24h1v1h-1zM8 25h1v1h-1zM8 26h1v1h-1zM8 27h1v1h-1zM8 28h1v1h-1zM1 29h1v1h-1zM6 30h1v1h-1zM20 32h2v1h-2zM12 33h1v1h-1zM0 34h1v1h-1zM11 34h1v1h-1zM0 35h1v1h-1z"/><path fill="#969696" d="M11 0h1v1h-1zM11 1h1v1h-1zM0 3h1v1h-1zM0 4h1v1h-1zM20 4h2v1h-2zM3 6h3v1h-3zM2 7h1v1h-1zM7 7h1v1h-1zM1 8h1v1h-1zM1 10h1v1h-1zM1 11h1v1h-1zM2 12h1v1h-1zM0 15h1v1h-1zM13 15h2v1h-2zM0 16h1v1h-1zM12 16h1v1h-1zM11 17h1v1h-1zM11 18h1v1h-1zM11 19h1v1h-1zM0 20h1v1h-1zM12 20h1v1h-1zM0 21h1v1h-1zM13 21h1v1h-1zM22 22h5v1h-5zM2 24h1v1h-1zM1 25h1v1h-1zM1 26h1v1h-1zM1 28h1v1h-1zM2 29h1v1h-1zM7 29h1v1h-1zM3 30h3v1h-3zM0 32h1v1h-1zM22 32h5v1h-5zM0 33h1v1h-1zM13 33h1v1h-1zM12 34h1v1h-1zM11 35h1v1h-1z"/><path fill="#9b9b9b" d="M12 1h1v1h-1zM12 2h1v1h-1zM13 3h2v1h-2zM22 4h3v1h-3zM0 5h1v1h-1zM0 6h1v1h-1zM7 8h1v1h-1zM1 9h1v1h-1zM7 10h1v1h-1zM2 11h1v1h-1zM7 11h1v1h-1zM3 12h1v1h-1zM6 12h1v1h-1zM0 13h1v1h-1zM0 14h1v1h-1zM15 15h5v1h-5zM12 17h1v1h-1zM12 19h1v1h-1zM14 21h6v1h-6zM0 22h1v1h-1zM27 22h8v1h-8zM0 23h1v1h-1zM3 24h1v1h-1zM6 24h1v1h-1zM2 25h1v1h-1zM7 25h1v1h-1zM7 26h1v1h-1zM1 27h1v1h-1zM7 28h1v1h-1zM0 30h1v1h-1zM0 31h1v1h-1zM27 32h8v1h-8zM14 33h6v1h-6zM12 35h1v1h-1z"/><path fill="#a0a0a0" d="M12 0h1v1h-1zM13 2h1v1h-1zM15 3h5v1h-5zM25 4h4v1h-4zM32 4h1v1h-1zM0 7h1v1h-1zM3 7h1v1h-1zM6 7h1v1h-1zM0 8h1v1h-1zM2 8h1v1h-1zM0 9h1v1h-1zM7 9h1v1h-1zM0 10h1v1h-1zM0 11h1v1h-1zM0 12h1v1h-1zM4 12h2v1h-2zM13 16h1v1h-1zM12 18h1v1h-1zM13 20h1v1h-1zM0 24h1v1h-1zM4 24h2v1h-2zM0 25h1v1h-1zM0 26h1v1h-1zM0 27h1v1h-1zM7 27h1v1h-1zM0 28h1v1h-1zM2 28h1v1h-1zM0 29h1v1h-1zM3 29h1v1h-1zM6 29h1v1h-1zM13 34h1v1h-1z"/><path fill="#a5a5a5" d="M29 4h3v1h-3zM33 4h2v1h-2zM5 7h1v1h-1zM6 8h1v1h-1zM2 9h1v1h-1zM2 10h1v1h-1zM6 11h1v1h-1zM20 15h2v1h-2zM14 16h2v1h-2zM13 17h1v1h-1zM13 19h1v1h-1zM14 20h1v1h-1zM6 25h1v1h-1zM2 26h1v1h-1zM2 27h1v1h-1zM6 28h1v1h-1zM5 29h1v1h-1zM14 34h1v1h-1zM13 35h1v1h-1z"/><path fill="#aaa" d="M13 0h1v1h-1zM13 1h1v1h-1zM14 2h2v1h-2zM4 7h1v1h-1zM6 9h1v1h-1zM6 10h1v1h-1zM3 11h1v1h-1zM22 15h1v1h-1zM16 16h4v1h-4zM13 18h1v1h-1zM15 20h5v1h-5zM20 21h2v1h-2zM3 25h1v1h-1zM6 26h1v1h-1zM6 27h1v1h-1zM4 29h1v1h-1zM20 33h2v1h-2zM15 34h5v1h-5z"/><path fill="#afafaf" d="M14 0h1v1h-1zM14 1h1v1h-1zM16 2h4v1h-4zM20 3h2v1h-2zM3 8h1v1h-1zM3 10h1v1h-1zM4 11h2v1h-2zM23 15h2v1h-2zM14 17h2v1h-2zM14 18h1v1h-1zM14 19h2v1h-2zM22 21h1v1h-1zM4 25h2v1h-2zM3 26h1v1h-1zM3 28h1v1h-1zM22 33h1v1h-1zM14 35h2v1h-2z"/><path fill="#b4b4b4" d="M15 0h5v1h-5zM15 1h5v1h-5zM22 3h1v1h-1zM4 8h2v1h-2zM3 9h1v1h-1zM5 10h1v1h-1zM25 15h3v1h-3zM16 17h4v1h-4zM15 18h5v1h-5zM16 19h4v1h-4zM23 21h2v1h-2zM5 26h1v1h-1zM3 27h1v1h-1zM4 28h2v1h-2zM23 33h2v1h-2zM16 35h4v1h-4z"/><path fill="#b9b9b9" d="M23 3h1v1h-1zM4 9h2v1h-2zM4 10h1v1h-1zM28 15h5v1h-5zM20 16h1v1h-1zM25 21h2v1h-2zM4 26h1v1h-1zM4 27h2v1h-2zM25 33h2v1h-2z"/><path fill="#bebebe" d="M20 2h1v1h-1zM24 3h2v1h-2zM33 15h2v1h-2zM21 16h2v1h-2zM20 20h2v1h-2zM27 21h2v1h-2zM32 21h1v1h-1zM27 33h2v1h-2zM32 33h1v1h-1zM20 34h2v1h-2z"/><path fill="#c3c3c3" d="M21 2h1v1h-1zM26 3h2v1h-2zM32 3h1v1h-1zM22 20h1v1h-1zM29 21h3v1h-3zM29 33h3v1h-3zM22 34h1v1h-1z"/><path fill="#c8c8c8" d="M20 1h1v1h-1zM22 2h1v1h-1zM28 3h4v1h-4zM23 16h1v1h-1zM20 17h2v1h-2zM20 19h1v1h-1zM33 21h2v1h-2zM33 33h2v1h-2zM20 35h1v1h-1z"/><path fill="#cdcdcd" d="M20 0h1v1h-1zM21 1h1v1h-1zM23 2h1v1h-1zM33 3h2v1h-2zM24 16h2v1h-2zM20 18h1v1h-1zM21 19h1v1h-1zM23 20h2v1h-2zM23 34h2v1h-2zM21 35h1v1h-1z"/><path fill="#d2d2d2" d="M21 0h1v1h-1zM22 1h1v1h-1zM24 2h1v1h-1zM26 16h1v1h-1zM22 17h1v1h-1zM21 18h1v1h-1zM22 19h1v1h-1zM25 20h1v1h-1zM25 34h1v1h-1zM22 35h1v1h-1z"/><path fill="#d7d7d7" d="M22 0h1v1h-1zM25 2h1v1h-1zM27 16h2v1h-2zM32 16h1v1h-1zM23 17h1v1h-1zM22 18h1v1h-1zM23 19h1v1h-1zM26 20h1v1h-1zM26 34h1v1h-1zM23 35h1v1h-1z"/><path fill="#dcdcdc" d="M23 0h1v1h-1zM23 1h1v1h-1zM26 2h1v1h-1zM29 16h3v1h-3zM24 17h1v1h-1zM23 18h1v1h-1zM27 20h2v1h-2zM32 20h1v1h-1zM27 34h2v1h-2zM32 34h1v1h-1z"/><path fill="#e1e1e1" d="M24 0h1v1h-1zM24 1h1v1h-1zM27 2h2v1h-2zM32 2h1v1h-1zM25 17h1v1h-1zM24 19h1v1h-1zM29 20h3v1h-3zM29 34h3v1h-3zM24 35h1v1h-1z"/><path fill="#e6e6e6" d="M25 0h1v1h-1zM25 1h1v1h-1zM29 2h3v1h-3zM33 16h2v1h-2zM26 17h1v1h-1zM24 18h1v1h-1zM25 19h1v1h-1zM25 35h1v1h-1z"/><path fill="#ebebeb" d="M26 0h1v1h-1zM26 1h1v1h-1zM27 17h1v1h-1zM32 17h1v1h-1zM25 18h1v1h-1zM26 19h2v1h-2zM33 20h2v1h-2zM33 34h2v1h-2zM26 35h2v1h-2z"/><path fill="#f0f0f0" d="M27 0h1v1h-1zM27 1h1v1h-1zM32 1h1v1h-1zM33 2h2v1h-2zM28 17h2v1h-2zM31 17h1v1h-1zM26 18h2v1h-2zM28 19h1v1h-1zM32 19h1v1h-1zM28 35h1v1h-1zM32 35h1v1h-1z"/><path fill="#f5f5f5" d="M28 0h1v1h-1zM32 0h1v1h-1zM28 1h2v1h-2zM31 1h1v1h-1zM30 17h1v1h-1zM28 18h1v1h-1zM32 18h1v1h-1zM29 19h3v1h-3zM29 35h3v1h-3z"/><path fill="#fafafa" d="M29 0h3v1h-3zM30 1h1v1h-1zM29 18h3v1h-3z"/><path fill="#fff" d="M33 0h2v1h-2zM33 1h2v1h-2zM33 17h2v1h-2zM33 18h2v1h-2zM33 19h2v1h-2zM33 35h2v1h-2z"/></g></g>
<rect x="132" y="1058.25" width="345.5" height="352.5" fill="none" stroke="#000" stroke-width="2"/>
<rect x="218.77" y="1144.06" width="15.4" height="15.2" fill="#0000ff"/>
<line x1="124" y1="1063.15" x2="132" y2="1063.15" stroke="#000" stroke-width="1.6"/>
<text transform="translate(118 1072.05) scale(1.04 1)" font-size="23" font-family="'DejaVu Sans','Liberation Sans',sans-serif" text-anchor="end" fill="#262626">0</text>
<line x1="124" y1="1239.4" x2="132" y2="1239.4" stroke="#000" stroke-width="1.6"/>
<text transform="translate(116.4 1250) scale(0.93 1)" font-size="23" font-family="'DejaVu Sans','Liberation Sans',sans-serif" text-anchor="end" fill="#262626">180</text>
<line x1="124" y1="1405.85" x2="132" y2="1405.85" stroke="#000" stroke-width="1.6"/>
<text transform="translate(113.7 1416.45) scale(0.93 1)" font-size="23" font-family="'DejaVu Sans','Liberation Sans',sans-serif" text-anchor="end" fill="#262626">350</text>
<line x1="136.94" y1="1410.75" x2="136.94" y2="1419.25" stroke="#000" stroke-width="1.6"/>
<text transform="translate(136.44 1446.5) scale(0.93 1)" font-size="23" font-family="'DejaVu Sans','Liberation Sans',sans-serif" text-anchor="middle" fill="#262626">270</text>
<line x1="472.56" y1="1410.75" x2="472.56" y2="1419.25" stroke="#000" stroke-width="1.6"/>
<text transform="translate(472.06 1445.7) scale(0.93 1)" font-size="23" font-family="'DejaVu Sans','Liberation Sans',sans-serif" text-anchor="middle" fill="#262626">780</text>
<text x="198.75" y="1451.4" font-size="27" font-family="'Liberation Sans',sans-serif" textLength="209.94" lengthAdjust="spacingAndGlyphs">Wavelength (nm)</text>
<text transform="translate(51.4 1239.5) rotate(-90)" font-size="28.6" font-family="'Liberation Sans',sans-serif" text-anchor="middle" textLength="207" lengthAdjust="spacingAndGlyphs">PSG angle (deg)</text>
<text x="274.25" y="1036.75" font-size="27" font-family="'DejaVu Serif','Liberation Serif',serif" textLength="51.5" lengthAdjust="spacingAndGlyphs"><tspan font-style="italic">μ</tspan><tspan font-style="italic" font-size="19" dy="6">PSG</tspan></text>
<rect x="210.65" y="1475.65" width="185.45" height="18.2" fill="url(#gb)" stroke="#000" stroke-width="3.8"/>
<text x="148" y="1493.9" font-size="27.3" font-family="'Liberation Sans',sans-serif" textLength="51.53" lengthAdjust="spacingAndGlyphs">0.83</text>
<text x="412.5" y="1493.9" font-size="27.3" font-family="'Liberation Sans',sans-serif" textLength="50.03" lengthAdjust="spacingAndGlyphs">1.17</text>
<text x="273.75" y="1526.25" font-size="27" font-family="'Liberation Sans',sans-serif" textLength="58.25" lengthAdjust="spacingAndGlyphs"><tspan font-style="italic" font-family="'DejaVu Serif','Liberation Serif',serif">μ</tspan> RT</text>
<g filter="url(#soft)"><g transform="translate(583.25 1058.25) scale(9.8714 9.7917)" shape-rendering="crispEdges"><path fill="#0a0a0a" d="M12 21h7v1h-7zM13 22h4v1h-4z"/><path fill="#0f0f0f" d="M12 22h1v1h-1zM17 22h2v1h-2z"/><path fill="#141414" d="M13 19h1v1h-1zM12 20h7v1h-7zM13 23h6v1h-6z"/><path fill="#191919" d="M14 19h5v1h-5zM21 21h6v1h-6zM22 22h10v1h-10zM12 23h1v1h-1z"/><path fill="#1e1e1e" d="M13 18h2v1h-2zM12 19h1v1h-1zM19 20h1v1h-1zM19 21h1v1h-1zM27 21h5v1h-5zM21 22h1v1h-1zM11 28h1v1h-1zM32 28h1v1h-1zM11 29h1v1h-1zM13 32h4v1h-4zM13 33h4v1h-4z"/><path fill="#232323" d="M4 9h1v1h-1zM19 19h1v1h-1zM19 22h1v1h-1zM21 23h8v1h-8zM12 24h1v1h-1zM10 27h2v1h-2zM10 28h1v1h-1zM12 28h1v1h-1zM12 29h1v1h-1zM11 30h1v1h-1zM11 31h1v1h-1zM12 32h1v1h-1zM12 33h1v1h-1zM13 34h2v1h-2zM21 34h1v1h-1z"/><path fill="#282828" d="M4 8h1v1h-1zM12 18h1v1h-1zM15 18h5v1h-5zM21 20h2v1h-2zM20 21h1v1h-1zM20 22h1v1h-1zM19 23h2v1h-2zM13 24h16v1h-16zM11 25h17v1h-17zM10 26h8v1h-8zM21 26h7v1h-7zM12 27h6v1h-6zM20 27h1v1h-1zM13 28h7v1h-7zM10 29h1v1h-1zM12 31h1v1h-1zM21 33h1v1h-1zM15 34h3v1h-3zM22 34h10v1h-10z"/><path fill="#2d2d2d" d="M4 10h1v1h-1zM15 10h5v1h-5zM13 17h7v1h-7zM20 20h1v1h-1zM23 20h4v1h-4zM11 21h1v1h-1zM32 21h1v1h-1zM11 22h1v1h-1zM32 22h1v1h-1zM11 23h1v1h-1zM11 24h1v1h-1zM10 25h1v1h-1zM9 26h1v1h-1zM20 26h1v1h-1zM9 27h1v1h-1zM32 27h1v1h-1zM20 28h1v1h-1zM13 29h7v1h-7zM32 29h1v1h-1zM10 30h1v1h-1zM12 30h1v1h-1zM0 32h1v1h-1zM11 32h1v1h-1zM17 32h3v1h-3zM17 33h3v1h-3zM22 33h3v1h-3zM12 34h1v1h-1zM18 34h2v1h-2zM13 35h3v1h-3z"/><path fill="#323232" d="M4 7h1v1h-1zM19 9h1v1h-1zM15 11h5v1h-5zM0 12h1v1h-1zM15 14h5v1h-5zM14 15h6v1h-6zM14 16h6v1h-6zM12 17h1v1h-1zM11 20h1v1h-1zM27 20h2v1h-2zM29 23h4v1h-4zM9 25h1v1h-1zM33 25h1v1h-1zM21 27h7v1h-7zM33 27h1v1h-1zM21 28h3v1h-3zM0 31h1v1h-1zM10 31h1v1h-1zM13 31h7v1h-7zM25 33h4v1h-4zM32 33h1v1h-1zM32 34h1v1h-1zM16 35h4v1h-4zM21 35h3v1h-3z"/><path fill="#373737" d="M14 9h5v1h-5zM3 10h1v1h-1zM14 10h1v1h-1zM3 11h2v1h-2zM14 11h1v1h-1zM15 12h5v1h-5zM15 13h5v1h-5zM14 14h1v1h-1zM13 16h1v1h-1zM11 19h1v1h-1zM20 19h2v1h-2zM33 21h1v1h-1zM33 22h1v1h-1zM33 23h1v1h-1zM10 24h1v1h-1zM33 24h1v1h-1zM18 26h2v1h-2zM33 26h1v1h-1zM18 27h2v1h-2zM9 28h1v1h-1zM24 28h5v1h-5zM33 28h1v1h-1zM13 30h7v1h-7zM10 32h1v1h-1zM11 33h1v1h-1zM29 33h3v1h-3zM33 34h1v1h-1zM20 35h1v1h-1zM24 35h5v1h-5z"/><path fill="#3c3c3c" d="M15 0h2v1h-2zM14 12h1v1h-1zM14 13h1v1h-1zM11 18h1v1h-1zM22 19h2v1h-2zM34 21h1v1h-1zM34 22h1v1h-1zM34 23h1v1h-1zM29 24h1v1h-1zM34 24h1v1h-1zM32 25h1v1h-1zM8 26h1v1h-1zM32 26h1v1h-1zM29 28h3v1h-3zM20 29h1v1h-1zM32 30h1v1h-1zM21 32h1v1h-1zM0 33h1v1h-1zM33 33h2v1h-2zM20 34h1v1h-1zM34 34h1v1h-1zM29 35h3v1h-3z"/><path fill="#414141" d="M17 0h1v1h-1zM15 1h1v1h-1zM3 9h1v1h-1zM5 9h1v1h-1zM13 9h1v1h-1zM3 12h1v1h-1zM13 15h1v1h-1zM12 16h1v1h-1zM24 19h2v1h-2zM29 20h1v1h-1zM10 23h1v1h-1zM30 24h2v1h-2zM8 25h1v1h-1zM34 25h1v1h-1zM8 27h1v1h-1zM28 27h1v1h-1zM34 28h1v1h-1zM32 31h1v1h-1zM32 32h1v1h-1zM34 32h1v1h-1zM11 34h1v1h-1zM12 35h1v1h-1z"/><path fill="#464646" d="M14 0h1v1h-1zM18 0h2v1h-2zM16 1h3v1h-3zM4 6h1v1h-1zM3 7h1v1h-1zM3 8h1v1h-1zM5 8h1v1h-1zM13 8h7v1h-7zM21 10h7v1h-7zM0 13h1v1h-1zM11 17h1v1h-1zM21 18h1v1h-1zM26 19h1v1h-1zM30 20h1v1h-1zM9 24h1v1h-1zM32 24h1v1h-1zM28 25h1v1h-1zM29 27h2v1h-2zM9 29h1v1h-1zM33 29h2v1h-2zM34 31h1v1h-1zM22 32h3v1h-3zM33 32h1v1h-1zM10 33h1v1h-1zM32 35h1v1h-1z"/><path fill="#4b4b4b" d="M20 0h1v1h-1zM14 1h1v1h-1zM19 1h1v1h-1zM3 6h1v1h-1zM5 7h1v1h-1zM12 8h1v1h-1zM12 9h1v1h-1zM5 10h1v1h-1zM13 10h1v1h-1zM20 10h1v1h-1zM20 18h1v1h-1zM22 18h1v1h-1zM31 20h1v1h-1zM10 22h1v1h-1zM29 25h1v1h-1zM28 26h1v1h-1zM31 27h1v1h-1zM21 29h3v1h-3zM0 30h1v1h-1zM34 30h1v1h-1zM33 31h1v1h-1zM25 32h4v1h-4zM20 33h1v1h-1z"/><path fill="#505050" d="M21 0h1v1h-1zM15 2h2v1h-2zM10 5h1v1h-1zM5 6h1v1h-1zM12 7h8v1h-8zM20 9h9v1h-9zM0 11h1v1h-1zM20 11h1v1h-1zM4 12h1v1h-1zM13 14h1v1h-1zM12 15h1v1h-1zM11 16h1v1h-1zM32 20h1v1h-1zM10 21h1v1h-1zM30 25h1v1h-1zM29 26h1v1h-1zM34 27h1v1h-1zM24 29h5v1h-5zM21 30h1v1h-1zM33 30h1v1h-1zM21 31h1v1h-1zM29 32h3v1h-3z"/><path fill="#555" d="M20 1h1v1h-1zM10 4h1v1h-1zM11 5h1v1h-1zM10 6h10v1h-10zM11 7h1v1h-1zM11 8h1v1h-1zM12 10h1v1h-1zM21 11h3v1h-3zM10 20h1v1h-1zM34 20h1v1h-1zM31 25h1v1h-1zM7 26h1v1h-1zM30 26h1v1h-1zM8 28h1v1h-1zM29 29h3v1h-3zM9 30h1v1h-1zM1 32h1v1h-1zM33 35h1v1h-1z"/><path fill="#5a5a5a" d="M13 0h1v1h-1zM22 0h1v1h-1zM14 2h1v1h-1zM17 2h3v1h-3zM1 4h1v1h-1zM9 4h1v1h-1zM3 5h1v1h-1zM9 5h1v1h-1zM14 5h6v1h-6zM11 9h1v1h-1zM5 11h1v1h-1zM13 11h1v1h-1zM24 11h6v1h-6zM21 12h1v1h-1zM12 14h1v1h-1zM11 15h1v1h-1zM10 18h1v1h-1zM23 18h1v1h-1zM10 19h1v1h-1zM27 19h1v1h-1zM33 20h1v1h-1zM9 23h1v1h-1zM31 26h1v1h-1zM20 30h1v1h-1zM22 31h5v1h-5zM1 33h1v1h-1zM10 34h1v1h-1zM11 35h1v1h-1zM34 35h1v1h-1z"/><path fill="#5f5f5f" d="M13 1h1v1h-1zM15 3h5v1h-5zM11 4h1v1h-1zM15 4h5v1h-5zM2 5h1v1h-1zM4 5h2v1h-2zM12 5h2v1h-2zM10 7h1v1h-1zM28 10h1v1h-1zM30 11h4v1h-4zM13 13h1v1h-1zM10 17h1v1h-1zM21 17h1v1h-1zM24 18h1v1h-1zM28 19h1v1h-1zM8 24h1v1h-1zM7 25h1v1h-1zM22 30h5v1h-5zM9 31h1v1h-1zM27 31h5v1h-5zM20 32h1v1h-1zM0 34h1v1h-1z"/><path fill="#646464" d="M12 0h1v1h-1zM23 0h1v1h-1zM21 1h2v1h-2zM1 3h1v1h-1zM9 3h1v1h-1zM14 3h1v1h-1zM2 4h1v1h-1zM8 4h1v1h-1zM14 4h1v1h-1zM6 5h1v1h-1zM6 6h1v1h-1zM6 7h1v1h-1zM6 8h1v1h-1zM10 8h1v1h-1zM6 9h1v1h-1zM29 9h1v1h-1zM11 10h1v1h-1zM29 10h3v1h-3zM12 11h1v1h-1zM34 11h1v1h-1zM13 12h1v1h-1zM20 12h1v1h-1zM22 12h1v1h-1zM11 14h1v1h-1zM10 16h1v1h-1zM20 17h1v1h-1zM29 19h1v1h-1zM7 27h1v1h-1zM27 30h5v1h-5zM1 31h1v1h-1zM20 31h1v1h-1zM9 32h1v1h-1z"/><path fill="#696969" d="M12 1h1v1h-1zM10 3h1v1h-1zM12 4h2v1h-2zM8 5h1v1h-1zM9 6h1v1h-1zM21 8h1v1h-1zM10 9h1v1h-1zM30 9h2v1h-2zM33 9h1v1h-1zM6 10h1v1h-1zM10 10h1v1h-1zM32 10h2v1h-2zM11 11h1v1h-1zM5 12h1v1h-1zM12 12h1v1h-1zM12 13h1v1h-1zM10 15h1v1h-1zM22 17h1v1h-1zM25 18h1v1h-1z"/><path fill="#6e6e6e" d="M13 2h1v1h-1zM11 3h1v1h-1zM1 5h1v1h-1zM7 5h1v1h-1zM2 6h1v1h-1zM20 8h1v1h-1zM22 8h2v1h-2zM32 9h1v1h-1zM0 10h1v1h-1zM6 11h1v1h-1zM10 11h1v1h-1zM2 12h1v1h-1zM11 12h1v1h-1zM3 13h1v1h-1zM11 13h1v1h-1zM0 14h1v1h-1zM10 14h1v1h-1zM21 16h1v1h-1zM26 18h1v1h-1zM30 19h1v1h-1zM9 22h1v1h-1zM34 26h1v1h-1zM0 29h1v1h-1zM8 29h1v1h-1zM10 35h1v1h-1z"/><path fill="#737373" d="M9 2h1v1h-1zM11 2h2v1h-2zM8 3h1v1h-1zM13 3h1v1h-1zM7 4h1v1h-1zM7 6h2v1h-2zM9 7h1v1h-1zM24 8h3v1h-3zM34 10h1v1h-1zM6 12h1v1h-1zM10 12h1v1h-1zM23 12h3v1h-3zM1 13h1v1h-1zM10 13h1v1h-1zM21 13h1v1h-1zM21 15h1v1h-1zM31 19h1v1h-1zM9 33h1v1h-1zM1 34h1v1h-1z"/><path fill="#787878" d="M11 0h1v1h-1zM24 0h3v1h-3zM11 1h1v1h-1zM10 2h1v1h-1zM12 3h1v1h-1zM3 4h1v1h-1zM6 4h1v1h-1zM7 7h2v1h-2zM7 8h3v1h-3zM27 8h4v1h-4zM7 9h3v1h-3zM34 9h1v1h-1zM7 10h3v1h-3zM2 11h1v1h-1zM7 11h3v1h-3zM7 12h3v1h-3zM26 12h4v1h-4zM33 12h1v1h-1zM2 13h1v1h-1zM9 13h1v1h-1zM21 14h1v1h-1zM20 16h1v1h-1zM32 19h1v1h-1zM8 23h1v1h-1zM0 35h1v1h-1z"/><path fill="#7d7d7d" d="M27 0h3v1h-3zM23 1h3v1h-3zM4 4h2v1h-2zM31 8h2v1h-2zM1 12h1v1h-1zM30 12h3v1h-3zM34 12h1v1h-1zM4 13h1v1h-1zM7 13h2v1h-2zM22 13h1v1h-1zM9 14h1v1h-1zM22 16h1v1h-1zM23 17h1v1h-1zM34 19h1v1h-1zM7 24h1v1h-1zM7 28h1v1h-1z"/><path fill="#828282" d="M30 0h3v1h-3zM10 1h1v1h-1zM26 1h5v1h-5zM1 2h1v1h-1zM8 2h1v1h-1zM2 3h1v1h-1zM7 3h1v1h-1zM0 5h1v1h-1zM2 7h1v1h-1zM0 9h1v1h-1zM2 10h1v1h-1zM5 13h2v1h-2zM20 13h1v1h-1zM20 15h1v1h-1zM22 15h1v1h-1zM24 17h1v1h-1zM33 19h1v1h-1zM9 21h1v1h-1zM1 30h1v1h-1zM8 30h1v1h-1z"/><path fill="#878787" d="M10 0h1v1h-1zM9 1h1v1h-1zM31 1h2v1h-2zM0 6h1v1h-1zM21 7h1v1h-1zM33 8h1v1h-1zM8 14h1v1h-1zM22 14h1v1h-1zM25 17h1v1h-1zM6 26h1v1h-1zM9 34h1v1h-1z"/><path fill="#8c8c8c" d="M9 0h1v1h-1zM20 2h1v1h-1zM0 4h1v1h-1zM1 6h1v1h-1zM0 7h1v1h-1zM20 7h1v1h-1zM22 7h1v1h-1zM0 8h1v1h-1zM2 8h1v1h-1zM34 8h1v1h-1zM2 9h1v1h-1zM23 13h5v1h-5zM20 14h1v1h-1zM9 15h1v1h-1zM26 17h1v1h-1zM27 18h2v1h-2zM1 35h1v1h-1z"/><path fill="#919191" d="M33 0h1v1h-1zM21 2h1v1h-1zM20 3h1v1h-1zM23 7h1v1h-1zM28 13h6v1h-6zM1 14h1v1h-1zM7 14h1v1h-1zM23 16h1v1h-1zM29 18h1v1h-1zM0 22h1v1h-1zM8 22h1v1h-1zM8 31h1v1h-1z"/><path fill="#969696" d="M0 0h2v1h-2zM0 1h1v1h-1zM8 1h1v1h-1zM7 2h1v1h-1zM0 3h1v1h-1zM3 3h1v1h-1zM6 3h1v1h-1zM24 7h4v1h-4zM1 11h1v1h-1zM34 13h1v1h-1zM2 14h2v1h-2zM23 14h4v1h-4zM23 15h1v1h-1zM9 16h1v1h-1zM24 16h2v1h-2zM30 18h2v1h-2zM9 20h1v1h-1zM0 21h1v1h-1zM0 23h1v1h-1zM6 25h1v1h-1zM6 27h1v1h-1zM0 28h1v1h-1z"/><path fill="#9b9b9b" d="M34 0h1v1h-1zM33 1h1v1h-1zM22 2h1v1h-1zM20 4h1v1h-1zM21 6h1v1h-1zM28 7h4v1h-4zM6 14h1v1h-1zM24 15h2v1h-2zM26 16h1v1h-1zM9 17h1v1h-1zM32 18h1v1h-1zM34 18h1v1h-1zM7 29h1v1h-1zM8 32h1v1h-1zM9 35h1v1h-1z"/><path fill="#a0a0a0" d="M8 0h1v1h-1zM0 2h1v1h-1zM4 3h2v1h-2zM21 3h1v1h-1zM20 5h2v1h-2zM20 6h1v1h-1zM32 7h1v1h-1zM4 14h2v1h-2zM0 15h1v1h-1zM8 15h1v1h-1zM26 15h1v1h-1zM9 18h1v1h-1zM33 18h1v1h-1zM9 19h1v1h-1zM0 20h1v1h-1zM7 23h1v1h-1z"/><path fill="#a5a5a5" d="M1 1h1v1h-1zM34 1h1v1h-1zM2 2h1v1h-1zM23 2h6v1h-6zM22 3h1v1h-1zM21 4h1v1h-1zM22 5h1v1h-1zM22 6h1v1h-1zM33 7h2v1h-2zM27 14h8v1h-8zM27 17h3v1h-3zM0 24h1v1h-1z"/><path fill="#aaa" d="M29 2h4v1h-4zM22 4h1v1h-1zM1 7h1v1h-1zM1 10h1v1h-1zM27 15h1v1h-1zM30 17h3v1h-3zM34 17h1v1h-1zM1 29h1v1h-1zM8 33h1v1h-1z"/><path fill="#afafaf" d="M7 1h1v1h-1zM23 3h2v1h-2zM23 6h2v1h-2zM7 15h1v1h-1zM28 15h3v1h-3zM33 15h2v1h-2zM27 16h2v1h-2zM34 16h1v1h-1zM33 17h1v1h-1zM8 21h1v1h-1zM6 28h1v1h-1zM2 31h1v1h-1zM2 32h1v1h-1z"/><path fill="#b4b4b4" d="M6 2h1v1h-1zM25 3h4v1h-4zM25 6h4v1h-4zM1 9h1v1h-1zM31 15h2v1h-2zM29 16h3v1h-3zM33 16h1v1h-1zM0 19h1v1h-1zM6 24h1v1h-1zM0 27h1v1h-1zM7 30h1v1h-1z"/><path fill="#b9b9b9" d="M3 2h1v1h-1zM33 2h1v1h-1zM29 3h4v1h-4zM23 4h2v1h-2zM23 5h2v1h-2zM29 6h5v1h-5zM1 8h1v1h-1zM6 15h1v1h-1zM0 16h1v1h-1zM8 16h1v1h-1zM32 16h1v1h-1zM0 25h1v1h-1zM2 33h1v1h-1z"/><path fill="#bebebe" d="M7 0h1v1h-1zM25 4h2v1h-2zM25 5h2v1h-2zM1 15h1v1h-1zM0 18h1v1h-1zM0 26h1v1h-1zM5 26h1v1h-1zM2 30h1v1h-1zM8 34h1v1h-1z"/><path fill="#c3c3c3" d="M27 4h3v1h-3zM27 5h2v1h-2zM34 6h1v1h-1zM2 15h4v1h-4zM0 17h1v1h-1zM8 17h1v1h-1zM7 22h1v1h-1z"/><path fill="#c8c8c8" d="M2 0h1v1h-1zM2 1h1v1h-1zM4 2h2v1h-2zM34 2h1v1h-1zM33 3h1v1h-1zM30 4h2v1h-2zM29 5h5v1h-5zM7 16h1v1h-1zM8 18h1v1h-1zM8 20h1v1h-1zM5 27h1v1h-1zM7 31h1v1h-1zM2 34h1v1h-1zM8 35h1v1h-1z"/><path fill="#cdcdcd" d="M32 4h1v1h-1zM8 19h1v1h-1zM6 29h1v1h-1z"/><path fill="#d2d2d2" d="M33 4h1v1h-1zM34 5h1v1h-1zM6 16h1v1h-1zM1 22h1v1h-1zM1 28h1v1h-1zM7 32h1v1h-1zM2 35h1v1h-1z"/><path fill="#d7d7d7" d="M6 1h1v1h-1zM34 3h1v1h-1zM1 16h1v1h-1zM5 16h1v1h-1zM7 17h1v1h-1zM1 21h1v1h-1zM1 23h1v1h-1zM6 23h1v1h-1zM5 25h1v1h-1zM2 29h1v1h-1z"/><path fill="#dcdcdc" d="M4 27h1v1h-1zM5 28h1v1h-1z"/><path fill="#e1e1e1" d="M6 0h1v1h-1zM3 1h1v1h-1zM34 4h1v1h-1zM2 16h3v1h-3zM6 17h1v1h-1zM7 18h1v1h-1zM1 20h1v1h-1zM7 21h1v1h-1zM1 24h1v1h-1zM4 26h1v1h-1zM7 33h1v1h-1z"/><path fill="#e6e6e6" d="M3 0h1v1h-1zM6 30h1v1h-1z"/><path fill="#ebebeb" d="M1 17h1v1h-1zM5 17h1v1h-1zM1 19h1v1h-1zM7 19h1v1h-1zM5 24h1v1h-1zM1 25h1v1h-1zM1 27h1v1h-1zM2 28h1v1h-1zM4 28h1v1h-1zM7 34h1v1h-1z"/><path fill="#f0f0f0" d="M1 18h1v1h-1zM6 18h1v1h-1zM7 20h1v1h-1zM6 22h1v1h-1zM1 26h1v1h-1zM3 27h1v1h-1zM3 28h1v1h-1zM5 29h1v1h-1zM3 31h1v1h-1zM7 35h1v1h-1z"/><path fill="#f5f5f5" d="M4 1h2v1h-2zM4 17h1v1h-1zM4 25h1v1h-1zM3 29h1v1h-1zM3 30h1v1h-1zM3 32h1v1h-1z"/><path fill="#fafafa" d="M4 0h2v1h-2zM2 17h2v1h-2zM5 18h1v1h-1zM6 19h1v1h-1zM5 23h1v1h-1zM3 26h1v1h-1zM2 27h1v1h-1zM4 29h1v1h-1zM3 33h1v1h-1z"/><path fill="#fff" d="M2 18h3v1h-3zM2 19h4v1h-4zM2 20h5v1h-5zM2 21h5v1h-5zM2 22h4v1h-4zM2 23h3v1h-3zM2 24h3v1h-3zM2 25h2v1h-2zM2 26h1v1h-1zM4 30h2v1h-2zM4 31h3v1h-3zM4 32h3v1h-3zM4 33h3v1h-3zM3 34h4v1h-4zM3 35h4v1h-4z"/></g></g>
<rect x="583.25" y="1058.25" width="345.5" height="352.5" fill="none" stroke="#000" stroke-width="2"/>
<rect x="670.02" y="1144.06" width="15.4" height="15.2" fill="#0000ff"/>
<line x1="575.25" y1="1063.15" x2="583.25" y2="1063.15" stroke="#000" stroke-width="1.6"/>
<text transform="translate(569.25 1072.05) scale(1.04 1)" font-size="23" font-family="'DejaVu Sans','Liberation Sans',sans-serif" text-anchor="end" fill="#262626">0</text>
<line x1="575.25" y1="1239.4" x2="583.25" y2="1239.4" stroke="#000" stroke-width="1.6"/>
<text transform="translate(567.65 1250) scale(0.93 1)" font-size="23" font-family="'DejaVu Sans','Liberation Sans',sans-serif" text-anchor="end" fill="#262626">180</text>
<line x1="575.25" y1="1405.85" x2="583.25" y2="1405.85" stroke="#000" stroke-width="1.6"/>
<text transform="translate(564.95 1416.45) scale(0.93 1)" font-size="23" font-family="'DejaVu Sans','Liberation Sans',sans-serif" text-anchor="end" fill="#262626">350</text>
<line x1="588.19" y1="1410.75" x2="588.19" y2="1419.25" stroke="#000" stroke-width="1.6"/>
<text transform="translate(587.69 1446.5) scale(0.93 1)" font-size="23" font-family="'DejaVu Sans','Liberation Sans',sans-serif" text-anchor="middle" fill="#262626">270</text>
<line x1="923.81" y1="1410.75" x2="923.81" y2="1419.25" stroke="#000" stroke-width="1.6"/>
<text transform="translate(923.31 1445.7) scale(0.93 1)" font-size="23" font-family="'DejaVu Sans','Liberation Sans',sans-serif" text-anchor="middle" fill="#262626">780</text>
<text x="649" y="1451.4" font-size="27" font-family="'Liberation Sans',sans-serif" textLength="209.94" lengthAdjust="spacingAndGlyphs">Wavelength (nm)</text>
<text x="722.5" y="1036.75" font-size="27" font-family="'DejaVu Serif','Liberation Serif',serif" textLength="51.5" lengthAdjust="spacingAndGlyphs"><tspan font-style="italic">σ</tspan><tspan font-style="italic" font-size="19" dy="6">PSG</tspan></text>
<rect x="657.9" y="1475.65" width="185.45" height="18.2" fill="url(#gb)" stroke="#000" stroke-width="3.8"/>
<text x="634" y="1493.9" font-size="27.3" font-family="'Liberation Sans',sans-serif" textLength="13.53" lengthAdjust="spacingAndGlyphs">0</text>
<text x="859" y="1493.9" font-size="27.3" font-family="'Liberation Sans',sans-serif" textLength="50.03" lengthAdjust="spacingAndGlyphs">0.01</text>
<text x="723.5" y="1526.25" font-size="27" font-family="'Liberation Sans',sans-serif" textLength="60.5" lengthAdjust="spacingAndGlyphs"><tspan font-style="italic" font-family="'DejaVu Serif','Liberation Serif',serif">σ</tspan> RT</text>
<g filter="url(#soft)"><g transform="translate(1134.25 1058.25) scale(9.8714 9.7917)" shape-rendering="crispEdges"><path fill="#000" d="M1 0h3v1h-3zM1 1h2v1h-2zM1 16h1v1h-1zM1 17h3v1h-3zM1 18h2v1h-2zM1 34h2v1h-2zM1 35h3v1h-3z"/><path fill="#050505" d="M2 16h1v1h-1zM3 18h1v1h-1zM1 19h1v1h-1z"/><path fill="#0a0a0a" d="M3 1h1v1h-1zM2 19h1v1h-1zM3 34h1v1h-1z"/><path fill="#0f0f0f" d="M4 0h1v1h-1zM3 16h1v1h-1zM1 33h1v1h-1zM4 35h1v1h-1z"/><path fill="#141414" d="M1 2h1v1h-1zM4 17h1v1h-1zM4 18h1v1h-1zM3 19h1v1h-1zM2 33h1v1h-1z"/><path fill="#191919" d="M4 1h1v1h-1zM2 2h1v1h-1zM4 34h1v1h-1z"/><path fill="#1e1e1e" d="M1 15h1v1h-1zM4 16h1v1h-1zM3 33h1v1h-1z"/><path fill="#232323" d="M0 0h1v1h-1zM5 0h1v1h-1zM3 2h1v1h-1zM2 15h1v1h-1zM0 17h1v1h-1zM5 17h1v1h-1zM0 18h1v1h-1zM5 18h1v1h-1zM4 19h1v1h-1zM0 35h1v1h-1zM5 35h1v1h-1z"/><path fill="#282828" d="M0 1h1v1h-1zM5 1h1v1h-1zM1 20h1v1h-1zM0 34h1v1h-1zM5 34h1v1h-1z"/><path fill="#2d2d2d" d="M3 15h1v1h-1zM0 16h1v1h-1zM5 16h1v1h-1zM2 20h1v1h-1zM4 33h1v1h-1z"/><path fill="#323232" d="M6 0h1v1h-1zM4 2h1v1h-1zM6 17h1v1h-1zM6 18h1v1h-1zM0 19h1v1h-1zM5 19h1v1h-1zM6 35h1v1h-1z"/><path fill="#373737" d="M6 1h1v1h-1zM4 15h1v1h-1zM3 20h1v1h-1zM1 32h1v1h-1zM0 33h1v1h-1zM5 33h1v1h-1zM6 34h1v1h-1z"/><path fill="#3c3c3c" d="M0 2h1v1h-1zM5 2h1v1h-1zM6 16h1v1h-1zM6 19h1v1h-1zM2 32h1v1h-1z"/><path fill="#414141" d="M1 3h1v1h-1zM4 20h1v1h-1zM3 32h1v1h-1z"/><path fill="#464646" d="M6 2h1v1h-1zM2 3h1v1h-1zM0 15h1v1h-1zM5 15h1v1h-1zM6 33h1v1h-1z"/><path fill="#4b4b4b" d="M3 3h1v1h-1zM0 20h1v1h-1zM5 20h1v1h-1zM4 32h1v1h-1z"/><path fill="#505050" d="M4 3h1v1h-1zM1 14h2v1h-2zM6 15h1v1h-1zM0 32h1v1h-1zM5 32h1v1h-1z"/><path fill="#555" d="M6 20h1v1h-1z"/><path fill="#5a5a5a" d="M0 3h1v1h-1zM5 3h1v1h-1zM13 9h6v1h-6zM3 14h1v1h-1zM1 21h2v1h-2zM13 27h6v1h-6zM6 32h1v1h-1z"/><path fill="#5f5f5f" d="M7 0h1v1h-1zM7 1h1v1h-1zM6 3h1v1h-1zM13 8h6v1h-6zM19 9h3v1h-3zM13 10h9v1h-9zM4 14h1v1h-1zM7 17h1v1h-1zM7 18h1v1h-1zM3 21h1v1h-1zM13 26h9v1h-9zM19 27h3v1h-3zM13 28h6v1h-6zM7 34h1v1h-1zM7 35h1v1h-1z"/><path fill="#646464" d="M12 8h1v1h-1zM19 8h3v1h-3zM12 9h1v1h-1zM12 10h1v1h-1zM13 11h6v1h-6zM0 14h1v1h-1zM5 14h1v1h-1zM7 16h1v1h-1zM7 19h1v1h-1zM4 21h1v1h-1zM13 25h6v1h-6zM12 26h1v1h-1zM12 27h1v1h-1zM12 28h1v1h-1zM19 28h3v1h-3z"/><path fill="#696969" d="M7 2h1v1h-1zM13 7h9v1h-9zM22 8h3v1h-3zM22 9h3v1h-3zM22 10h3v1h-3zM12 11h1v1h-1zM19 11h3v1h-3zM6 14h1v1h-1zM0 21h1v1h-1zM5 21h1v1h-1zM12 25h1v1h-1zM19 25h3v1h-3zM22 26h3v1h-3zM22 27h3v1h-3zM22 28h3v1h-3zM13 29h9v1h-9zM1 31h1v1h-1zM7 33h1v1h-1z"/><path fill="#6e6e6e" d="M12 7h1v1h-1zM22 7h3v1h-3zM11 8h1v1h-1zM11 9h1v1h-1zM25 9h2v1h-2zM11 10h1v1h-1zM25 10h2v1h-2zM22 11h3v1h-3zM13 12h6v1h-6zM7 15h1v1h-1zM7 20h1v1h-1zM6 21h1v1h-1zM13 24h6v1h-6zM22 25h3v1h-3zM11 26h1v1h-1zM25 26h2v1h-2zM11 27h1v1h-1zM25 27h2v1h-2zM11 28h1v1h-1zM12 29h1v1h-1zM22 29h3v1h-3zM2 31h2v1h-2z"/><path fill="#737373" d="M7 3h1v1h-1zM13 6h9v1h-9zM11 7h1v1h-1zM25 7h2v1h-2zM25 8h2v1h-2zM11 11h1v1h-1zM25 11h2v1h-2zM12 12h1v1h-1zM19 12h6v1h-6zM12 24h1v1h-1zM19 24h6v1h-6zM11 25h1v1h-1zM25 25h2v1h-2zM25 28h2v1h-2zM11 29h1v1h-1zM25 29h2v1h-2zM13 30h9v1h-9zM0 31h1v1h-1zM4 31h2v1h-2zM7 32h1v1h-1z"/><path fill="#787878" d="M1 4h4v1h-4zM11 6h2v1h-2zM22 6h3v1h-3zM10 8h1v1h-1zM27 8h2v1h-2zM10 9h1v1h-1zM27 9h2v1h-2zM10 10h1v1h-1zM27 10h2v1h-2zM27 11h2v1h-2zM11 12h1v1h-1zM25 12h2v1h-2zM7 14h1v1h-1zM11 24h1v1h-1zM25 24h2v1h-2zM27 25h2v1h-2zM10 26h1v1h-1zM27 26h2v1h-2zM10 27h1v1h-1zM27 27h2v1h-2zM10 28h1v1h-1zM27 28h2v1h-2zM11 30h2v1h-2zM22 30h3v1h-3zM6 31h1v1h-1z"/><path fill="#7d7d7d" d="M8 0h1v1h-1zM8 1h1v1h-1zM0 4h1v1h-1zM5 4h2v1h-2zM25 6h4v1h-4zM10 7h1v1h-1zM27 7h4v1h-4zM29 8h2v1h-2zM29 9h2v1h-2zM29 10h2v1h-2zM10 11h1v1h-1zM29 11h2v1h-2zM10 12h1v1h-1zM27 12h2v1h-2zM12 13h13v1h-13zM8 17h1v1h-1zM8 18h1v1h-1zM7 21h1v1h-1zM12 23h13v1h-13zM10 24h1v1h-1zM27 24h2v1h-2zM10 25h1v1h-1zM29 25h2v1h-2zM29 26h2v1h-2zM29 27h2v1h-2zM29 28h2v1h-2zM10 29h1v1h-1zM27 29h4v1h-4zM25 30h4v1h-4zM7 31h1v1h-1zM8 34h1v1h-1zM8 35h1v1h-1z"/><path fill="#828282" d="M8 2h1v1h-1zM8 3h1v1h-1zM7 4h2v1h-2zM10 5h21v1h-21zM10 6h1v1h-1zM29 6h3v1h-3zM31 7h1v1h-1zM31 8h1v1h-1zM31 9h1v1h-1zM31 10h1v1h-1zM31 11h1v1h-1zM29 12h3v1h-3zM8 13h1v1h-1zM10 13h2v1h-2zM25 13h7v1h-7zM8 14h1v1h-1zM8 15h1v1h-1zM8 16h1v1h-1zM8 19h1v1h-1zM8 20h1v1h-1zM8 21h1v1h-1zM8 22h1v1h-1zM10 23h2v1h-2zM25 23h7v1h-7zM29 24h3v1h-3zM31 25h1v1h-1zM31 26h1v1h-1zM31 27h1v1h-1zM31 28h1v1h-1zM31 29h1v1h-1zM10 30h1v1h-1zM29 30h3v1h-3zM8 31h1v1h-1zM10 31h21v1h-21zM8 32h1v1h-1zM8 33h1v1h-1z"/><path fill="#878787" d="M31 0h4v1h-4zM31 1h4v1h-4zM31 2h4v1h-4zM31 3h4v1h-4zM10 4h1v1h-1zM27 4h8v1h-8zM8 5h1v1h-1zM31 5h4v1h-4zM8 6h1v1h-1zM32 6h3v1h-3zM8 7h1v1h-1zM32 7h3v1h-3zM8 8h1v1h-1zM32 8h3v1h-3zM8 9h1v1h-1zM32 9h3v1h-3zM8 10h1v1h-1zM32 10h3v1h-3zM8 11h1v1h-1zM32 11h3v1h-3zM8 12h1v1h-1zM32 12h3v1h-3zM0 13h8v1h-8zM32 13h3v1h-3zM10 14h2v1h-2zM25 14h10v1h-10zM29 15h6v1h-6zM31 16h4v1h-4zM31 17h4v1h-4zM31 18h4v1h-4zM31 19h4v1h-4zM31 20h4v1h-4zM29 21h6v1h-6zM7 22h1v1h-1zM10 22h2v1h-2zM25 22h10v1h-10zM8 23h1v1h-1zM32 23h3v1h-3zM8 24h1v1h-1zM32 24h3v1h-3zM8 25h1v1h-1zM32 25h3v1h-3zM8 26h1v1h-1zM32 26h3v1h-3zM8 27h1v1h-1zM32 27h3v1h-3zM8 28h1v1h-1zM32 28h3v1h-3zM8 29h1v1h-1zM32 29h3v1h-3zM8 30h1v1h-1zM32 30h3v1h-3zM31 31h4v1h-4zM10 32h1v1h-1zM27 32h8v1h-8zM31 33h4v1h-4zM31 34h4v1h-4zM31 35h4v1h-4z"/><path fill="#8c8c8c" d="M9 0h1v1h-1zM29 0h2v1h-2zM9 1h1v1h-1zM29 1h2v1h-2zM9 2h1v1h-1zM29 2h2v1h-2zM9 3h2v1h-2zM27 3h4v1h-4zM9 4h1v1h-1zM11 4h2v1h-2zM22 4h5v1h-5zM9 5h1v1h-1zM9 6h1v1h-1zM9 7h1v1h-1zM9 8h1v1h-1zM9 9h1v1h-1zM9 10h1v1h-1zM9 11h1v1h-1zM9 12h1v1h-1zM9 13h1v1h-1zM9 14h1v1h-1zM12 14h13v1h-13zM9 15h2v1h-2zM27 15h2v1h-2zM9 16h2v1h-2zM29 16h2v1h-2zM9 17h1v1h-1zM29 17h2v1h-2zM9 18h1v1h-1zM29 18h2v1h-2zM9 19h1v1h-1zM29 19h2v1h-2zM9 20h2v1h-2zM29 20h2v1h-2zM9 21h2v1h-2zM27 21h2v1h-2zM0 22h1v1h-1zM4 22h3v1h-3zM9 22h1v1h-1zM12 22h13v1h-13zM9 23h1v1h-1zM9 24h1v1h-1zM9 25h1v1h-1zM9 26h1v1h-1zM9 27h1v1h-1zM9 28h1v1h-1zM9 29h1v1h-1zM7 30h1v1h-1zM9 30h1v1h-1zM9 31h1v1h-1zM9 32h1v1h-1zM11 32h2v1h-2zM22 32h5v1h-5zM9 33h2v1h-2zM27 33h4v1h-4zM9 34h1v1h-1zM29 34h2v1h-2zM9 35h1v1h-1zM29 35h2v1h-2z"/><path fill="#919191" d="M10 0h1v1h-1zM27 0h2v1h-2zM10 1h1v1h-1zM27 1h2v1h-2zM10 2h1v1h-1zM27 2h2v1h-2zM11 3h1v1h-1zM25 3h2v1h-2zM13 4h9v1h-9zM7 5h1v1h-1zM11 15h1v1h-1zM25 15h2v1h-2zM27 16h2v1h-2zM10 17h1v1h-1zM27 17h2v1h-2zM10 18h1v1h-1zM27 18h2v1h-2zM10 19h1v1h-1zM27 19h2v1h-2zM27 20h2v1h-2zM11 21h1v1h-1zM25 21h2v1h-2zM1 22h3v1h-3zM13 32h9v1h-9zM11 33h1v1h-1zM25 33h2v1h-2zM10 34h1v1h-1zM27 34h2v1h-2zM10 35h1v1h-1zM27 35h2v1h-2z"/><path fill="#969696" d="M25 2h2v1h-2zM22 3h3v1h-3zM7 12h1v1h-1zM12 15h1v1h-1zM19 15h6v1h-6zM11 16h1v1h-1zM25 16h2v1h-2zM11 20h1v1h-1zM25 20h2v1h-2zM12 21h1v1h-1zM19 21h6v1h-6zM7 23h1v1h-1zM0 30h1v1h-1zM5 30h2v1h-2zM22 33h3v1h-3zM25 34h2v1h-2z"/><path fill="#9b9b9b" d="M25 0h2v1h-2zM11 1h1v1h-1zM25 1h2v1h-2zM11 2h1v1h-1zM12 3h10v1h-10zM6 5h1v1h-1zM7 6h1v1h-1zM13 15h6v1h-6zM22 16h3v1h-3zM11 17h1v1h-1zM25 17h2v1h-2zM25 18h2v1h-2zM11 19h1v1h-1zM25 19h2v1h-2zM22 20h3v1h-3zM13 21h6v1h-6zM7 29h1v1h-1zM4 30h1v1h-1zM12 33h10v1h-10zM11 34h1v1h-1zM11 35h1v1h-1zM25 35h2v1h-2z"/><path fill="#a0a0a0" d="M11 0h1v1h-1zM22 1h3v1h-3zM12 2h1v1h-1zM22 2h3v1h-3zM0 5h1v1h-1zM5 5h1v1h-1zM7 11h1v1h-1zM12 16h1v1h-1zM19 16h3v1h-3zM22 17h3v1h-3zM11 18h1v1h-1zM22 19h3v1h-3zM12 20h1v1h-1zM19 20h3v1h-3zM1 30h3v1h-3zM12 34h1v1h-1zM22 34h3v1h-3zM22 35h3v1h-3z"/><path fill="#a5a5a5" d="M22 0h3v1h-3zM12 1h1v1h-1zM19 2h3v1h-3zM3 5h2v1h-2zM7 7h1v1h-1zM6 12h1v1h-1zM13 16h6v1h-6zM12 17h1v1h-1zM22 18h3v1h-3zM12 19h1v1h-1zM13 20h6v1h-6zM7 24h1v1h-1zM7 28h1v1h-1zM19 34h3v1h-3zM12 35h1v1h-1z"/><path fill="#aaa" d="M12 0h1v1h-1zM19 0h3v1h-3zM19 1h3v1h-3zM13 2h6v1h-6zM2 5h1v1h-1zM7 10h1v1h-1zM0 12h1v1h-1zM5 12h1v1h-1zM13 17h9v1h-9zM12 18h1v1h-1zM19 18h3v1h-3zM13 19h9v1h-9zM6 23h1v1h-1zM7 25h1v1h-1zM7 27h1v1h-1zM13 34h6v1h-6zM19 35h3v1h-3z"/><path fill="#afafaf" d="M13 0h6v1h-6zM13 1h6v1h-6zM1 5h1v1h-1zM7 8h1v1h-1zM7 9h1v1h-1zM4 12h1v1h-1zM13 18h6v1h-6zM0 23h1v1h-1zM5 23h1v1h-1zM7 26h1v1h-1zM6 29h1v1h-1zM13 35h6v1h-6z"/><path fill="#b4b4b4" d="M6 6h1v1h-1zM3 12h1v1h-1zM4 23h1v1h-1z"/><path fill="#b9b9b9" d="M2 12h1v1h-1zM0 29h1v1h-1zM5 29h1v1h-1z"/><path fill="#bebebe" d="M0 6h1v1h-1zM5 6h1v1h-1zM6 11h1v1h-1zM1 12h1v1h-1zM3 23h1v1h-1z"/><path fill="#c3c3c3" d="M2 23h1v1h-1zM6 24h1v1h-1zM4 29h1v1h-1z"/><path fill="#c8c8c8" d="M4 6h1v1h-1zM0 11h1v1h-1zM5 11h1v1h-1zM1 23h1v1h-1zM6 28h1v1h-1zM3 29h1v1h-1z"/><path fill="#cdcdcd" d="M6 7h1v1h-1zM6 10h1v1h-1zM0 24h1v1h-1zM5 24h1v1h-1z"/><path fill="#d2d2d2" d="M3 6h1v1h-1zM4 11h1v1h-1zM6 25h1v1h-1zM0 28h1v1h-1zM5 28h1v1h-1zM2 29h1v1h-1z"/><path fill="#d7d7d7" d="M0 7h1v1h-1zM5 7h1v1h-1zM6 8h1v1h-1zM6 9h1v1h-1zM4 24h1v1h-1zM6 26h1v1h-1zM6 27h1v1h-1zM1 29h1v1h-1z"/><path fill="#dcdcdc" d="M2 6h1v1h-1zM0 10h1v1h-1zM5 10h1v1h-1zM3 11h1v1h-1z"/><path fill="#e1e1e1" d="M1 6h1v1h-1zM0 25h1v1h-1zM5 25h1v1h-1zM4 28h1v1h-1z"/><path fill="#e6e6e6" d="M4 7h1v1h-1zM0 8h1v1h-1zM5 8h1v1h-1zM0 9h1v1h-1zM5 9h1v1h-1zM2 11h1v1h-1zM3 24h1v1h-1zM0 27h1v1h-1zM5 27h1v1h-1z"/><path fill="#ebebeb" d="M4 10h1v1h-1zM1 11h1v1h-1zM0 26h1v1h-1zM5 26h1v1h-1zM3 28h1v1h-1z"/><path fill="#f0f0f0" d="M2 24h1v1h-1zM4 25h1v1h-1z"/><path fill="#f5f5f5" d="M3 7h1v1h-1zM4 8h1v1h-1zM1 24h1v1h-1zM4 27h1v1h-1z"/><path fill="#fafafa" d="M4 9h1v1h-1zM3 10h1v1h-1zM4 26h1v1h-1zM2 28h1v1h-1z"/><path fill="#fff" d="M1 7h2v1h-2zM1 8h3v1h-3zM1 9h3v1h-3zM1 10h2v1h-2zM1 25h3v1h-3zM1 26h3v1h-3zM1 27h3v1h-3zM1 28h1v1h-1z"/></g></g>
<rect x="1134.25" y="1058.25" width="345.5" height="352.5" fill="none" stroke="#000" stroke-width="2"/>
<rect x="1221.02" y="1144.06" width="15.4" height="15.2" fill="#ff0000"/>
<line x1="1126.25" y1="1063.15" x2="1134.25" y2="1063.15" stroke="#000" stroke-width="1.6"/>
<text transform="translate(1120.25 1072.05) scale(1.04 1)" font-size="23" font-family="'DejaVu Sans','Liberation Sans',sans-serif" text-anchor="end" fill="#262626">0</text>
<line x1="1126.25" y1="1239.4" x2="1134.25" y2="1239.4" stroke="#000" stroke-width="1.6"/>
<text transform="translate(1118.65 1250) scale(0.93 1)" font-size="23" font-family="'DejaVu Sans','Liberation Sans',sans-serif" text-anchor="end" fill="#262626">180</text>
<line x1="1126.25" y1="1405.85" x2="1134.25" y2="1405.85" stroke="#000" stroke-width="1.6"/>
<text transform="translate(1115.95 1416.45) scale(0.93 1)" font-size="23" font-family="'DejaVu Sans','Liberation Sans',sans-serif" text-anchor="end" fill="#262626">350</text>
<line x1="1139.19" y1="1410.75" x2="1139.19" y2="1419.25" stroke="#000" stroke-width="1.6"/>
<text transform="translate(1138.69 1446.5) scale(0.93 1)" font-size="23" font-family="'DejaVu Sans','Liberation Sans',sans-serif" text-anchor="middle" fill="#262626">270</text>
<line x1="1474.81" y1="1410.75" x2="1474.81" y2="1419.25" stroke="#000" stroke-width="1.6"/>
<text transform="translate(1474.31 1445.7) scale(0.93 1)" font-size="23" font-family="'DejaVu Sans','Liberation Sans',sans-serif" text-anchor="middle" fill="#262626">780</text>
<text x="1203.5" y="1451.4" font-size="27" font-family="'Liberation Sans',sans-serif" textLength="209.94" lengthAdjust="spacingAndGlyphs">Wavelength (nm)</text>
<text transform="translate(1053.65 1239.5) rotate(-90)" font-size="28.6" font-family="'Liberation Sans',sans-serif" text-anchor="middle" textLength="207" lengthAdjust="spacingAndGlyphs">PSA angle (deg)</text>
<text x="1275" y="1036.75" font-size="27" font-family="'DejaVu Serif','Liberation Serif',serif" textLength="51.5" lengthAdjust="spacingAndGlyphs"><tspan font-style="italic">μ</tspan><tspan font-style="italic" font-size="19" dy="6">PSA</tspan></text>
<rect x="1215.9" y="1475.65" width="185.45" height="18.2" fill="url(#gb)" stroke="#000" stroke-width="3.8"/>
<text x="1149" y="1493.9" font-size="27.3" font-family="'Liberation Sans',sans-serif" textLength="52.53" lengthAdjust="spacingAndGlyphs">0.55</text>
<text x="1414" y="1493.9" font-size="27.3" font-family="'Liberation Sans',sans-serif" textLength="51.03" lengthAdjust="spacingAndGlyphs">1.44</text>
<text x="1280" y="1526.25" font-size="27" font-family="'Liberation Sans',sans-serif" textLength="60" lengthAdjust="spacingAndGlyphs"><tspan font-style="italic" font-family="'DejaVu Serif','Liberation Serif',serif">μ</tspan> RT</text>
<g filter="url(#soft)"><g transform="translate(1584.6 1058.25) scale(9.8714 9.7917)" shape-rendering="crispEdges"><path fill="#050505" d="M8 0h20v1h-20zM33 0h1v1h-1zM9 1h4v1h-4zM16 1h12v1h-12zM33 1h1v1h-1zM9 2h2v1h-2zM18 2h10v1h-10zM33 2h1v1h-1zM10 3h1v1h-1zM18 3h10v1h-10zM33 3h1v1h-1zM19 4h9v1h-9zM33 4h1v1h-1zM19 5h9v1h-9zM33 5h2v1h-2zM9 6h2v1h-2zM18 6h10v1h-10zM33 6h1v1h-1zM9 7h2v1h-2zM18 7h10v1h-10zM33 7h1v1h-1zM8 8h5v1h-5zM16 8h12v1h-12zM33 8h1v1h-1zM9 9h20v1h-20zM32 9h2v1h-2zM9 10h20v1h-20zM32 10h2v1h-2zM9 11h19v1h-19zM33 11h1v1h-1zM10 12h18v1h-18zM33 12h2v1h-2zM10 13h18v1h-18zM33 13h1v1h-1zM10 14h18v1h-18zM33 14h1v1h-1zM9 15h19v1h-19zM33 15h1v1h-1zM9 16h19v1h-19zM33 16h1v1h-1zM8 17h20v1h-20zM33 17h1v1h-1zM8 18h20v1h-20zM33 18h1v1h-1zM9 19h19v1h-19zM33 19h2v1h-2zM9 20h19v1h-19zM33 20h1v1h-1zM9 21h20v1h-20zM32 21h2v1h-2zM10 22h19v1h-19zM32 22h2v1h-2zM9 23h20v1h-20zM32 23h2v1h-2zM9 24h19v1h-19zM33 24h1v1h-1zM9 25h19v1h-19zM33 25h1v1h-1zM8 26h20v1h-20zM33 26h2v1h-2zM8 27h20v1h-20zM33 27h1v1h-1zM9 28h4v1h-4zM18 28h10v1h-10zM33 28h1v1h-1zM9 29h3v1h-3zM19 29h9v1h-9zM33 29h1v1h-1zM10 30h1v1h-1zM20 30h8v1h-8zM33 30h1v1h-1zM10 31h1v1h-1zM20 31h8v1h-8zM33 31h1v1h-1zM9 32h2v1h-2zM20 32h8v1h-8zM33 32h1v1h-1zM9 33h3v1h-3zM19 33h9v1h-9zM33 33h2v1h-2zM9 34h4v1h-4zM18 34h11v1h-11zM32 34h2v1h-2zM8 35h21v1h-21zM32 35h2v1h-2z"/><path fill="#0a0a0a" d="M28 0h1v1h-1zM32 0h1v1h-1zM13 1h3v1h-3zM28 1h1v1h-1zM32 1h1v1h-1zM11 2h7v1h-7zM28 2h1v1h-1zM32 2h1v1h-1zM9 3h1v1h-1zM11 3h1v1h-1zM17 3h1v1h-1zM28 3h1v1h-1zM32 3h1v1h-1zM9 4h3v1h-3zM17 4h2v1h-2zM28 4h1v1h-1zM32 4h1v1h-1zM9 5h3v1h-3zM17 5h2v1h-2zM28 5h1v1h-1zM32 5h1v1h-1zM11 6h1v1h-1zM17 6h1v1h-1zM28 6h1v1h-1zM32 6h1v1h-1zM34 6h1v1h-1zM11 7h7v1h-7zM28 7h1v1h-1zM32 7h1v1h-1zM13 8h3v1h-3zM28 8h2v1h-2zM31 8h2v1h-2zM8 9h1v1h-1zM29 9h3v1h-3zM29 10h3v1h-3zM28 11h2v1h-2zM31 11h2v1h-2zM9 12h1v1h-1zM28 12h1v1h-1zM32 12h1v1h-1zM9 13h1v1h-1zM28 13h1v1h-1zM32 13h1v1h-1zM34 13h1v1h-1zM9 14h1v1h-1zM28 14h1v1h-1zM32 14h1v1h-1zM28 15h1v1h-1zM32 15h1v1h-1zM28 16h1v1h-1zM32 16h1v1h-1zM28 17h1v1h-1zM32 17h1v1h-1zM28 18h1v1h-1zM32 18h1v1h-1zM28 19h1v1h-1zM32 19h1v1h-1zM28 20h2v1h-2zM31 20h2v1h-2zM34 20h1v1h-1zM29 21h3v1h-3zM9 22h1v1h-1zM29 22h3v1h-3zM29 23h3v1h-3zM28 24h2v1h-2zM31 24h2v1h-2zM28 25h1v1h-1zM32 25h1v1h-1zM34 25h1v1h-1zM7 26h1v1h-1zM28 26h1v1h-1zM32 26h1v1h-1zM28 27h1v1h-1zM32 27h1v1h-1zM34 27h1v1h-1zM13 28h5v1h-5zM28 28h1v1h-1zM32 28h1v1h-1zM12 29h2v1h-2zM17 29h2v1h-2zM28 29h1v1h-1zM32 29h1v1h-1zM9 30h1v1h-1zM11 30h2v1h-2zM18 30h2v1h-2zM28 30h1v1h-1zM32 30h1v1h-1zM9 31h1v1h-1zM11 31h1v1h-1zM19 31h1v1h-1zM28 31h1v1h-1zM32 31h1v1h-1zM11 32h2v1h-2zM18 32h2v1h-2zM28 32h1v1h-1zM32 32h1v1h-1zM34 32h1v1h-1zM12 33h2v1h-2zM17 33h2v1h-2zM28 33h2v1h-2zM31 33h2v1h-2zM13 34h5v1h-5zM29 34h3v1h-3zM34 34h1v1h-1zM7 35h1v1h-1zM29 35h3v1h-3z"/><path fill="#0f0f0f" d="M7 0h1v1h-1zM29 0h1v1h-1zM31 0h1v1h-1zM12 3h5v1h-5zM12 4h1v1h-1zM16 4h1v1h-1zM34 4h1v1h-1zM12 5h1v1h-1zM16 5h1v1h-1zM12 6h5v1h-5zM29 6h1v1h-1zM31 6h1v1h-1zM8 7h1v1h-1zM29 7h3v1h-3zM7 8h1v1h-1zM30 8h1v1h-1zM30 11h1v1h-1zM34 11h1v1h-1zM29 12h3v1h-3zM29 13h1v1h-1zM31 13h1v1h-1zM8 16h1v1h-1zM7 17h1v1h-1zM7 18h1v1h-1zM34 18h1v1h-1zM8 19h1v1h-1zM29 19h1v1h-1zM31 19h1v1h-1zM30 20h1v1h-1zM30 24h1v1h-1zM8 25h1v1h-1zM29 25h1v1h-1zM31 25h1v1h-1zM7 27h1v1h-1zM8 28h1v1h-1zM14 29h3v1h-3zM13 30h1v1h-1zM17 30h1v1h-1zM12 31h2v1h-2zM17 31h2v1h-2zM29 31h1v1h-1zM31 31h1v1h-1zM13 32h1v1h-1zM17 32h1v1h-1zM29 32h3v1h-3zM14 33h3v1h-3zM30 33h1v1h-1zM8 34h1v1h-1z"/><path fill="#141414" d="M30 0h1v1h-1zM34 0h1v1h-1zM8 1h1v1h-1zM29 1h1v1h-1zM31 1h1v1h-1zM29 2h1v1h-1zM31 2h1v1h-1zM29 3h1v1h-1zM31 3h1v1h-1zM13 4h3v1h-3zM29 4h1v1h-1zM31 4h1v1h-1zM13 5h3v1h-3zM29 5h1v1h-1zM31 5h1v1h-1zM30 6h1v1h-1zM34 7h1v1h-1zM6 8h1v1h-1zM7 9h1v1h-1zM8 10h1v1h-1zM30 13h1v1h-1zM29 14h1v1h-1zM31 14h1v1h-1zM34 14h1v1h-1zM29 15h1v1h-1zM31 15h1v1h-1zM29 16h1v1h-1zM31 16h1v1h-1zM6 17h1v1h-1zM29 17h1v1h-1zM31 17h1v1h-1zM29 18h1v1h-1zM31 18h1v1h-1zM30 19h1v1h-1zM34 21h1v1h-1zM8 24h1v1h-1zM30 25h1v1h-1zM6 26h1v1h-1zM29 26h1v1h-1zM31 26h1v1h-1zM29 27h1v1h-1zM31 27h1v1h-1zM29 28h1v1h-1zM31 28h1v1h-1zM34 28h1v1h-1zM29 29h1v1h-1zM31 29h1v1h-1zM14 30h3v1h-3zM29 30h1v1h-1zM31 30h1v1h-1zM14 31h3v1h-3zM30 31h1v1h-1zM14 32h3v1h-3zM6 35h1v1h-1zM34 35h1v1h-1z"/><path fill="#191919" d="M6 0h1v1h-1zM30 1h1v1h-1zM8 2h1v1h-1zM30 2h1v1h-1zM34 3h1v1h-1zM30 4h1v1h-1zM30 5h1v1h-1zM8 6h1v1h-1zM5 8h1v1h-1zM34 10h1v1h-1zM8 11h1v1h-1zM30 14h1v1h-1zM8 15h1v1h-1zM30 15h1v1h-1zM5 17h1v1h-1zM30 17h1v1h-1zM34 17h1v1h-1zM6 18h1v1h-1zM30 18h1v1h-1zM8 20h1v1h-1zM8 21h1v1h-1zM8 23h1v1h-1zM34 24h1v1h-1zM5 26h1v1h-1zM30 26h1v1h-1zM6 27h1v1h-1zM30 27h1v1h-1zM8 29h1v1h-1zM30 29h1v1h-1zM30 30h1v1h-1zM34 31h1v1h-1zM8 33h1v1h-1zM5 35h1v1h-1z"/><path fill="#1e1e1e" d="M5 0h1v1h-1zM34 1h1v1h-1zM34 2h1v1h-1zM8 3h1v1h-1zM30 3h1v1h-1zM8 4h1v1h-1zM8 5h1v1h-1zM4 8h1v1h-1zM34 8h1v1h-1zM6 9h1v1h-1zM34 9h1v1h-1zM8 12h1v1h-1zM8 13h1v1h-1zM8 14h1v1h-1zM34 15h1v1h-1zM30 16h1v1h-1zM34 16h1v1h-1zM4 17h1v1h-1zM5 18h1v1h-1zM8 22h1v1h-1zM34 22h1v1h-1zM34 23h1v1h-1zM4 26h1v1h-1zM30 28h1v1h-1zM34 29h1v1h-1zM8 30h1v1h-1zM34 30h1v1h-1zM8 31h1v1h-1zM8 32h1v1h-1zM4 35h1v1h-1z"/><path fill="#232323" d="M4 0h1v1h-1zM5 9h1v1h-1zM7 25h1v1h-1zM0 26h1v1h-1zM3 26h1v1h-1zM5 27h1v1h-1zM7 34h1v1h-1zM3 35h1v1h-1z"/><path fill="#282828" d="M7 7h1v1h-1zM0 8h1v1h-1zM3 8h1v1h-1zM7 16h1v1h-1zM0 17h1v1h-1zM3 17h1v1h-1zM4 18h1v1h-1zM7 19h1v1h-1zM1 26h2v1h-2zM4 27h1v1h-1zM7 28h1v1h-1zM0 35h1v1h-1zM2 35h1v1h-1z"/><path fill="#2d2d2d" d="M0 0h1v1h-1zM3 0h1v1h-1zM7 1h1v1h-1zM1 8h2v1h-2zM4 9h1v1h-1zM7 10h1v1h-1zM1 17h2v1h-2zM3 18h1v1h-1zM1 35h1v1h-1z"/><path fill="#323232" d="M2 0h1v1h-1zM0 18h1v1h-1zM7 24h1v1h-1zM3 27h1v1h-1z"/><path fill="#373737" d="M1 0h1v1h-1zM3 9h1v1h-1zM2 18h1v1h-1zM7 20h1v1h-1zM6 25h1v1h-1zM0 27h1v1h-1zM2 27h1v1h-1zM7 29h1v1h-1zM7 33h1v1h-1zM6 34h1v1h-1z"/><path fill="#3c3c3c" d="M7 2h1v1h-1zM7 6h1v1h-1zM6 7h1v1h-1zM0 9h1v1h-1zM2 9h1v1h-1zM7 11h1v1h-1zM7 15h1v1h-1zM6 16h1v1h-1zM1 18h1v1h-1zM6 19h1v1h-1zM7 23h1v1h-1zM1 27h1v1h-1zM6 28h1v1h-1z"/><path fill="#414141" d="M6 1h1v1h-1zM1 9h1v1h-1zM6 10h1v1h-1zM7 21h1v1h-1zM7 22h1v1h-1zM5 25h1v1h-1zM7 30h1v1h-1zM7 32h1v1h-1z"/><path fill="#464646" d="M7 3h1v1h-1zM7 5h1v1h-1zM7 12h1v1h-1zM7 14h1v1h-1zM7 31h1v1h-1zM5 34h1v1h-1z"/><path fill="#4b4b4b" d="M7 4h1v1h-1zM5 7h1v1h-1zM7 13h1v1h-1zM5 16h1v1h-1zM5 19h1v1h-1z"/><path fill="#505050" d="M6 24h1v1h-1zM5 28h1v1h-1z"/><path fill="#555" d="M5 1h1v1h-1zM5 10h1v1h-1zM6 20h1v1h-1zM4 25h1v1h-1zM6 33h1v1h-1z"/><path fill="#5a5a5a" d="M6 6h1v1h-1zM6 15h1v1h-1zM6 29h1v1h-1zM4 34h1v1h-1z"/><path fill="#5f5f5f" d="M6 2h1v1h-1zM4 7h1v1h-1zM6 11h1v1h-1zM4 16h1v1h-1zM4 19h1v1h-1z"/><path fill="#646464" d="M6 21h1v1h-1zM6 23h1v1h-1zM5 24h1v1h-1zM3 25h1v1h-1zM4 28h1v1h-1zM6 32h1v1h-1z"/><path fill="#696969" d="M4 1h1v1h-1zM4 10h1v1h-1zM5 20h1v1h-1zM6 22h1v1h-1zM6 30h1v1h-1zM5 33h1v1h-1zM3 34h1v1h-1z"/><path fill="#6e6e6e" d="M6 5h1v1h-1zM3 7h1v1h-1zM6 14h1v1h-1zM3 16h1v1h-1zM3 19h1v1h-1zM0 25h1v1h-1zM5 29h1v1h-1zM6 31h1v1h-1z"/><path fill="#737373" d="M6 3h1v1h-1zM5 6h1v1h-1zM6 12h1v1h-1zM5 15h1v1h-1zM2 25h1v1h-1zM3 28h1v1h-1zM0 34h1v1h-1z"/><path fill="#787878" d="M5 2h1v1h-1zM6 4h1v1h-1zM5 11h1v1h-1zM6 13h1v1h-1zM0 19h1v1h-1zM2 34h1v1h-1z"/><path fill="#7d7d7d" d="M3 1h1v1h-1zM0 7h1v1h-1zM3 10h1v1h-1zM0 16h1v1h-1zM2 19h1v1h-1zM5 21h1v1h-1zM5 23h1v1h-1zM4 24h1v1h-1zM1 25h1v1h-1zM0 28h1v1h-1z"/><path fill="#828282" d="M2 7h1v1h-1zM2 16h1v1h-1zM2 28h1v1h-1zM5 32h1v1h-1zM1 34h1v1h-1z"/><path fill="#878787" d="M0 1h1v1h-1zM0 10h1v1h-1zM1 19h1v1h-1zM4 20h1v1h-1zM5 22h1v1h-1zM5 30h1v1h-1zM4 33h1v1h-1z"/><path fill="#8c8c8c" d="M5 5h1v1h-1zM1 7h1v1h-1zM5 14h1v1h-1zM1 16h1v1h-1zM4 29h1v1h-1zM5 31h1v1h-1z"/><path fill="#919191" d="M2 1h1v1h-1zM5 3h1v1h-1zM4 6h1v1h-1zM2 10h1v1h-1zM5 12h1v1h-1zM4 15h1v1h-1zM1 28h1v1h-1z"/><path fill="#969696" d="M5 4h1v1h-1zM5 13h1v1h-1zM3 24h1v1h-1z"/><path fill="#9b9b9b" d="M1 1h1v1h-1zM4 2h1v1h-1zM1 10h1v1h-1zM4 11h1v1h-1zM3 20h1v1h-1zM4 23h1v1h-1zM3 33h1v1h-1z"/><path fill="#a0a0a0" d="M4 21h1v1h-1zM4 32h1v1h-1z"/><path fill="#a5a5a5" d="M4 22h1v1h-1zM0 24h1v1h-1zM3 29h1v1h-1zM4 30h1v1h-1z"/><path fill="#aaa" d="M3 6h1v1h-1zM3 15h1v1h-1zM2 24h1v1h-1zM0 33h1v1h-1z"/><path fill="#afafaf" d="M4 5h1v1h-1zM4 14h1v1h-1zM0 20h1v1h-1zM4 31h1v1h-1z"/><path fill="#b4b4b4" d="M3 2h1v1h-1zM4 3h1v1h-1zM3 11h1v1h-1zM4 12h1v1h-1zM2 20h1v1h-1zM3 23h1v1h-1zM0 29h1v1h-1zM2 33h1v1h-1z"/><path fill="#b9b9b9" d="M0 6h1v1h-1zM0 15h1v1h-1zM3 21h1v1h-1zM1 24h1v1h-1z"/><path fill="#bebebe" d="M4 4h1v1h-1zM4 13h1v1h-1zM2 29h1v1h-1zM3 32h1v1h-1z"/><path fill="#c3c3c3" d="M0 2h1v1h-1zM2 6h1v1h-1zM0 11h1v1h-1zM2 15h1v1h-1zM1 20h1v1h-1zM3 22h1v1h-1zM3 30h1v1h-1zM1 33h1v1h-1z"/><path fill="#c8c8c8" d="M0 23h1v1h-1z"/><path fill="#cdcdcd" d="M2 2h1v1h-1zM3 5h1v1h-1zM2 11h1v1h-1zM3 14h1v1h-1zM0 21h1v1h-1zM1 29h1v1h-1zM3 31h1v1h-1z"/><path fill="#d2d2d2" d="M3 3h1v1h-1zM1 6h1v1h-1zM3 12h1v1h-1zM1 15h1v1h-1zM2 23h1v1h-1zM0 32h1v1h-1z"/><path fill="#d7d7d7" d="M2 21h1v1h-1zM0 22h1v1h-1zM0 30h1v1h-1z"/><path fill="#dcdcdc" d="M1 2h1v1h-1zM3 4h1v1h-1zM1 11h1v1h-1zM3 13h1v1h-1zM2 32h1v1h-1z"/><path fill="#e1e1e1" d="M0 5h1v1h-1zM0 14h1v1h-1zM2 22h1v1h-1zM1 23h1v1h-1zM2 30h1v1h-1zM0 31h1v1h-1z"/><path fill="#e6e6e6" d="M0 3h1v1h-1zM0 12h1v1h-1zM1 21h1v1h-1z"/><path fill="#ebebeb" d="M2 5h1v1h-1zM2 14h1v1h-1zM2 31h1v1h-1zM1 32h1v1h-1z"/><path fill="#f0f0f0" d="M1 22h1v1h-1zM1 30h1v1h-1z"/><path fill="#f5f5f5" d="M2 3h1v1h-1zM0 4h1v1h-1zM2 12h1v1h-1zM0 13h1v1h-1z"/><path fill="#fff" d="M1 3h1v1h-1zM1 4h2v1h-2zM1 5h1v1h-1zM1 12h1v1h-1zM1 13h2v1h-2zM1 14h1v1h-1zM1 31h1v1h-1z"/></g></g>
<rect x="1584.6" y="1058.25" width="345.5" height="352.5" fill="none" stroke="#000" stroke-width="2"/>
<rect x="1671.37" y="1144.06" width="15.4" height="15.2" fill="#ff0000"/>
<line x1="1576.6" y1="1063.15" x2="1584.6" y2="1063.15" stroke="#000" stroke-width="1.6"/>
<text transform="translate(1570.6 1072.05) scale(1.04 1)" font-size="23" font-family="'DejaVu Sans','Liberation Sans',sans-serif" text-anchor="end" fill="#262626">0</text>
<line x1="1576.6" y1="1239.4" x2="1584.6" y2="1239.4" stroke="#000" stroke-width="1.6"/>
<text transform="translate(1569 1250) scale(0.93 1)" font-size="23" font-family="'DejaVu Sans','Liberation Sans',sans-serif" text-anchor="end" fill="#262626">180</text>
<line x1="1576.6" y1="1405.85" x2="1584.6" y2="1405.85" stroke="#000" stroke-width="1.6"/>
<text transform="translate(1566.3 1416.45) scale(0.93 1)" font-size="23" font-family="'DejaVu Sans','Liberation Sans',sans-serif" text-anchor="end" fill="#262626">350</text>
<line x1="1589.54" y1="1410.75" x2="1589.54" y2="1419.25" stroke="#000" stroke-width="1.6"/>
<text transform="translate(1589.04 1446.5) scale(0.93 1)" font-size="23" font-family="'DejaVu Sans','Liberation Sans',sans-serif" text-anchor="middle" fill="#262626">270</text>
<line x1="1925.16" y1="1410.75" x2="1925.16" y2="1419.25" stroke="#000" stroke-width="1.6"/>
<text transform="translate(1924.66 1445.7) scale(0.93 1)" font-size="23" font-family="'DejaVu Sans','Liberation Sans',sans-serif" text-anchor="middle" fill="#262626">780</text>
<text x="1654" y="1451.4" font-size="27" font-family="'Liberation Sans',sans-serif" textLength="209.94" lengthAdjust="spacingAndGlyphs">Wavelength (nm)</text>
<text x="1725" y="1036.75" font-size="27" font-family="'DejaVu Serif','Liberation Serif',serif" textLength="51.5" lengthAdjust="spacingAndGlyphs"><tspan font-style="italic">σ</tspan><tspan font-style="italic" font-size="19" dy="6">PSA</tspan></text>
<rect x="1665.9" y="1475.65" width="185.45" height="18.2" fill="url(#gb)" stroke="#000" stroke-width="3.8"/>
<text x="1635" y="1493.9" font-size="27.3" font-family="'Liberation Sans',sans-serif" textLength="14.03" lengthAdjust="spacingAndGlyphs">0</text>
<text x="1866.5" y="1493.9" font-size="27.3" font-family="'Liberation Sans',sans-serif" textLength="52.53" lengthAdjust="spacingAndGlyphs">0.05</text>
<text x="1730" y="1526.25" font-size="27" font-family="'Liberation Sans',sans-serif" textLength="61" lengthAdjust="spacingAndGlyphs"><tspan font-style="italic" font-family="'DejaVu Serif','Liberation Serif',serif">σ</tspan> RT</text>
</svg></body></html>
